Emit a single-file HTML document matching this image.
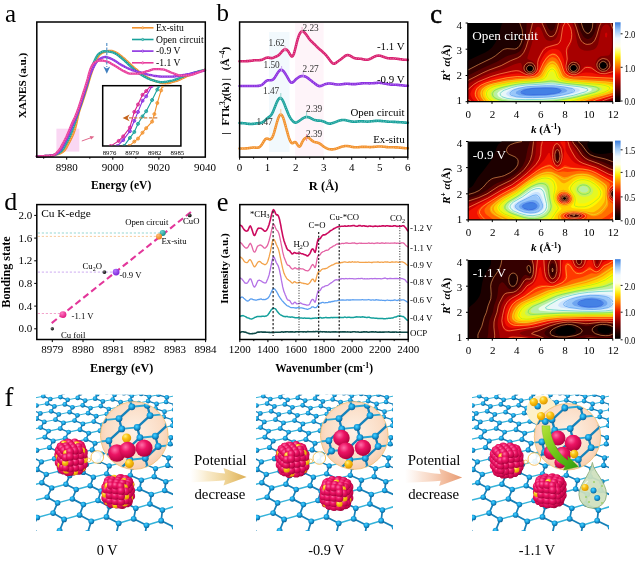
<!DOCTYPE html>
<html><head><meta charset="utf-8"><title>Figure</title>
<style>html,body{margin:0;padding:0;background:#fff}svg{display:block}text{font-family:"Liberation Serif",serif}</style>
</head><body>
<svg width="640" height="564" viewBox="0 0 640 564">
<rect width="640" height="564" fill="#fff"/>
<text x="5" y="21.5" font-size="25">a</text>
<rect x="56.4" y="128.7" width="22.9" height="22.9" fill="#f9cdf0" opacity=".8"/>
<path d="M36.8 156.3 38.2 156.3 39.6 156.3 41 156.2 42.5 156.1 43.9 156.1 45.3 156 46.7 155.9 48.1 155.8 49.5 155.7 50.9 155.5 52.3 155.3 53.8 155 55.2 154.8 56.6 154.5 58 154.1 59.4 153.6 60.8 153.1 62.2 152.3 63.7 151.1 65.1 149.6 66.5 147.5 67.9 144.8 69.3 142.1 70.7 139.5 72.1 136.6 73.5 133.4 75 129 76.4 123.4 77.8 116.8 79.2 111.3 80.6 107 82 103.1 83.4 98.9 84.9 94.5 86.3 89.9 87.7 85.3 89.1 80.5 90.5 76 91.9 71.7 93.3 67.5 94.8 63.4 96.2 60.2 97.6 57.5 99 55.3 100.4 54 101.8 53.1 103.2 52.3 104.6 51.8 106.1 51.4 107.5 51.1 108.9 50.9 110.3 50.8 111.7 50.9 113.1 51.4 114.5 51.9 116 52.6 117.4 53.3 118.8 54.2 120.2 55.3 121.6 56.4 123 57.6 124.4 58.7 125.8 60 127.3 61.3 128.7 62.7 130.1 64 131.5 65.4 132.9 66.6 134.3 67.8 135.7 69 137.2 70.2 138.6 71.4 140 72.5 141.4 73.6 142.8 74.5 144.2 75.5 145.6 76.4 147 77.2 148.5 78 149.9 78.8 151.3 79.5 152.7 80.1 154.1 80.6 155.5 81.1 156.9 81.6 158.4 82 159.8 82.4 161.2 82.8 162.6 83.1 164 83.2 165.4 83.3 166.8 83.2 168.3 83 169.7 82.8 171.1 82.4 172.5 82 173.9 81.6 175.3 81.2 176.7 80.8 178.1 80.3 179.6 79.7 181 79 182.4 78.3 183.8 77.6 185.2 77 186.6 76.3 188 75.7 189.5 75.1 190.9 74.6 192.3 74 193.7 73.4 195.1 72.9 196.5 72.4 197.9 71.9 199.3 71.4 200.8 71 202.2 70.6 203.6 70.2 205 69.9" fill="none" stroke="#f2912c" stroke-width="2.3" stroke-linejoin="round" stroke-linecap="round"/><path d="M36.8 156.3 38.2 156.3 39.6 156.3 41 156.2 42.5 156.1 43.9 156.1 45.3 156 46.7 155.9 48.1 155.8 49.5 155.7 50.9 155.5 52.3 155.3 53.8 155 55.2 154.8 56.6 154.5 58 154.1 59.4 153.6 60.8 153.1 62.2 152.3 63.7 151.1 65.1 149.6 66.5 147.5 67.9 144.8 69.3 142.1 70.7 139.5 72.1 136.6 73.5 133.4 75 129 76.4 123.4 77.8 116.8 79.2 111.3 80.6 107 82 103.1 83.4 98.9 84.9 94.5 86.3 89.9 87.7 85.3 89.1 80.5 90.5 76 91.9 71.7 93.3 67.5 94.8 63.4 96.2 60.2 97.6 57.5 99 55.3 100.4 54 101.8 53.1 103.2 52.3 104.6 51.8 106.1 51.4 107.5 51.1 108.9 50.9 110.3 50.8 111.7 50.9 113.1 51.4 114.5 51.9 116 52.6 117.4 53.3 118.8 54.2 120.2 55.3 121.6 56.4 123 57.6 124.4 58.7 125.8 60 127.3 61.3 128.7 62.7 130.1 64 131.5 65.4 132.9 66.6 134.3 67.8 135.7 69 137.2 70.2 138.6 71.4 140 72.5 141.4 73.6 142.8 74.5 144.2 75.5 145.6 76.4 147 77.2 148.5 78 149.9 78.8 151.3 79.5 152.7 80.1 154.1 80.6 155.5 81.1 156.9 81.6 158.4 82 159.8 82.4 161.2 82.8 162.6 83.1 164 83.2 165.4 83.3 166.8 83.2 168.3 83 169.7 82.8 171.1 82.4 172.5 82 173.9 81.6 175.3 81.2 176.7 80.8 178.1 80.3 179.6 79.7 181 79 182.4 78.3 183.8 77.6 185.2 77 186.6 76.3 188 75.7 189.5 75.1 190.9 74.6 192.3 74 193.7 73.4 195.1 72.9 196.5 72.4 197.9 71.9 199.3 71.4 200.8 71 202.2 70.6 203.6 70.2 205 69.9" fill="none" stroke="#fff" stroke-opacity=".35" stroke-width="0.9" stroke-dasharray="1.2 1.2"/>
<path d="M36.8 156.3 38.2 156.3 39.6 156.3 41 156.2 42.5 156.1 43.9 156.1 45.3 156 46.7 155.9 48.1 155.8 49.5 155.7 50.9 155.5 52.3 155.3 53.8 155 55.2 154.7 56.6 154.2 58 153.5 59.4 152.7 60.8 151.6 62.2 150.1 63.7 148.2 65.1 145.6 66.5 142.9 67.9 140.3 69.3 137.5 70.7 134.4 72.1 130.8 73.5 126.6 75 122.3 76.4 118 77.8 113.6 79.2 109.4 80.6 105.3 82 101.1 83.4 96.8 84.9 92.2 86.3 87.6 87.7 83.1 89.1 78.3 90.5 73.2 91.9 68.1 93.3 63.6 94.8 60.2 96.2 57.3 97.6 55 99 53.7 100.4 52.7 101.8 51.9 103.2 51.4 104.6 51.2 106.1 51.3 107.5 51.4 108.9 51.6 110.3 51.8 111.7 52.1 113.1 52.5 114.5 53.1 116 53.9 117.4 54.9 118.8 55.9 120.2 57 121.6 58.1 123 59.3 124.4 60.5 125.8 61.9 127.3 63.2 128.7 64.6 130.1 65.9 131.5 67.1 132.9 68.3 134.3 69.5 135.7 70.8 137.2 71.9 138.6 73 140 74 141.4 74.9 142.8 75.8 144.2 76.6 145.6 77.3 147 78.1 148.5 78.7 149.9 79.3 151.3 79.8 152.7 80.2 154.1 80.7 155.5 81.1 156.9 81.5 158.4 81.8 159.8 82 161.2 82.1 162.6 82.1 164 82 165.4 81.8 166.8 81.6 168.3 81.3 169.7 81 171.1 80.8 172.5 80.5 173.9 80.1 175.3 79.6 176.7 79.1 178.1 78.6 179.6 78 181 77.4 182.4 76.8 183.8 76.3 185.2 75.7 186.6 75.2 188 74.8 189.5 74.3 190.9 73.8 192.3 73.3 193.7 72.8 195.1 72.4 196.5 72 197.9 71.6 199.3 71.2 200.8 70.8 202.2 70.5 203.6 70.2 205 69.9" fill="none" stroke="#18a19b" stroke-width="2.3" stroke-linejoin="round" stroke-linecap="round"/><path d="M36.8 156.3 38.2 156.3 39.6 156.3 41 156.2 42.5 156.1 43.9 156.1 45.3 156 46.7 155.9 48.1 155.8 49.5 155.7 50.9 155.5 52.3 155.3 53.8 155 55.2 154.7 56.6 154.2 58 153.5 59.4 152.7 60.8 151.6 62.2 150.1 63.7 148.2 65.1 145.6 66.5 142.9 67.9 140.3 69.3 137.5 70.7 134.4 72.1 130.8 73.5 126.6 75 122.3 76.4 118 77.8 113.6 79.2 109.4 80.6 105.3 82 101.1 83.4 96.8 84.9 92.2 86.3 87.6 87.7 83.1 89.1 78.3 90.5 73.2 91.9 68.1 93.3 63.6 94.8 60.2 96.2 57.3 97.6 55 99 53.7 100.4 52.7 101.8 51.9 103.2 51.4 104.6 51.2 106.1 51.3 107.5 51.4 108.9 51.6 110.3 51.8 111.7 52.1 113.1 52.5 114.5 53.1 116 53.9 117.4 54.9 118.8 55.9 120.2 57 121.6 58.1 123 59.3 124.4 60.5 125.8 61.9 127.3 63.2 128.7 64.6 130.1 65.9 131.5 67.1 132.9 68.3 134.3 69.5 135.7 70.8 137.2 71.9 138.6 73 140 74 141.4 74.9 142.8 75.8 144.2 76.6 145.6 77.3 147 78.1 148.5 78.7 149.9 79.3 151.3 79.8 152.7 80.2 154.1 80.7 155.5 81.1 156.9 81.5 158.4 81.8 159.8 82 161.2 82.1 162.6 82.1 164 82 165.4 81.8 166.8 81.6 168.3 81.3 169.7 81 171.1 80.8 172.5 80.5 173.9 80.1 175.3 79.6 176.7 79.1 178.1 78.6 179.6 78 181 77.4 182.4 76.8 183.8 76.3 185.2 75.7 186.6 75.2 188 74.8 189.5 74.3 190.9 73.8 192.3 73.3 193.7 72.8 195.1 72.4 196.5 72 197.9 71.6 199.3 71.2 200.8 70.8 202.2 70.5 203.6 70.2 205 69.9" fill="none" stroke="#fff" stroke-opacity=".35" stroke-width="0.9" stroke-dasharray="1.2 1.2"/>
<path d="M36.8 156.3 38.2 156.3 39.6 156.3 41 156.2 42.5 156.1 43.9 156.1 45.3 156 46.7 155.9 48.1 155.8 49.5 155.7 50.9 155.5 52.3 155.3 53.8 155.1 55.2 154.5 56.6 153.6 58 152.5 59.4 151.1 60.8 149.4 62.2 147.2 63.7 144.5 65.1 141.8 66.5 139.2 67.9 136.2 69.3 133 70.7 129.5 72.1 125.9 73.5 122.6 75 119.4 76.4 116.1 77.8 112.5 79.2 108.5 80.6 104.3 82 99.9 83.4 95.5 84.9 90.9 86.3 86.2 87.7 81.4 89.1 77 90.5 73.6 91.9 70.6 93.3 67.6 94.8 64.8 96.2 62.5 97.6 60.9 99 59.5 100.4 58.5 101.8 57.9 103.2 57.4 104.6 57 106.1 57 107.5 57.3 108.9 57.8 110.3 58.4 111.7 59 113.1 59.7 114.5 60.5 116 61.4 117.4 62.4 118.8 63.4 120.2 64.3 121.6 65.1 123 65.8 124.4 66.6 125.8 67.3 127.3 68 128.7 68.6 130.1 69.2 131.5 69.8 132.9 70.3 134.3 70.7 135.7 71.1 137.2 71.6 138.6 72 140 72.3 141.4 72.7 142.8 73.1 144.2 73.5 145.6 73.9 147 74.3 148.5 74.7 149.9 75 151.3 75.2 152.7 75.5 154.1 75.8 155.5 76 156.9 76.2 158.4 76.4 159.8 76.5 161.2 76.6 162.6 76.6 164 76.6 165.4 76.6 166.8 76.6 168.3 76.6 169.7 76.6 171.1 76.6 172.5 76.6 173.9 76.5 175.3 76.4 176.7 76.2 178.1 76 179.6 75.7 181 75.5 182.4 75.2 183.8 74.9 185.2 74.7 186.6 74.4 188 74.1 189.5 73.9 190.9 73.5 192.3 73.2 193.7 72.9 195.1 72.6 196.5 72.3 197.9 72 199.3 71.7 200.8 71.4 202.2 71.1 203.6 70.8 205 70.5" fill="none" stroke="#8b2fe0" stroke-width="2.3" stroke-linejoin="round" stroke-linecap="round"/><path d="M36.8 156.3 38.2 156.3 39.6 156.3 41 156.2 42.5 156.1 43.9 156.1 45.3 156 46.7 155.9 48.1 155.8 49.5 155.7 50.9 155.5 52.3 155.3 53.8 155.1 55.2 154.5 56.6 153.6 58 152.5 59.4 151.1 60.8 149.4 62.2 147.2 63.7 144.5 65.1 141.8 66.5 139.2 67.9 136.2 69.3 133 70.7 129.5 72.1 125.9 73.5 122.6 75 119.4 76.4 116.1 77.8 112.5 79.2 108.5 80.6 104.3 82 99.9 83.4 95.5 84.9 90.9 86.3 86.2 87.7 81.4 89.1 77 90.5 73.6 91.9 70.6 93.3 67.6 94.8 64.8 96.2 62.5 97.6 60.9 99 59.5 100.4 58.5 101.8 57.9 103.2 57.4 104.6 57 106.1 57 107.5 57.3 108.9 57.8 110.3 58.4 111.7 59 113.1 59.7 114.5 60.5 116 61.4 117.4 62.4 118.8 63.4 120.2 64.3 121.6 65.1 123 65.8 124.4 66.6 125.8 67.3 127.3 68 128.7 68.6 130.1 69.2 131.5 69.8 132.9 70.3 134.3 70.7 135.7 71.1 137.2 71.6 138.6 72 140 72.3 141.4 72.7 142.8 73.1 144.2 73.5 145.6 73.9 147 74.3 148.5 74.7 149.9 75 151.3 75.2 152.7 75.5 154.1 75.8 155.5 76 156.9 76.2 158.4 76.4 159.8 76.5 161.2 76.6 162.6 76.6 164 76.6 165.4 76.6 166.8 76.6 168.3 76.6 169.7 76.6 171.1 76.6 172.5 76.6 173.9 76.5 175.3 76.4 176.7 76.2 178.1 76 179.6 75.7 181 75.5 182.4 75.2 183.8 74.9 185.2 74.7 186.6 74.4 188 74.1 189.5 73.9 190.9 73.5 192.3 73.2 193.7 72.9 195.1 72.6 196.5 72.3 197.9 72 199.3 71.7 200.8 71.4 202.2 71.1 203.6 70.8 205 70.5" fill="none" stroke="#fff" stroke-opacity=".35" stroke-width="0.9" stroke-dasharray="1.2 1.2"/>
<path d="M36.8 156.3 38.2 156.3 39.6 156.3 41 156.2 42.5 156.1 43.9 156.1 45.3 156 46.7 155.9 48.1 155.8 49.5 155.7 50.9 155.5 52.3 155.3 53.8 155.1 55.2 154.2 56.6 152.8 58 151.3 59.4 149.7 60.8 147.6 62.2 144.9 63.7 142.2 65.1 139.6 66.5 136.7 67.9 133.4 69.3 130.1 70.7 126.6 72.1 123.3 73.5 120.2 75 117.2 76.4 113.8 77.8 110 79.2 105.9 80.6 101.5 82 97.1 83.4 92.6 84.9 88 86.3 83.5 87.7 78.8 89.1 73.3 90.5 68.9 91.9 65.8 93.3 63.6 94.8 62.3 96.2 61.5 97.6 60.9 99 60.5 100.4 60.4 101.8 60.5 103.2 60.7 104.6 61 106.1 61.3 107.5 61.7 108.9 62.3 110.3 63.1 111.7 63.9 113.1 64.7 114.5 65.5 116 66.4 117.4 67.3 118.8 68.2 120.2 69.1 121.6 69.9 123 70.7 124.4 71.4 125.8 72.1 127.3 72.8 128.7 73.3 130.1 73.6 131.5 73.6 132.9 73.6 134.3 73.6 135.7 73.6 137.2 73.6 138.6 73.6 140 73.5 141.4 73.2 142.8 72.7 144.2 72.2 145.6 71.6 147 71.2 148.5 70.8 149.9 70.3 151.3 69.8 152.7 69.4 154.1 69.2 155.5 69.1 156.9 69.1 158.4 69.2 159.8 69.2 161.2 69.3 162.6 69.4 164 69.6 165.4 70 166.8 70.6 168.3 71.2 169.7 71.9 171.1 72.5 172.5 73 173.9 73.5 175.3 74.1 176.7 74.6 178.1 75.1 179.6 75.4 181 75.6 182.4 75.6 183.8 75.6 185.2 75.5 186.6 75.4 188 75.3 189.5 75.2 190.9 75 192.3 74.7 193.7 74.2 195.1 73.6 196.5 73.1 197.9 72.6 199.3 72.1 200.8 71.5 202.2 71 203.6 70.5 205 69.9" fill="none" stroke="#e8399a" stroke-width="2.3" stroke-linejoin="round" stroke-linecap="round"/><path d="M36.8 156.3 38.2 156.3 39.6 156.3 41 156.2 42.5 156.1 43.9 156.1 45.3 156 46.7 155.9 48.1 155.8 49.5 155.7 50.9 155.5 52.3 155.3 53.8 155.1 55.2 154.2 56.6 152.8 58 151.3 59.4 149.7 60.8 147.6 62.2 144.9 63.7 142.2 65.1 139.6 66.5 136.7 67.9 133.4 69.3 130.1 70.7 126.6 72.1 123.3 73.5 120.2 75 117.2 76.4 113.8 77.8 110 79.2 105.9 80.6 101.5 82 97.1 83.4 92.6 84.9 88 86.3 83.5 87.7 78.8 89.1 73.3 90.5 68.9 91.9 65.8 93.3 63.6 94.8 62.3 96.2 61.5 97.6 60.9 99 60.5 100.4 60.4 101.8 60.5 103.2 60.7 104.6 61 106.1 61.3 107.5 61.7 108.9 62.3 110.3 63.1 111.7 63.9 113.1 64.7 114.5 65.5 116 66.4 117.4 67.3 118.8 68.2 120.2 69.1 121.6 69.9 123 70.7 124.4 71.4 125.8 72.1 127.3 72.8 128.7 73.3 130.1 73.6 131.5 73.6 132.9 73.6 134.3 73.6 135.7 73.6 137.2 73.6 138.6 73.6 140 73.5 141.4 73.2 142.8 72.7 144.2 72.2 145.6 71.6 147 71.2 148.5 70.8 149.9 70.3 151.3 69.8 152.7 69.4 154.1 69.2 155.5 69.1 156.9 69.1 158.4 69.2 159.8 69.2 161.2 69.3 162.6 69.4 164 69.6 165.4 70 166.8 70.6 168.3 71.2 169.7 71.9 171.1 72.5 172.5 73 173.9 73.5 175.3 74.1 176.7 74.6 178.1 75.1 179.6 75.4 181 75.6 182.4 75.6 183.8 75.6 185.2 75.5 186.6 75.4 188 75.3 189.5 75.2 190.9 75 192.3 74.7 193.7 74.2 195.1 73.6 196.5 73.1 197.9 72.6 199.3 72.1 200.8 71.5 202.2 71 203.6 70.5 205 69.9" fill="none" stroke="#fff" stroke-opacity=".35" stroke-width="0.9" stroke-dasharray="1.2 1.2"/>
<path d="M106.8 43v24" stroke="#4a8ac4" stroke-width="1.1" stroke-dasharray="3 1.6" fill="none"/>
<path d="M103.4 66.5l3.4 2 3.4-2-3.4 7.2z" fill="#3f7fbf"/>
<path d="M132 27.8h21.5" stroke="#f2912c" stroke-width="1.6"/>
<circle cx="142.7" cy="27.8" r="1.1" fill="#fff" fill-opacity=".5" stroke="#f2912c" stroke-width=".8"/>
<text x="156" y="30.9" font-size="9.6">Ex-situ</text>
<path d="M132 39.5h21.5" stroke="#18a19b" stroke-width="1.6"/>
<circle cx="142.7" cy="39.5" r="1.1" fill="#fff" fill-opacity=".5" stroke="#18a19b" stroke-width=".8"/>
<text x="156" y="42.6" font-size="9.6">Open circuit</text>
<path d="M132 51.1h21.5" stroke="#8b2fe0" stroke-width="1.6"/>
<circle cx="142.7" cy="51.1" r="1.1" fill="#fff" fill-opacity=".5" stroke="#8b2fe0" stroke-width=".8"/>
<text x="156" y="54.2" font-size="9.6">-0.9 V</text>
<path d="M132 62.8h21.5" stroke="#e8399a" stroke-width="1.6"/>
<circle cx="142.7" cy="62.8" r="1.1" fill="#fff" fill-opacity=".5" stroke="#e8399a" stroke-width=".8"/>
<text x="156" y="65.8" font-size="9.6">-1.1 V</text>
<path d="M81.8 141l9.5-3.4" stroke="#e0688c" stroke-width="1" fill="none"/><path d="M94.3 136.5l-4.6-.4 1.4 3.3z" fill="#e0688c"/>
<rect x="102.7" y="85.7" width="78.2" height="60.3" fill="#fff" stroke="#000" stroke-width="1.5"/>
<clipPath id="ci"><rect x="103.4" y="86.4" width="76.8" height="58.9"/></clipPath>
<g clip-path="url(#ci)"><path d="M129.1 146.1 134.3 141.6 138 138.6 142.5 132.7 146.2 128.2 152.1 121.6 154.4 114.1 157.3 103 161.1 90.4 162.5 85.9" fill="none" stroke="#f2912c" stroke-width="1.1"/><circle cx="129.1" cy="146.1" r="1.5" fill="#f2912c" fill-opacity=".55" stroke="#f2912c" stroke-width=".9"/><circle cx="134.3" cy="141.6" r="1.5" fill="#f2912c" fill-opacity=".55" stroke="#f2912c" stroke-width=".9"/><circle cx="138" cy="138.6" r="1.5" fill="#f2912c" fill-opacity=".55" stroke="#f2912c" stroke-width=".9"/><circle cx="142.5" cy="132.7" r="1.5" fill="#f2912c" fill-opacity=".55" stroke="#f2912c" stroke-width=".9"/><circle cx="146.2" cy="128.2" r="1.5" fill="#f2912c" fill-opacity=".55" stroke="#f2912c" stroke-width=".9"/><circle cx="152.1" cy="121.6" r="1.5" fill="#f2912c" fill-opacity=".55" stroke="#f2912c" stroke-width=".9"/><circle cx="154.4" cy="114.1" r="1.5" fill="#f2912c" fill-opacity=".55" stroke="#f2912c" stroke-width=".9"/><circle cx="157.3" cy="103" r="1.5" fill="#f2912c" fill-opacity=".55" stroke="#f2912c" stroke-width=".9"/><circle cx="161.1" cy="90.4" r="1.5" fill="#f2912c" fill-opacity=".55" stroke="#f2912c" stroke-width=".9"/><circle cx="162.5" cy="85.9" r="1.5" fill="#f2912c" fill-opacity=".55" stroke="#f2912c" stroke-width=".9"/><path d="M123.9 146.1 129.9 137.9 134.3 132 138 123.8 142.5 116.4 146.2 111.2 152.1 100 157.3 89.6 158.8 85.9" fill="none" stroke="#18a19b" stroke-width="1.1"/><circle cx="123.9" cy="146.1" r="1.5" fill="#18a19b" fill-opacity=".55" stroke="#18a19b" stroke-width=".9"/><circle cx="129.9" cy="137.9" r="1.5" fill="#18a19b" fill-opacity=".55" stroke="#18a19b" stroke-width=".9"/><circle cx="134.3" cy="132" r="1.5" fill="#18a19b" fill-opacity=".55" stroke="#18a19b" stroke-width=".9"/><circle cx="138" cy="123.8" r="1.5" fill="#18a19b" fill-opacity=".55" stroke="#18a19b" stroke-width=".9"/><circle cx="142.5" cy="116.4" r="1.5" fill="#18a19b" fill-opacity=".55" stroke="#18a19b" stroke-width=".9"/><circle cx="146.2" cy="111.2" r="1.5" fill="#18a19b" fill-opacity=".55" stroke="#18a19b" stroke-width=".9"/><circle cx="152.1" cy="100" r="1.5" fill="#18a19b" fill-opacity=".55" stroke="#18a19b" stroke-width=".9"/><circle cx="157.3" cy="89.6" r="1.5" fill="#18a19b" fill-opacity=".55" stroke="#18a19b" stroke-width=".9"/><circle cx="158.8" cy="85.9" r="1.5" fill="#18a19b" fill-opacity=".55" stroke="#18a19b" stroke-width=".9"/><path d="M117.3 146.1 123.2 140.1 129.9 131.2 134.3 120.8 138 111.9 142.5 100.8 146.2 96.3 152.1 85.9" fill="none" stroke="#8b2fe0" stroke-width="1.1"/><circle cx="117.3" cy="146.1" r="1.5" fill="#8b2fe0" fill-opacity=".55" stroke="#8b2fe0" stroke-width=".9"/><circle cx="123.2" cy="140.1" r="1.5" fill="#8b2fe0" fill-opacity=".55" stroke="#8b2fe0" stroke-width=".9"/><circle cx="129.9" cy="131.2" r="1.5" fill="#8b2fe0" fill-opacity=".55" stroke="#8b2fe0" stroke-width=".9"/><circle cx="134.3" cy="120.8" r="1.5" fill="#8b2fe0" fill-opacity=".55" stroke="#8b2fe0" stroke-width=".9"/><circle cx="138" cy="111.9" r="1.5" fill="#8b2fe0" fill-opacity=".55" stroke="#8b2fe0" stroke-width=".9"/><circle cx="142.5" cy="100.8" r="1.5" fill="#8b2fe0" fill-opacity=".55" stroke="#8b2fe0" stroke-width=".9"/><circle cx="146.2" cy="96.3" r="1.5" fill="#8b2fe0" fill-opacity=".55" stroke="#8b2fe0" stroke-width=".9"/><circle cx="152.1" cy="85.9" r="1.5" fill="#8b2fe0" fill-opacity=".55" stroke="#8b2fe0" stroke-width=".9"/><path d="M110.6 146.1 118.7 140.9 123.2 136.4 129.9 127.5 134.3 111.9 138 104.5 142.5 94.8 146.2 91.1 150.7 85.9" fill="none" stroke="#d81e8c" stroke-width="1.1"/><circle cx="110.6" cy="146.1" r="1.5" fill="#d81e8c" fill-opacity=".55" stroke="#d81e8c" stroke-width=".9"/><circle cx="118.7" cy="140.9" r="1.5" fill="#d81e8c" fill-opacity=".55" stroke="#d81e8c" stroke-width=".9"/><circle cx="123.2" cy="136.4" r="1.5" fill="#d81e8c" fill-opacity=".55" stroke="#d81e8c" stroke-width=".9"/><circle cx="129.9" cy="127.5" r="1.5" fill="#d81e8c" fill-opacity=".55" stroke="#d81e8c" stroke-width=".9"/><circle cx="134.3" cy="111.9" r="1.5" fill="#d81e8c" fill-opacity=".55" stroke="#d81e8c" stroke-width=".9"/><circle cx="138" cy="104.5" r="1.5" fill="#d81e8c" fill-opacity=".55" stroke="#d81e8c" stroke-width=".9"/><circle cx="142.5" cy="94.8" r="1.5" fill="#d81e8c" fill-opacity=".55" stroke="#d81e8c" stroke-width=".9"/><circle cx="146.2" cy="91.1" r="1.5" fill="#d81e8c" fill-opacity=".55" stroke="#d81e8c" stroke-width=".9"/><circle cx="150.7" cy="85.9" r="1.5" fill="#d81e8c" fill-opacity=".55" stroke="#d81e8c" stroke-width=".9"/></g>
<path d="M157.3 117.9H128" stroke="#cf7f45" stroke-width="1.1" stroke-dasharray="3.4 1.6" fill="none"/>
<path d="M129.6 114.6l-2 3.3 2 3.3-7-3.3z" fill="#c4621a"/>
<text x="109.5" y="154.6" font-size="6.8" text-anchor="middle">8976</text>
<text x="132.1" y="154.6" font-size="6.8" text-anchor="middle">8979</text>
<text x="154.7" y="154.6" font-size="6.8" text-anchor="middle">8982</text>
<text x="177.4" y="154.6" font-size="6.8" text-anchor="middle">8985</text>
<rect x="36.8" y="22.0" width="168.5" height="135.1" fill="none" stroke="#000" stroke-width="1.5"/>
<path d="M43.7 157.1v1.6" stroke="#000" stroke-width="1"/>
<path d="M66.7 157.1v2.6" stroke="#000" stroke-width="1"/>
<path d="M89.8 157.1v1.6" stroke="#000" stroke-width="1"/>
<path d="M112.8 157.1v2.6" stroke="#000" stroke-width="1"/>
<path d="M135.9 157.1v1.6" stroke="#000" stroke-width="1"/>
<path d="M158.9 157.1v2.6" stroke="#000" stroke-width="1"/>
<path d="M182 157.1v1.6" stroke="#000" stroke-width="1"/>
<text x="66.7" y="170.8" font-size="11" text-anchor="middle">8980</text>
<text x="112.8" y="170.8" font-size="11" text-anchor="middle">9000</text>
<text x="158.9" y="170.8" font-size="11" text-anchor="middle">9020</text>
<text x="205" y="170.8" font-size="11" text-anchor="middle">9040</text>
<text x="121.2" y="189" font-size="11.6" text-anchor="middle" font-weight="bold">Energy (eV)</text>
<text transform="translate(25.6 85.5) rotate(-90)" font-size="11.2" text-anchor="middle" font-weight="bold">XANES (a.u.)</text>
<text x="216.5" y="21.3" font-size="25">b</text>
<rect x="269" y="32" width="20.5" height="120" fill="#eef7fc" opacity=".75"/>
<rect x="295.1" y="23" width="28.6" height="133" fill="#fdf0f6" opacity=".7"/>
<path d="M239.6 61.2 240.3 61.2 241 61.2 241.7 61.2 242.4 61.2 243.1 61.2 243.8 61.2 244.5 61.2 245.2 61.2 245.9 61.2 246.6 61.1 247.3 61.1 248 61.1 248.7 61 249.5 60.9 250.2 60.9 250.9 60.8 251.6 60.7 252.3 60.6 253 60.5 253.7 60.4 254.4 60.3 255.1 60.2 255.8 60.2 256.5 60.2 257.2 60.2 257.9 60.2 258.6 60.2 259.3 60.2 260 60.1 260.7 60 261.4 59.9 262.1 59.7 262.8 59.4 263.5 59.1 264.2 58.8 264.9 58.4 265.6 58.1 266.3 57.8 267 57.7 267.8 57.6 268.5 57.6 269.2 57.7 269.9 57.9 270.6 58 271.3 58.1 272 58.1 272.7 57.9 273.4 57.7 274.1 57.4 274.8 57.1 275.5 56.8 276.2 56.5 276.9 56.2 277.6 55.8 278.3 55.4 279 54.8 279.7 54.2 280.4 53.4 281.1 52.6 281.8 51.7 282.5 51 283.2 50.3 283.9 49.7 284.6 49.4 285.3 49.3 286 49.5 286.8 49.8 287.5 50.5 288.2 51.3 288.9 52.4 289.6 53.6 290.3 54.8 291 55.8 291.7 56.4 292.4 56.4 293.1 55.6 293.8 54 294.5 51.7 295.2 49 295.9 46.1 296.6 43.2 297.3 40.6 298 38.2 298.7 36.1 299.4 34.4 300.1 33.1 300.8 32.2 301.5 31.6 302.2 31.4 302.9 31.4 303.6 31.8 304.3 32.4 305.1 33.2 305.8 34.1 306.5 35.1 307.2 36.1 307.9 37.1 308.6 38.1 309.3 39 310 39.8 310.7 40.6 311.4 41.3 312.1 42 312.8 42.7 313.5 43.4 314.2 44 314.9 44.7 315.6 45.4 316.3 46.1 317 46.8 317.7 47.5 318.4 48.2 319.1 48.8 319.8 49.4 320.5 50 321.2 50.6 321.9 51.2 322.6 51.8 323.3 52.5 324.1 53.2 324.8 53.9 325.5 54.6 326.2 55.4 326.9 56.3 327.6 57.1 328.3 58 329 59 329.7 59.9 330.4 60.9 331.1 61.8 331.8 62.5 332.5 63.2 333.2 63.5 333.9 63.7 334.6 63.6 335.3 63.3 336 62.9 336.7 62.3 337.4 61.8 338.1 61.3 338.8 60.8 339.5 60.3 340.2 59.8 340.9 59.2 341.6 58.7 342.3 58.1 343.1 57.5 343.8 57 344.5 56.4 345.2 55.9 345.9 55.5 346.6 55.2 347.3 55.1 348 55.1 348.7 55.2 349.4 55.4 350.1 55.7 350.8 56.1 351.5 56.5 352.2 57 352.9 57.4 353.6 57.7 354.3 58 355 58.2 355.7 58.4 356.4 58.5 357.1 58.6 357.8 58.6 358.5 58.6 359.2 58.7 359.9 58.7 360.6 58.8 361.4 58.9 362.1 59 362.8 59.2 363.5 59.4 364.2 59.5 364.9 59.6 365.6 59.7 366.3 59.8 367 59.8 367.7 59.7 368.4 59.5 369.1 59.3 369.8 59 370.5 58.7 371.2 58.4 371.9 58 372.6 57.6 373.3 57.2 374 56.9 374.7 56.5 375.4 56.2 376.1 56 376.8 55.8 377.5 55.7 378.2 55.6 378.9 55.6 379.6 55.7 380.4 55.8 381.1 56 381.8 56.2 382.5 56.5 383.2 56.8 383.9 57 384.6 57.3 385.3 57.5 386 57.8 386.7 57.9 387.4 58.1 388.1 58.2 388.8 58.3 389.5 58.4 390.2 58.4 390.9 58.4 391.6 58.4 392.3 58.4 393 58.4 393.7 58.5 394.4 58.5 395.1 58.5 395.8 58.6 396.5 58.7 397.2 58.8 397.9 58.9 398.7 59 399.4 59.1 400.1 59.2 400.8 59.3 401.5 59.4 402.2 59.5 402.9 59.6 403.6 59.7 404.3 59.7 405 59.8 405.7 59.8 406.4 59.8 407.1 59.9 407.8 59.9" fill="none" stroke="#d81e6e" stroke-width="2.6" stroke-linejoin="round" stroke-linecap="round"/><path d="M239.6 61.2 240.3 61.2 241 61.2 241.7 61.2 242.4 61.2 243.1 61.2 243.8 61.2 244.5 61.2 245.2 61.2 245.9 61.2 246.6 61.1 247.3 61.1 248 61.1 248.7 61 249.5 60.9 250.2 60.9 250.9 60.8 251.6 60.7 252.3 60.6 253 60.5 253.7 60.4 254.4 60.3 255.1 60.2 255.8 60.2 256.5 60.2 257.2 60.2 257.9 60.2 258.6 60.2 259.3 60.2 260 60.1 260.7 60 261.4 59.9 262.1 59.7 262.8 59.4 263.5 59.1 264.2 58.8 264.9 58.4 265.6 58.1 266.3 57.8 267 57.7 267.8 57.6 268.5 57.6 269.2 57.7 269.9 57.9 270.6 58 271.3 58.1 272 58.1 272.7 57.9 273.4 57.7 274.1 57.4 274.8 57.1 275.5 56.8 276.2 56.5 276.9 56.2 277.6 55.8 278.3 55.4 279 54.8 279.7 54.2 280.4 53.4 281.1 52.6 281.8 51.7 282.5 51 283.2 50.3 283.9 49.7 284.6 49.4 285.3 49.3 286 49.5 286.8 49.8 287.5 50.5 288.2 51.3 288.9 52.4 289.6 53.6 290.3 54.8 291 55.8 291.7 56.4 292.4 56.4 293.1 55.6 293.8 54 294.5 51.7 295.2 49 295.9 46.1 296.6 43.2 297.3 40.6 298 38.2 298.7 36.1 299.4 34.4 300.1 33.1 300.8 32.2 301.5 31.6 302.2 31.4 302.9 31.4 303.6 31.8 304.3 32.4 305.1 33.2 305.8 34.1 306.5 35.1 307.2 36.1 307.9 37.1 308.6 38.1 309.3 39 310 39.8 310.7 40.6 311.4 41.3 312.1 42 312.8 42.7 313.5 43.4 314.2 44 314.9 44.7 315.6 45.4 316.3 46.1 317 46.8 317.7 47.5 318.4 48.2 319.1 48.8 319.8 49.4 320.5 50 321.2 50.6 321.9 51.2 322.6 51.8 323.3 52.5 324.1 53.2 324.8 53.9 325.5 54.6 326.2 55.4 326.9 56.3 327.6 57.1 328.3 58 329 59 329.7 59.9 330.4 60.9 331.1 61.8 331.8 62.5 332.5 63.2 333.2 63.5 333.9 63.7 334.6 63.6 335.3 63.3 336 62.9 336.7 62.3 337.4 61.8 338.1 61.3 338.8 60.8 339.5 60.3 340.2 59.8 340.9 59.2 341.6 58.7 342.3 58.1 343.1 57.5 343.8 57 344.5 56.4 345.2 55.9 345.9 55.5 346.6 55.2 347.3 55.1 348 55.1 348.7 55.2 349.4 55.4 350.1 55.7 350.8 56.1 351.5 56.5 352.2 57 352.9 57.4 353.6 57.7 354.3 58 355 58.2 355.7 58.4 356.4 58.5 357.1 58.6 357.8 58.6 358.5 58.6 359.2 58.7 359.9 58.7 360.6 58.8 361.4 58.9 362.1 59 362.8 59.2 363.5 59.4 364.2 59.5 364.9 59.6 365.6 59.7 366.3 59.8 367 59.8 367.7 59.7 368.4 59.5 369.1 59.3 369.8 59 370.5 58.7 371.2 58.4 371.9 58 372.6 57.6 373.3 57.2 374 56.9 374.7 56.5 375.4 56.2 376.1 56 376.8 55.8 377.5 55.7 378.2 55.6 378.9 55.6 379.6 55.7 380.4 55.8 381.1 56 381.8 56.2 382.5 56.5 383.2 56.8 383.9 57 384.6 57.3 385.3 57.5 386 57.8 386.7 57.9 387.4 58.1 388.1 58.2 388.8 58.3 389.5 58.4 390.2 58.4 390.9 58.4 391.6 58.4 392.3 58.4 393 58.4 393.7 58.5 394.4 58.5 395.1 58.5 395.8 58.6 396.5 58.7 397.2 58.8 397.9 58.9 398.7 59 399.4 59.1 400.1 59.2 400.8 59.3 401.5 59.4 402.2 59.5 402.9 59.6 403.6 59.7 404.3 59.7 405 59.8 405.7 59.8 406.4 59.8 407.1 59.9 407.8 59.9" fill="none" stroke="#fff" stroke-opacity=".35" stroke-width="1" stroke-dasharray="1.2 1.2"/>
<path d="M239.6 86 240.3 86 241 86 241.7 86 242.4 86 243.1 86 243.8 86 244.5 86 245.2 86 245.9 86 246.6 86 247.3 86 248 86 248.7 86 249.5 86 250.2 86 250.9 86 251.6 86 252.3 86 253 86 253.7 86 254.4 86 255.1 86 255.8 86 256.5 86 257.2 86 257.9 85.9 258.6 85.9 259.3 85.8 260 85.6 260.7 85.4 261.4 85.1 262.1 84.7 262.8 84.2 263.5 83.6 264.2 82.9 264.9 82.2 265.6 81.6 266.3 81 267 80.6 267.8 80.3 268.5 80.2 269.2 80.2 269.9 80.2 270.6 80.3 271.3 80.3 272 80.1 272.7 79.8 273.4 79.2 274.1 78.5 274.8 77.5 275.5 76.4 276.2 75.3 276.9 74.1 277.6 73 278.3 72 279 71.1 279.7 70.4 280.4 70 281.1 69.8 281.8 69.9 282.5 70.3 283.2 70.9 283.9 71.7 284.6 72.6 285.3 73.7 286 74.9 286.8 76.1 287.5 77.4 288.2 78.6 288.9 79.9 289.6 81 290.3 81.9 291 82.6 291.7 82.8 292.4 82.6 293.1 82.2 293.8 81.5 294.5 80.8 295.2 80 295.9 79.3 296.6 78.7 297.3 78.2 298 77.7 298.7 77.2 299.4 76.8 300.1 76.5 300.8 76.3 301.5 76.1 302.2 76 302.9 76 303.6 76.1 304.3 76.2 305.1 76.5 305.8 76.8 306.5 77.2 307.2 77.6 307.9 78.1 308.6 78.6 309.3 79.2 310 79.7 310.7 80.3 311.4 80.8 312.1 81.4 312.8 82 313.5 82.5 314.2 83 314.9 83.6 315.6 84.1 316.3 84.6 317 85.1 317.7 85.5 318.4 85.9 319.1 86.1 319.8 86.1 320.5 86 321.2 85.9 321.9 85.6 322.6 85.3 323.3 84.9 324.1 84.6 324.8 84.3 325.5 84.1 326.2 83.9 326.9 83.7 327.6 83.6 328.3 83.5 329 83.5 329.7 83.5 330.4 83.5 331.1 83.6 331.8 83.7 332.5 83.8 333.2 83.9 333.9 84 334.6 84.2 335.3 84.3 336 84.4 336.7 84.5 337.4 84.5 338.1 84.5 338.8 84.5 339.5 84.5 340.2 84.5 340.9 84.4 341.6 84.3 342.3 84.2 343.1 84.1 343.8 84 344.5 83.9 345.2 83.9 345.9 83.8 346.6 83.8 347.3 83.8 348 83.8 348.7 83.9 349.4 83.9 350.1 84 350.8 84 351.5 84.1 352.2 84.1 352.9 84.1 353.6 84.1 354.3 84.1 355 84.1 355.7 84.1 356.4 84 357.1 83.9 357.8 83.8 358.5 83.7 359.2 83.7 359.9 83.6 360.6 83.5 361.4 83.4 362.1 83.4 362.8 83.3 363.5 83.3 364.2 83.3 364.9 83.3 365.6 83.3 366.3 83.3 367 83.3 367.7 83.3 368.4 83.3 369.1 83.4 369.8 83.4 370.5 83.3 371.2 83.3 371.9 83.3 372.6 83.3 373.3 83.2 374 83.1 374.7 83.1 375.4 83 376.1 83 376.8 82.9 377.5 82.9 378.2 82.8 378.9 82.8 379.6 82.8 380.4 82.9 381.1 82.9 381.8 83 382.5 83.1 383.2 83.2 383.9 83.4 384.6 83.5 385.3 83.7 386 83.8 386.7 83.9 387.4 84.1 388.1 84.2 388.8 84.3 389.5 84.4 390.2 84.5 390.9 84.6 391.6 84.6 392.3 84.6 393 84.7 393.7 84.7 394.4 84.7 395.1 84.8 395.8 84.8 396.5 84.8 397.2 84.9 397.9 84.9 398.7 85 399.4 85.1 400.1 85.1 400.8 85.2 401.5 85.3 402.2 85.4 402.9 85.5 403.6 85.5 404.3 85.6 405 85.7 405.7 85.7 406.4 85.8 407.1 85.8 407.8 85.9" fill="none" stroke="#8b2fe0" stroke-width="2.6" stroke-linejoin="round" stroke-linecap="round"/><path d="M239.6 86 240.3 86 241 86 241.7 86 242.4 86 243.1 86 243.8 86 244.5 86 245.2 86 245.9 86 246.6 86 247.3 86 248 86 248.7 86 249.5 86 250.2 86 250.9 86 251.6 86 252.3 86 253 86 253.7 86 254.4 86 255.1 86 255.8 86 256.5 86 257.2 86 257.9 85.9 258.6 85.9 259.3 85.8 260 85.6 260.7 85.4 261.4 85.1 262.1 84.7 262.8 84.2 263.5 83.6 264.2 82.9 264.9 82.2 265.6 81.6 266.3 81 267 80.6 267.8 80.3 268.5 80.2 269.2 80.2 269.9 80.2 270.6 80.3 271.3 80.3 272 80.1 272.7 79.8 273.4 79.2 274.1 78.5 274.8 77.5 275.5 76.4 276.2 75.3 276.9 74.1 277.6 73 278.3 72 279 71.1 279.7 70.4 280.4 70 281.1 69.8 281.8 69.9 282.5 70.3 283.2 70.9 283.9 71.7 284.6 72.6 285.3 73.7 286 74.9 286.8 76.1 287.5 77.4 288.2 78.6 288.9 79.9 289.6 81 290.3 81.9 291 82.6 291.7 82.8 292.4 82.6 293.1 82.2 293.8 81.5 294.5 80.8 295.2 80 295.9 79.3 296.6 78.7 297.3 78.2 298 77.7 298.7 77.2 299.4 76.8 300.1 76.5 300.8 76.3 301.5 76.1 302.2 76 302.9 76 303.6 76.1 304.3 76.2 305.1 76.5 305.8 76.8 306.5 77.2 307.2 77.6 307.9 78.1 308.6 78.6 309.3 79.2 310 79.7 310.7 80.3 311.4 80.8 312.1 81.4 312.8 82 313.5 82.5 314.2 83 314.9 83.6 315.6 84.1 316.3 84.6 317 85.1 317.7 85.5 318.4 85.9 319.1 86.1 319.8 86.1 320.5 86 321.2 85.9 321.9 85.6 322.6 85.3 323.3 84.9 324.1 84.6 324.8 84.3 325.5 84.1 326.2 83.9 326.9 83.7 327.6 83.6 328.3 83.5 329 83.5 329.7 83.5 330.4 83.5 331.1 83.6 331.8 83.7 332.5 83.8 333.2 83.9 333.9 84 334.6 84.2 335.3 84.3 336 84.4 336.7 84.5 337.4 84.5 338.1 84.5 338.8 84.5 339.5 84.5 340.2 84.5 340.9 84.4 341.6 84.3 342.3 84.2 343.1 84.1 343.8 84 344.5 83.9 345.2 83.9 345.9 83.8 346.6 83.8 347.3 83.8 348 83.8 348.7 83.9 349.4 83.9 350.1 84 350.8 84 351.5 84.1 352.2 84.1 352.9 84.1 353.6 84.1 354.3 84.1 355 84.1 355.7 84.1 356.4 84 357.1 83.9 357.8 83.8 358.5 83.7 359.2 83.7 359.9 83.6 360.6 83.5 361.4 83.4 362.1 83.4 362.8 83.3 363.5 83.3 364.2 83.3 364.9 83.3 365.6 83.3 366.3 83.3 367 83.3 367.7 83.3 368.4 83.3 369.1 83.4 369.8 83.4 370.5 83.3 371.2 83.3 371.9 83.3 372.6 83.3 373.3 83.2 374 83.1 374.7 83.1 375.4 83 376.1 83 376.8 82.9 377.5 82.9 378.2 82.8 378.9 82.8 379.6 82.8 380.4 82.9 381.1 82.9 381.8 83 382.5 83.1 383.2 83.2 383.9 83.4 384.6 83.5 385.3 83.7 386 83.8 386.7 83.9 387.4 84.1 388.1 84.2 388.8 84.3 389.5 84.4 390.2 84.5 390.9 84.6 391.6 84.6 392.3 84.6 393 84.7 393.7 84.7 394.4 84.7 395.1 84.8 395.8 84.8 396.5 84.8 397.2 84.9 397.9 84.9 398.7 85 399.4 85.1 400.1 85.1 400.8 85.2 401.5 85.3 402.2 85.4 402.9 85.5 403.6 85.5 404.3 85.6 405 85.7 405.7 85.7 406.4 85.8 407.1 85.8 407.8 85.9" fill="none" stroke="#fff" stroke-opacity=".35" stroke-width="1" stroke-dasharray="1.2 1.2"/>
<path d="M239.6 123 240.3 123 241 123.1 241.7 123.1 242.4 123.1 243.1 123.2 243.8 123.3 244.5 123.3 245.2 123.4 245.9 123.5 246.6 123.6 247.3 123.7 248 123.8 248.7 123.9 249.5 123.9 250.2 124 250.9 124 251.6 124 252.3 123.9 253 123.9 253.7 123.8 254.4 123.7 255.1 123.6 255.8 123.5 256.5 123.4 257.2 123.3 257.9 123.2 258.6 123.1 259.3 123.1 260 123 260.7 122.9 261.4 122.7 262.1 122.5 262.8 122.1 263.5 121.7 264.2 121.1 264.9 120.5 265.6 119.8 266.3 119.1 267 118.5 267.8 117.9 268.5 117.4 269.2 116.9 269.9 116.3 270.6 115.6 271.3 114.8 272 113.7 272.7 112.4 273.4 110.8 274.1 109.1 274.8 107.3 275.5 105.5 276.2 103.7 276.9 102.1 277.6 100.6 278.3 99.5 279 98.6 279.7 98.1 280.4 98 281.1 98.3 281.8 99 282.5 100 283.2 101.3 283.9 102.9 284.6 104.6 285.3 106.5 286 108.4 286.8 110.2 287.5 112 288.2 113.7 288.9 115.3 289.6 116.7 290.3 117.9 291 119 291.7 119.9 292.4 120.7 293.1 121.4 293.8 122 294.5 122.4 295.2 122.6 295.9 122.6 296.6 122.4 297.3 122.1 298 121.7 298.7 121.2 299.4 120.7 300.1 120.2 300.8 119.7 301.5 119.2 302.2 118.7 302.9 118.3 303.6 117.9 304.3 117.6 305.1 117.3 305.8 117.1 306.5 117 307.2 117 307.9 117.1 308.6 117.2 309.3 117.5 310 117.8 310.7 118.1 311.4 118.5 312.1 118.9 312.8 119.2 313.5 119.6 314.2 119.9 314.9 120.1 315.6 120.3 316.3 120.4 317 120.5 317.7 120.6 318.4 120.6 319.1 120.6 319.8 120.7 320.5 120.7 321.2 120.8 321.9 121 322.6 121.2 323.3 121.4 324.1 121.7 324.8 122 325.5 122.4 326.2 122.7 326.9 123 327.6 123.2 328.3 123.4 329 123.6 329.7 123.6 330.4 123.6 331.1 123.5 331.8 123.3 332.5 123.1 333.2 122.9 333.9 122.6 334.6 122.4 335.3 122.1 336 121.9 336.7 121.6 337.4 121.3 338.1 121.1 338.8 120.8 339.5 120.6 340.2 120.4 340.9 120.3 341.6 120.1 342.3 120 343.1 120 343.8 120 344.5 120 345.2 120.1 345.9 120.2 346.6 120.4 347.3 120.6 348 120.7 348.7 120.9 349.4 121.1 350.1 121.3 350.8 121.4 351.5 121.5 352.2 121.6 352.9 121.6 353.6 121.7 354.3 121.7 355 121.7 355.7 121.6 356.4 121.6 357.1 121.5 357.8 121.5 358.5 121.4 359.2 121.4 359.9 121.4 360.6 121.3 361.4 121.3 362.1 121.4 362.8 121.4 363.5 121.4 364.2 121.5 364.9 121.5 365.6 121.5 366.3 121.5 367 121.6 367.7 121.6 368.4 121.5 369.1 121.5 369.8 121.5 370.5 121.4 371.2 121.3 371.9 121.3 372.6 121.2 373.3 121.1 374 121 374.7 121 375.4 120.9 376.1 120.9 376.8 120.9 377.5 120.8 378.2 120.8 378.9 120.9 379.6 120.9 380.4 120.9 381.1 121 381.8 121.1 382.5 121.1 383.2 121.2 383.9 121.3 384.6 121.3 385.3 121.4 386 121.5 386.7 121.5 387.4 121.6 388.1 121.6 388.8 121.7 389.5 121.7 390.2 121.8 390.9 121.8 391.6 121.8 392.3 121.8 393 121.9 393.7 121.9 394.4 121.9 395.1 121.9 395.8 122 396.5 122 397.2 122.1 397.9 122.1 398.7 122.1 399.4 122.2 400.1 122.2 400.8 122.3 401.5 122.3 402.2 122.4 402.9 122.4 403.6 122.5 404.3 122.5 405 122.6 405.7 122.6 406.4 122.7 407.1 122.7 407.8 122.8" fill="none" stroke="#18a19b" stroke-width="2.6" stroke-linejoin="round" stroke-linecap="round"/><path d="M239.6 123 240.3 123 241 123.1 241.7 123.1 242.4 123.1 243.1 123.2 243.8 123.3 244.5 123.3 245.2 123.4 245.9 123.5 246.6 123.6 247.3 123.7 248 123.8 248.7 123.9 249.5 123.9 250.2 124 250.9 124 251.6 124 252.3 123.9 253 123.9 253.7 123.8 254.4 123.7 255.1 123.6 255.8 123.5 256.5 123.4 257.2 123.3 257.9 123.2 258.6 123.1 259.3 123.1 260 123 260.7 122.9 261.4 122.7 262.1 122.5 262.8 122.1 263.5 121.7 264.2 121.1 264.9 120.5 265.6 119.8 266.3 119.1 267 118.5 267.8 117.9 268.5 117.4 269.2 116.9 269.9 116.3 270.6 115.6 271.3 114.8 272 113.7 272.7 112.4 273.4 110.8 274.1 109.1 274.8 107.3 275.5 105.5 276.2 103.7 276.9 102.1 277.6 100.6 278.3 99.5 279 98.6 279.7 98.1 280.4 98 281.1 98.3 281.8 99 282.5 100 283.2 101.3 283.9 102.9 284.6 104.6 285.3 106.5 286 108.4 286.8 110.2 287.5 112 288.2 113.7 288.9 115.3 289.6 116.7 290.3 117.9 291 119 291.7 119.9 292.4 120.7 293.1 121.4 293.8 122 294.5 122.4 295.2 122.6 295.9 122.6 296.6 122.4 297.3 122.1 298 121.7 298.7 121.2 299.4 120.7 300.1 120.2 300.8 119.7 301.5 119.2 302.2 118.7 302.9 118.3 303.6 117.9 304.3 117.6 305.1 117.3 305.8 117.1 306.5 117 307.2 117 307.9 117.1 308.6 117.2 309.3 117.5 310 117.8 310.7 118.1 311.4 118.5 312.1 118.9 312.8 119.2 313.5 119.6 314.2 119.9 314.9 120.1 315.6 120.3 316.3 120.4 317 120.5 317.7 120.6 318.4 120.6 319.1 120.6 319.8 120.7 320.5 120.7 321.2 120.8 321.9 121 322.6 121.2 323.3 121.4 324.1 121.7 324.8 122 325.5 122.4 326.2 122.7 326.9 123 327.6 123.2 328.3 123.4 329 123.6 329.7 123.6 330.4 123.6 331.1 123.5 331.8 123.3 332.5 123.1 333.2 122.9 333.9 122.6 334.6 122.4 335.3 122.1 336 121.9 336.7 121.6 337.4 121.3 338.1 121.1 338.8 120.8 339.5 120.6 340.2 120.4 340.9 120.3 341.6 120.1 342.3 120 343.1 120 343.8 120 344.5 120 345.2 120.1 345.9 120.2 346.6 120.4 347.3 120.6 348 120.7 348.7 120.9 349.4 121.1 350.1 121.3 350.8 121.4 351.5 121.5 352.2 121.6 352.9 121.6 353.6 121.7 354.3 121.7 355 121.7 355.7 121.6 356.4 121.6 357.1 121.5 357.8 121.5 358.5 121.4 359.2 121.4 359.9 121.4 360.6 121.3 361.4 121.3 362.1 121.4 362.8 121.4 363.5 121.4 364.2 121.5 364.9 121.5 365.6 121.5 366.3 121.5 367 121.6 367.7 121.6 368.4 121.5 369.1 121.5 369.8 121.5 370.5 121.4 371.2 121.3 371.9 121.3 372.6 121.2 373.3 121.1 374 121 374.7 121 375.4 120.9 376.1 120.9 376.8 120.9 377.5 120.8 378.2 120.8 378.9 120.9 379.6 120.9 380.4 120.9 381.1 121 381.8 121.1 382.5 121.1 383.2 121.2 383.9 121.3 384.6 121.3 385.3 121.4 386 121.5 386.7 121.5 387.4 121.6 388.1 121.6 388.8 121.7 389.5 121.7 390.2 121.8 390.9 121.8 391.6 121.8 392.3 121.8 393 121.9 393.7 121.9 394.4 121.9 395.1 121.9 395.8 122 396.5 122 397.2 122.1 397.9 122.1 398.7 122.1 399.4 122.2 400.1 122.2 400.8 122.3 401.5 122.3 402.2 122.4 402.9 122.4 403.6 122.5 404.3 122.5 405 122.6 405.7 122.6 406.4 122.7 407.1 122.7 407.8 122.8" fill="none" stroke="#fff" stroke-opacity=".35" stroke-width="1" stroke-dasharray="1.2 1.2"/>
<path d="M239.6 148.5 240.3 148.5 241 148.5 241.7 148.5 242.4 148.5 243.1 148.5 243.8 148.5 244.5 148.5 245.2 148.5 245.9 148.4 246.6 148.4 247.3 148.3 248 148.2 248.7 148.1 249.5 148 250.2 147.9 250.9 147.8 251.6 147.7 252.3 147.6 253 147.5 253.7 147.5 254.4 147.5 255.1 147.6 255.8 147.6 256.5 147.7 257.2 147.7 257.9 147.6 258.6 147.5 259.3 147.2 260 146.7 260.7 146 261.4 145.2 262.1 144.1 262.8 143 263.5 141.8 264.2 140.7 264.9 139.7 265.6 139 266.3 138.7 267 138.6 267.8 138.7 268.5 139 269.2 139.2 269.9 139.4 270.6 139.2 271.3 138.7 272 137.8 272.7 136.5 273.4 134.7 274.1 132.6 274.8 130.2 275.5 127.6 276.2 125 276.9 122.5 277.6 120.1 278.3 118 279 116.4 279.7 115.2 280.4 114.6 281.1 114.6 281.8 115.1 282.5 116.2 283.2 117.8 283.9 119.9 284.6 122.3 285.3 124.8 286 127.5 286.8 130.3 287.5 132.9 288.2 135.4 288.9 137.6 289.6 139.6 290.3 141.2 291 142.4 291.7 143.1 292.4 143.3 293.1 143 293.8 142.5 294.5 142.1 295.2 142.1 295.9 142.5 296.6 143.4 297.3 144.5 298 145.5 298.7 146.3 299.4 146.6 300.1 146.2 300.8 145.1 301.5 143.6 302.2 142.1 302.9 140.9 303.6 139.8 304.3 138.9 305.1 138.2 305.8 137.7 306.5 137.4 307.2 137.3 307.9 137.5 308.6 137.8 309.3 138.2 310 138.8 310.7 139.4 311.4 140.1 312.1 140.6 312.8 141.1 313.5 141.6 314.2 141.9 314.9 142.1 315.6 142.2 316.3 142.4 317 142.5 317.7 142.7 318.4 142.9 319.1 143.3 319.8 143.6 320.5 144.1 321.2 144.6 321.9 145.2 322.6 145.7 323.3 146.3 324.1 146.8 324.8 147.3 325.5 147.7 326.2 148.1 326.9 148.4 327.6 148.7 328.3 148.9 329 149.1 329.7 149.2 330.4 149.3 331.1 149.4 331.8 149.4 332.5 149.4 333.2 149.3 333.9 149.2 334.6 149 335.3 148.9 336 148.7 336.7 148.4 337.4 148.2 338.1 148 338.8 147.7 339.5 147.5 340.2 147.2 340.9 147 341.6 146.8 342.3 146.6 343.1 146.4 343.8 146.2 344.5 146.1 345.2 146 345.9 146 346.6 146 347.3 146 348 146.1 348.7 146.2 349.4 146.3 350.1 146.4 350.8 146.6 351.5 146.7 352.2 146.9 352.9 147 353.6 147.1 354.3 147.2 355 147.2 355.7 147.3 356.4 147.3 357.1 147.2 357.8 147.2 358.5 147.2 359.2 147.1 359.9 147 360.6 147 361.4 146.9 362.1 146.9 362.8 146.9 363.5 146.9 364.2 146.9 364.9 146.9 365.6 146.9 366.3 146.9 367 147 367.7 147 368.4 147 369.1 147 369.8 147.1 370.5 147.1 371.2 147 371.9 147 372.6 147 373.3 146.9 374 146.9 374.7 146.8 375.4 146.7 376.1 146.7 376.8 146.6 377.5 146.5 378.2 146.5 378.9 146.5 379.6 146.5 380.4 146.5 381.1 146.5 381.8 146.5 382.5 146.6 383.2 146.7 383.9 146.7 384.6 146.8 385.3 146.9 386 147 386.7 147.1 387.4 147.1 388.1 147.2 388.8 147.2 389.5 147.3 390.2 147.3 390.9 147.3 391.6 147.3 392.3 147.3 393 147.3 393.7 147.3 394.4 147.3 395.1 147.4 395.8 147.4 396.5 147.4 397.2 147.4 397.9 147.5 398.7 147.5 399.4 147.6 400.1 147.6 400.8 147.7 401.5 147.8 402.2 147.9 402.9 148 403.6 148 404.3 148.1 405 148.2 405.7 148.2 406.4 148.3 407.1 148.3 407.8 148.4" fill="none" stroke="#f2912c" stroke-width="2.6" stroke-linejoin="round" stroke-linecap="round"/><path d="M239.6 148.5 240.3 148.5 241 148.5 241.7 148.5 242.4 148.5 243.1 148.5 243.8 148.5 244.5 148.5 245.2 148.5 245.9 148.4 246.6 148.4 247.3 148.3 248 148.2 248.7 148.1 249.5 148 250.2 147.9 250.9 147.8 251.6 147.7 252.3 147.6 253 147.5 253.7 147.5 254.4 147.5 255.1 147.6 255.8 147.6 256.5 147.7 257.2 147.7 257.9 147.6 258.6 147.5 259.3 147.2 260 146.7 260.7 146 261.4 145.2 262.1 144.1 262.8 143 263.5 141.8 264.2 140.7 264.9 139.7 265.6 139 266.3 138.7 267 138.6 267.8 138.7 268.5 139 269.2 139.2 269.9 139.4 270.6 139.2 271.3 138.7 272 137.8 272.7 136.5 273.4 134.7 274.1 132.6 274.8 130.2 275.5 127.6 276.2 125 276.9 122.5 277.6 120.1 278.3 118 279 116.4 279.7 115.2 280.4 114.6 281.1 114.6 281.8 115.1 282.5 116.2 283.2 117.8 283.9 119.9 284.6 122.3 285.3 124.8 286 127.5 286.8 130.3 287.5 132.9 288.2 135.4 288.9 137.6 289.6 139.6 290.3 141.2 291 142.4 291.7 143.1 292.4 143.3 293.1 143 293.8 142.5 294.5 142.1 295.2 142.1 295.9 142.5 296.6 143.4 297.3 144.5 298 145.5 298.7 146.3 299.4 146.6 300.1 146.2 300.8 145.1 301.5 143.6 302.2 142.1 302.9 140.9 303.6 139.8 304.3 138.9 305.1 138.2 305.8 137.7 306.5 137.4 307.2 137.3 307.9 137.5 308.6 137.8 309.3 138.2 310 138.8 310.7 139.4 311.4 140.1 312.1 140.6 312.8 141.1 313.5 141.6 314.2 141.9 314.9 142.1 315.6 142.2 316.3 142.4 317 142.5 317.7 142.7 318.4 142.9 319.1 143.3 319.8 143.6 320.5 144.1 321.2 144.6 321.9 145.2 322.6 145.7 323.3 146.3 324.1 146.8 324.8 147.3 325.5 147.7 326.2 148.1 326.9 148.4 327.6 148.7 328.3 148.9 329 149.1 329.7 149.2 330.4 149.3 331.1 149.4 331.8 149.4 332.5 149.4 333.2 149.3 333.9 149.2 334.6 149 335.3 148.9 336 148.7 336.7 148.4 337.4 148.2 338.1 148 338.8 147.7 339.5 147.5 340.2 147.2 340.9 147 341.6 146.8 342.3 146.6 343.1 146.4 343.8 146.2 344.5 146.1 345.2 146 345.9 146 346.6 146 347.3 146 348 146.1 348.7 146.2 349.4 146.3 350.1 146.4 350.8 146.6 351.5 146.7 352.2 146.9 352.9 147 353.6 147.1 354.3 147.2 355 147.2 355.7 147.3 356.4 147.3 357.1 147.2 357.8 147.2 358.5 147.2 359.2 147.1 359.9 147 360.6 147 361.4 146.9 362.1 146.9 362.8 146.9 363.5 146.9 364.2 146.9 364.9 146.9 365.6 146.9 366.3 146.9 367 147 367.7 147 368.4 147 369.1 147 369.8 147.1 370.5 147.1 371.2 147 371.9 147 372.6 147 373.3 146.9 374 146.9 374.7 146.8 375.4 146.7 376.1 146.7 376.8 146.6 377.5 146.5 378.2 146.5 378.9 146.5 379.6 146.5 380.4 146.5 381.1 146.5 381.8 146.5 382.5 146.6 383.2 146.7 383.9 146.7 384.6 146.8 385.3 146.9 386 147 386.7 147.1 387.4 147.1 388.1 147.2 388.8 147.2 389.5 147.3 390.2 147.3 390.9 147.3 391.6 147.3 392.3 147.3 393 147.3 393.7 147.3 394.4 147.3 395.1 147.4 395.8 147.4 396.5 147.4 397.2 147.4 397.9 147.5 398.7 147.5 399.4 147.6 400.1 147.6 400.8 147.7 401.5 147.8 402.2 147.9 402.9 148 403.6 148 404.3 148.1 405 148.2 405.7 148.2 406.4 148.3 407.1 148.3 407.8 148.4" fill="none" stroke="#fff" stroke-opacity=".35" stroke-width="1" stroke-dasharray="1.2 1.2"/>
<path d="M285 46V52" stroke="#e9a3c4" stroke-width=".9"/>
<path d="M302.1 27V33" stroke="#e9a3c4" stroke-width=".9"/>
<path d="M281.6 66V72" stroke="#c7a5ee" stroke-width=".9"/>
<path d="M303.2 72V78" stroke="#c7a5ee" stroke-width=".9"/>
<path d="M280.8 93V99" stroke="#8fd0cc" stroke-width=".9"/>
<path d="M306.6 112V118" stroke="#8fd0cc" stroke-width=".9"/>
<path d="M280.8 109V115" stroke="#f7c48f" stroke-width=".9"/>
<path d="M306.6 134V141" stroke="#f08aa0" stroke-width=".9"/>
<text x="268.5" y="45.5" font-size="9.3" fill="#333">1.62</text>
<text x="302.5" y="30.5" font-size="9.3" fill="#333">2.23</text>
<text x="263.5" y="67.5" font-size="9.3" fill="#333">1.50</text>
<text x="302.5" y="72" font-size="9.3" fill="#333">2.27</text>
<text x="263" y="94" font-size="9.3" fill="#333">1.47</text>
<text x="306" y="111.5" font-size="9.3" fill="#333">2.39</text>
<text x="256.5" y="124.5" font-size="9.3" fill="#333">1.47</text>
<text x="306" y="137" font-size="9.3" fill="#333">2.39</text>
<text x="404.6" y="49.6" font-size="10.9" text-anchor="end">-1.1 V</text>
<text x="404.6" y="83.2" font-size="10.9" text-anchor="end">-0.9 V</text>
<text x="404.6" y="115.5" font-size="10.9" text-anchor="end">Open circuit</text>
<text x="404.6" y="142.5" font-size="10.9" text-anchor="end">Ex-situ</text>
<rect x="239.6" y="22.0" width="168.2" height="135.1" fill="none" stroke="#000" stroke-width="1.5"/>
<path d="M239.6 157.1v2.6" stroke="#000" stroke-width="1"/>
<path d="M253.6 157.1v1.6" stroke="#000" stroke-width="1"/>
<path d="M267.6 157.1v2.6" stroke="#000" stroke-width="1"/>
<path d="M281.6 157.1v1.6" stroke="#000" stroke-width="1"/>
<path d="M295.7 157.1v2.6" stroke="#000" stroke-width="1"/>
<path d="M309.7 157.1v1.6" stroke="#000" stroke-width="1"/>
<path d="M323.7 157.1v2.6" stroke="#000" stroke-width="1"/>
<path d="M337.7 157.1v1.6" stroke="#000" stroke-width="1"/>
<path d="M351.7 157.1v2.6" stroke="#000" stroke-width="1"/>
<path d="M365.8 157.1v1.6" stroke="#000" stroke-width="1"/>
<path d="M379.8 157.1v2.6" stroke="#000" stroke-width="1"/>
<path d="M393.8 157.1v1.6" stroke="#000" stroke-width="1"/>
<path d="M407.8 157.1v2.6" stroke="#000" stroke-width="1"/>
<text x="239.6" y="170.8" font-size="11" text-anchor="middle">0</text>
<text x="267.6" y="170.8" font-size="11" text-anchor="middle">1</text>
<text x="295.7" y="170.8" font-size="11" text-anchor="middle">2</text>
<text x="323.7" y="170.8" font-size="11" text-anchor="middle">3</text>
<text x="351.7" y="170.8" font-size="11" text-anchor="middle">4</text>
<text x="379.8" y="170.8" font-size="11" text-anchor="middle">5</text>
<text x="407.8" y="170.8" font-size="11" text-anchor="middle">6</text>
<text x="323.6" y="189.8" font-size="12.6" text-anchor="middle" font-weight="bold">R (Å)</text>
<g transform="translate(229.3 134.8) rotate(-90)" font-size="11.2" font-weight="bold"><text x="0" y="0">|</text><text x="9.2" y="0">FTk<tspan font-size="7.5" dy="-4">3</tspan><tspan dy="4">χ(k)</tspan></text><text x="54.3" y="0">|</text><text x="64.5" y="0">(Å<tspan font-size="7.5" dy="-4">−4</tspan><tspan dy="4">)</tspan></text></g>
<text x="430.2" y="22.5" font-size="26.5" stroke="#000" stroke-width=".55">c</text>
<g shape-rendering="geometricPrecision"><rect x="467.8" y="23" width="145" height="78.7" fill="#000"/><path d="M469.3 101.7 612.8 101.7 612.8 23 502.5 23 501.6 24.6 499.5 32.5 497.7 37.8 495.3 42.7 492 47.4 488.9 50.2 485.2 52.5 475.4 56.9 467.8 60.7 467.8 101.7 469.3 101.7ZM528.3 70.5 527.5 68.9 527.9 67.3 529.7 66.3 531.2 66.6 532.1 67.3 532.6 68.9 531.7 70.5 529.7 71.1 528.3 70.5ZM572.8 70.5 572 70.2 571 68.9 570.9 67.3 572 65.9 573.5 65.4 574.6 65.6 576.2 67.3 576.2 68.9 575 70.3 573.5 70.7 572.8 70.5ZM600.7 67.3 600.1 65.6 600.5 64 602.2 62.6 603.7 62.4 605.2 63.2 605.9 64 606.3 65.6 605.7 67.3 605.2 67.8 603.7 68.5 602.2 68.4 600.7 67.3ZM514.9 41 513.9 39.4 513.8 37.8 514.6 35.2 516.1 34.2 517.6 35.1 518 36.1 517.8 39.4 516.6 41 514.9 41Z" fill="#1d0000" fill-rule="evenodd"/><path d="M469.3 101.7 612.8 101.7 612.8 23 593.2 23 592.3 27.9 591 31.2 590.1 32.4 588.6 33.4 587.1 33.4 586.1 32.8 584.5 31.2 583.5 29.6 581.2 23 520.7 23 520.6 24.6 521.8 27.9 522.5 31.2 522.4 37.8 521.7 41 520.7 44.1 519.2 46.6 518.1 47.6 516.1 48.8 514.6 49.2 507.1 48.8 504.1 49.5 501 51.4 495.7 55.8 492 58.2 478.4 64.7 467.8 70.2 467.8 101.7 469.3 101.7ZM527 70.5 526.4 68.9 526.6 67.3 528.2 65.6 529.7 65.2 531.2 65.4 532.7 66.5 533.3 67.3 533.6 68.9 533 70.5 531.2 71.8 529.7 72 528.2 71.5 527 70.5ZM571.1 70.5 570 68.9 570 67.3 570.9 65.6 572 64.8 573.5 64.4 575 64.7 576.4 65.6 577.3 67.3 577.2 68.9 576.1 70.5 575 71.2 573.5 71.5 572 71.2 571.1 70.5ZM601.2 68.9 599.6 67.3 599.2 65.8 599.4 64 600.5 62.4 602.2 61.4 603.7 61.3 605.2 61.8 607.1 64 607.4 65.6 606.9 67.3 605.3 68.9 603.7 69.4 602.2 69.4 601.2 68.9Z" fill="#350000" fill-rule="evenodd"/><path d="M469.3 101.7 612.8 101.7 612.8 23 596.8 23 594.8 31.2 593.5 34.5 591.7 37.2 590.1 38.3 588.6 38.9 587.1 38.9 585.6 38.3 584.1 37.2 582.6 35.3 580.6 31.2 577.7 23 555.9 23 555.1 26.3 553.9 29 552.4 30.6 550.9 30.7 549.4 29.7 548.1 27.9 545.9 23 526.7 23 526.1 32.8 524.6 41 522.3 47.6 520.7 50.2 519.2 51.8 516.1 53.5 508.6 55.6 505.6 56.8 496.5 62.1 482.9 68.1 467.8 75.8 467.8 101.7 469.3 101.7ZM527.7 72.2 525.9 70.5 525.3 68.9 525.5 67.3 526.4 65.6 528.2 64.4 529.7 64.1 531.2 64.3 532.7 65 534.3 67.3 534.4 68.9 533.9 70.5 532.7 71.8 531.2 72.6 529.7 72.7 528.2 72.4ZM573.2 72.2 572 72 570 70.5 569.2 68.9 569.1 67.3 569.8 65.6 570.5 64.7 571.6 64 573.5 63.4 575 63.6 576.5 64.5 577.6 65.6 578.1 66.8 578.1 68.9 577.2 70.5 575 72 573.9 72.2ZM599.7 68.9 598.5 67.3 598.2 65.6 598.3 64 599.1 62.4 600.7 60.9 602.2 60.2 603.7 60.1 605.2 60.5 606.8 61.5 607.6 62.4 608.3 63.9 608.5 65.6 608 67.3 606.9 68.9 605.2 69.9 603.7 70.3 602.2 70.2 600.7 69.7 599.7 68.9Z" fill="#590000" fill-rule="evenodd"/><path d="M469.3 101.7 610.8 101.7 612.8 100.7 612.8 27.9 611.3 23.5 609.8 23 600.7 23 599.2 26.1 596.3 36.1 594.9 39.4 593.2 41.7 592 42.7 590.1 43.6 587.1 44 584.1 43 582.6 41.8 581.1 39.9 579.3 36.1 575 23.4 573.5 23 558.4 23 556.9 29.2 555.5 32.8 553.9 35.1 552.4 36 550.9 36.2 549.4 35.7 547.9 34.5 546.8 32.8 542.4 23 532.7 23 531.6 24.6 528.6 37.8 525.7 47.6 523.3 52.5 520.7 55.6 517.8 57.4 510.1 60.5 500.3 65.6 484.4 71.7 467.8 80.2 467.8 101.7 469.3 101.7ZM526.2 72.2 524.7 70.5 524.1 68.9 524.1 67.3 525.2 64.8 526.7 63.5 528.2 62.9 531.2 62.9 532.7 63.6 534.3 65 535.2 67.3 535.3 68.9 534.3 71.3 532.7 72.7 531.2 73.3 528.2 73.2 526.2 72.2ZM570.7 72.2 569 70.5 568.3 68.9 568.2 67.3 569 65 570.5 63.3 572 62.6 575 62.5 576.5 63 577.8 64 578.9 65.6 579.3 67.3 579.1 68.9 578.4 70.5 576.5 72.2 575 72.8 573.5 73 572 72.8 570.7 72.2ZM600.4 70.5 598.4 68.9 597.7 67.8 597 65.6 597.1 64 597.7 62.4 598.8 60.7 600.7 59.3 602.2 58.8 603.7 58.7 606.8 59.5 608.2 60.7 609.4 62.4 609.8 64 609.4 67.3 608.3 68.9 606.8 70.2 605.2 71 602.2 71.2 600.7 70.7Z" fill="#7e0000" fill-rule="evenodd"/><path d="M469.3 101.7 606.6 101.7 609.4 100.1 612.8 98.9 612.8 65.6 610.3 68.9 608.5 70.5 605.2 72.1 602.4 72.2 600.7 71.8 599.2 71.1 596.8 68.9 595.4 65.6 595.3 64 595.5 62.4 596.2 60.7 597.7 58.4 598.9 57.4 600.7 56.3 602.2 55.9 608.3 55.4 609.8 54.4 610.6 52.5 611.7 47.6 611.9 41 611.2 32.8 609.8 27 608.3 25.1 607.2 24.6 605.2 24.6 603 26.3 601.9 27.9 600.7 31.2 598.1 44.3 596.3 47.6 594.7 49 593.2 49.7 590.1 50.6 587.1 50.8 584.1 50.5 581.1 49.3 579.6 47.9 578.3 46 577.2 42.7 574.6 29.6 572.2 23 561.4 23 560.3 24.6 558.4 32.8 556.9 36.9 555.4 39 553.9 40.1 550.9 40.9 547.9 40.5 546.3 39.7 544.8 38.1 543.8 36.1 542 31.2 540.3 27.9 538.8 26.7 537.3 26.8 536.1 27.9 534.7 31.2 531.7 44.3 527.4 57.4 527.5 59.1 532.7 61.3 535.2 64 536.3 67.3 536.2 68.9 535.8 70.3 534.6 72.2 532.7 73.5 529.7 74.2 526.7 73.5 524.6 72.2 523.2 70.5 522.4 68.9 521.6 64 520.7 63.1 519.2 63.1 514.6 64.3 504.1 68.7 490.5 72.9 482.9 76.1 475.4 79.7 467.8 84.1 467.8 101.7 469.3 101.7ZM569.4 72.2 568 70.5 567.3 67.3 568.3 64 569 62.9 570.5 61.5 573.5 60.5 576.5 60.9 578.1 61.7 579.6 63.3 580.6 65.6 580.7 67.3 580.4 68.9 579.6 70.5 578.1 72.2 576.5 73.1 575 73.6 572 73.6 569.4 72.2Z" fill="#a70000" fill-rule="evenodd"/><path d="M469.3 100.8 470.5 101.7 602.2 101.7 605.2 100.1 612.8 97.5 612.8 70.8 605.2 73.4 600.7 73.2 598.2 72.2 596.2 70.9 591.7 66.8 590.1 66.1 587.1 65.7 585.6 65.9 584.1 66.8 581.5 70.5 579.9 72.2 576.5 74.1 575 74.5 572 74.5 570.5 74 568 72.2 566.9 70.5 566.3 68.9 566.2 65.6 568.2 59.1 568 50.9 568.4 49.2 570.5 44.8 571.9 41 572.4 37.8 572.4 34.5 572.1 31.2 571.2 27.9 569 23.6 568.6 23 564.5 23 563 24.6 562.5 26.3 560.4 37.8 559.2 41 558.4 42.2 556.9 43.4 555.4 44.1 546.3 46.5 544.8 47.3 543.3 48.5 541.8 50.6 537.5 59.1 537.1 62.4 537.4 65.6 537.3 68.4 536.7 70.5 535.8 72.1 534.3 73.5 531.2 74.8 528.2 74.9 525.2 73.9 519.7 70.5 517.6 69.9 514.6 70 495 74.7 482.9 79.1 475.4 82.8 467.8 88.6 467.8 100.1 469.3 100.8ZM605.2 36.9 606.8 37.6 607.3 34.5 607 32.8 605.8 32.8 605.2 33.4 605 34.5 605.2 36.9Z" fill="#d00000" fill-rule="evenodd"/><path d="M473.8 100.3 474.9 101.7 597.7 101.7 602.2 99.6 612.8 96.3 612.8 74.5 602.2 75.1 599.2 74.7 591.7 72.8 585.6 72.4 582.6 72.9 576.5 75.3 573.5 75.6 570.5 75.1 567.5 73.3 565.6 70.5 564.7 67.3 564.4 62.4 563.7 59.1 561.1 52.5 559.9 50.9 558.4 49.7 555.4 49 552.4 49.1 549.4 50.1 548 50.9 544.8 54 542.6 57.4 540.3 62.1 538 70.5 535.8 73.5 534.3 74.6 532.7 75.3 529.7 75.8 526.7 75.5 519.2 73.6 516.1 73.5 511.6 74 498 76.6 488.9 79.3 482.9 81.6 478.5 83.7 476 85.3 474.2 86.9 471.7 90.2 470.4 93.5 470.4 95.1 472.1 98.4 473.6 100.1Z" fill="#f11200" fill-rule="evenodd"/><path d="M478.4 101.7 593.2 101.7 597.7 99.6 612.8 95.2 612.8 77.5 600.7 77.1 584.1 76 573.5 76.8 569 75.8 566 73.8 564.8 72.2 563.4 68.9 561.4 61.7 559.4 57.4 556.9 54.5 555.4 53.6 553.9 53.2 552.4 53.2 549.8 54.2 547.9 55.5 546.3 57.1 542.9 62.4 538.8 71.7 537.3 73.7 534.8 75.5 532.7 76.3 529.7 76.7 517.6 75.9 511.6 76.4 504.1 77.6 496.5 79.3 488.9 81.4 484.4 83 479.9 85.3 477.7 86.9 476.2 88.6 474.6 91.9 474.3 93.5 474.9 96.8 478.3 101.7Z" fill="#ff3900" fill-rule="evenodd"/><path d="M481.4 101.7 588.6 101.7 591.6 100.1 612.8 94 612.8 80.4 611.3 79.9 606.8 79.5 573.5 78.1 568.1 77.1 565.2 75.5 563.8 73.8 562.2 70.5 559.9 64.2 558.4 61.2 556.9 59.2 555.4 57.9 552.4 57.1 550.9 57.4 549.4 58.3 546.8 60.7 543.6 65.6 540.3 72.2 539.1 73.8 537.3 75.5 535.8 76.3 531.2 77.6 517.6 77.8 505.6 79.3 490.5 82.7 485.9 84.2 482.9 85.7 479.3 88.6 477.6 91.9 477.4 93.5 478 96.8 481.3 101.7Z" fill="#ff6e00" fill-rule="evenodd"/><path d="M484.4 101.7 583.5 101.7 586.9 100.1 591.7 98.6 603.7 95.5 612.8 92.7 612.8 82.1 605.2 81.3 587.1 80.5 573.5 79.5 569 78.9 566 78 564.5 77.3 563 75.9 561.6 73.8 559 67.3 557.3 64 555.4 61.9 553.9 60.9 552.6 60.7 550.9 61 549.4 61.8 547.9 63.1 544.9 67.3 541.3 73.8 540.3 75.1 537.5 77.1 534.3 78.1 531.2 78.6 516.1 79.4 504.1 81.1 490.5 84.2 487.5 85.3 484.4 86.9 482.2 88.6 481 90.2 480.3 91.9 480.1 93.5 480.8 96.8 484.2 101.7Z" fill="#ffa100" fill-rule="evenodd"/><path d="M485.9 100.2 487.3 101.7 578.1 101.7 582.1 100.1 587.1 98.5 603.7 94.3 612.8 91.2 612.8 84.2 603.7 82.8 570.5 80.4 564.5 79.1 563 78.4 561.4 77.2 560.3 75.5 557.6 68.9 555.5 65.6 553.9 64.4 552.5 64 550.9 64.2 549.4 65.1 547.9 66.5 546.3 68.6 542.5 75.5 541 77.1 538.8 78.2 532.7 79.5 517.6 80.5 508.6 81.7 495 84.4 490.5 85.7 487.6 86.9 485.2 88.6 483.7 90.2 482.9 91.9 482.7 93.5 483.4 96.8 485.8 100.1Z" fill="#ffd200" fill-rule="evenodd"/><path d="M488.9 100.2 490.5 101.5 492 101.7 572 101.7 584.1 98.1 602.2 93.5 606.8 91.9 610.4 90.2 612.8 88.6 612.5 86.9 608.6 85.3 602.2 84.1 572 81.6 566 80.8 563 80.1 560.2 78.7 558.8 77.1 556.9 72.2 555.4 69.4 553.9 67.8 552.6 67.3 550.9 67.4 549.4 68.4 547.9 70.2 544 77.1 541.9 78.7 540.3 79.3 534.6 80.4 519.2 81.5 510.1 82.7 496.8 85.3 490.5 87.3 488.2 88.6 486.4 90.2 485.5 91.9 485.2 93.5 485.4 95.1 485.9 96.7 487.1 98.4 488.8 100.1Z" fill="#fff600" fill-rule="evenodd"/><path d="M493.5 100.9 495 101.6 496.5 101.7 566 101.6 597.7 93.5 602.2 92 606 90.2 607.4 88.6 606.1 86.9 600.7 85.4 593.2 84.4 567.5 82.1 559.9 80.5 556.9 78.8 555.8 77.1 553.9 72.2 552.4 71.2 550.9 71.4 549.4 72.8 547.4 77.1 545.9 78.7 541.8 80.4 537.3 81.1 520.7 82.3 513.1 83.3 498 86.4 492 88.4 489.3 90.2 488.2 91.9 487.8 93.5 487.9 95.1 488.6 96.8 489.9 98.4 493.5 100.9Z" fill="#e5f822" fill-rule="evenodd"/><path d="M496.5 100.1 499.5 101 504.1 101.7 553.9 101.7 558.4 101.3 576.5 97.7 593.2 93.5 597.7 92.1 601.4 90.2 602.2 88.7 599.9 86.9 591.7 85.4 563 82.4 559.9 81.8 552.4 79.6 550.9 79.6 544.8 81 538.8 82 519.2 83.4 510.1 84.9 501 86.9 495.6 88.6 492.6 90.2 491.1 91.9 490.5 93.5 490.7 95.1 491.5 96.8 493.2 98.4 496.4 100.1Z" fill="#c7f15b" fill-rule="evenodd"/><path d="M504.1 100.3 510.1 101 516.1 101.3 537.3 101.3 549.4 100.8 559.9 99.7 573.5 97.2 588.5 93.5 593.2 92 596.2 90.5 597.1 88.6 593.2 86.9 590.1 86.4 566 83.7 552.4 81.8 520.7 84.1 511.6 85.6 501 88.4 496.5 90.2 494.4 91.9 493.7 93.5 493.8 95.1 494.8 96.8 498 98.8 504.1 100.3Z" fill="#b9efa3" fill-rule="evenodd"/><path d="M516.1 100.1 541.8 100 552.4 99.5 559.9 98.6 572 96.4 583.7 93.5 588.6 91.9 591.7 90.3 591.5 88.6 585.8 86.9 552.4 83 528.2 84.2 519.2 85.2 510.7 86.9 504.1 89 501 90.2 498.4 91.9 497.3 93.5 497.5 95.1 498.8 96.8 502.4 98.4 508.6 99.5 516.1 100.1Z" fill="#e9fce5" fill-rule="evenodd"/><path d="M510.1 98.5 520.7 99.2 540.3 99.2 552.4 98.5 563 97 572 95.2 578.8 93.5 583.6 91.9 586.3 90.2 585.1 88.6 576.5 86.8 558.4 84.6 550.9 84 529.7 84.9 519.2 86.2 510.1 88.4 505.6 90.2 502.8 91.9 501.6 93.5 501.8 95.1 503.7 96.8 509.5 98.4Z" fill="#e8f6fa" fill-rule="evenodd"/><path d="M510.1 96.9 517.6 98 528.2 98.4 543.3 98.1 555.4 97.1 566.8 95.1 573.5 93.5 578.1 91.9 580.3 90.2 578.2 88.6 569 86.8 552.4 85 534.3 85.5 525.2 86.2 519.2 87.2 513.7 88.6 510.1 90.1 507.2 91.9 506.1 93.5 506.6 95.1 509.6 96.8Z" fill="#cae3fd" fill-rule="evenodd"/><path d="M519.2 96.9 534.3 97.3 544.8 97 552.4 96.4 560.8 95.1 567.5 93.6 572 92 574 90.2 571.3 88.6 563 87 553.9 86 544.8 86 526.7 86.9 518.2 88.6 513.9 90.2 511.6 91.8 510.7 93.5 511.6 94.7 514.6 96.1 519.2 96.9Z" fill="#9ac7f9" fill-rule="evenodd"/><path d="M519.2 95.2 525.2 96 532.7 96.2 544.8 95.9 553.6 95.1 561.4 93.6 566 92 567.5 90.5 564.5 88.6 556.9 87.3 550.9 86.9 535.8 87.2 526.7 88 523.7 88.5 519.2 90 516.1 91.8 515.8 93.5 518.8 95.1Z" fill="#6ea5f0" fill-rule="evenodd"/><path d="M523.7 93.9 528.2 94.6 532.7 94.9 549.4 94.2 553.9 93.6 559.9 91.9 561 90.2 556.9 88.7 552.4 88.2 544.8 88.1 531.8 88.6 523.8 90.2 521.5 91.9 522.2 93.2 523.7 93.9Z" fill="#4481e5" fill-rule="evenodd"/><path d="M519.8 23 522.1 29.6 522.5 32.8 522.5 36.1 522.2 38.8 521.2 42.7 519.5 46 518 47.6 516.1 48.7 514.6 49.1 507.1 48.6 504.3 49.2 502.5 50.1 495.4 55.8 492 58 478.4 64.6 467.8 70.1M592.8 23 592.3 27.9 590.9 31.2 590.1 32.3 588.6 33.3 587.1 33.3 585.6 32.4 584.1 30.5 582.8 27.9 581.3 23M528.2 71.5 527.1 70.5 526.4 68.9 526.7 67.3 528.2 65.6 529.7 65.2 531.2 65.4 532.7 66.5 533.3 67.3 533.5 68.9 532.9 70.5 531.2 71.8 529.7 72 528.2 71.5M572 71.2 571.1 70.5 570 68.9 570 67.3 570.5 66.2 572 64.8 573.5 64.5 575 64.7 576.3 65.6 577.2 67.3 577.2 68.9 576.1 70.5 575 71.2 573.5 71.5 572 71.2M602.2 69.3 601.3 68.9 599.6 67.3 599.2 65.7 599.4 64 600.6 62.4 602.2 61.4 603.7 61.3 605.9 62.4 606.8 63.4 607.4 65.6 606.9 67.3 605.3 68.9 603.7 69.4 602.2 69.3" fill="none" stroke="#ffa159" stroke-width=".65" stroke-opacity=".92"/><path d="M612.8 28.7 610.8 23M532.5 23 528.5 39.4 526 47.6 523.7 52.5 521 55.8 517.6 57.9 510.6 60.7 501.2 65.6 488.9 70.1 482.9 72.8 467.8 80.5M558.5 23 557 29.6 555.4 33.6 553.9 35.5 553 36.1 550.9 36.6 549.4 36.2 547.9 34.9 546.4 32.8 542 23M601 23 599.4 26.3 596.6 36.1 594.7 40.4 593.2 42.3 591.7 43.4 590.1 44.1 587.1 44.4 585.6 44.1 583 42.7 581.4 41 580.4 39.4 579 36.1 576.5 28 574.7 23M526.7 72.6 524.6 70.5 524 68.9 524 67.3 524.5 65.6 526.7 63.3 528.2 62.7 531.2 62.8 532.7 63.4 534.3 64.9 535.3 67.3 535.4 68.9 534.9 70.5 533.6 72.2 531.2 73.4 528.2 73.3 526.7 72.6M572 72.8 570.6 72.2 569 70.6 568.2 68.9 568.2 67.3 568.6 65.6 570.5 63.2 572 62.5 573.5 62.2 576.5 62.9 577.9 64 579 65.6 579.4 67.3 579.2 68.9 578.5 70.5 576.6 72.2 575 72.9 572 72.8M600.7 70.8 598.2 68.9 597.3 67.3 596.9 65.6 596.9 64 597.5 62.4 599.2 60.1 602.2 58.6 603.7 58.5 606.8 59.4 608.3 60.5 609.5 62.4 609.9 65.6 609.5 67.3 608.5 68.9 606.8 70.3 605.2 71.1 602.2 71.3 600.7 70.8" fill="none" stroke="#ffa75a" stroke-width=".65" stroke-opacity=".92"/><path d="M601.5 101.7 604.5 100.1 612.8 97.3M467.8 99.1 469.3 99.9 471.5 101.7M612.8 71.6 605.2 73.7 600.7 73.5 597.7 72.3 591.7 68.2 590.1 67.7 587.1 67.4 585.6 67.6 584.1 68.3 580.4 72.2 576.5 74.3 575 74.7 572 74.6 569 73.3 567.7 72.2 566.7 70.5 566 67.7 566 65.6 567.2 59.1 566.3 50.9 567.1 47.6 570.5 41.7 571.5 37.8 571.7 34.5 571.4 31.2 570.6 27.9 569 25 567.4 23M564.9 23 563.1 26.3 562.6 27.9 560.9 39.4 559.9 42 558.4 43.7 557.4 44.3 549.4 46.5 546.4 47.6 544.8 48.7 543.3 50.3 540.9 54.2 538.5 59.1 537.7 62.4 537.7 67.3 537.5 68.9 536.9 70.5 535.9 72.2 534.3 73.7 531.2 75 528.2 75 525.2 74.1 519.2 71 516.1 70.7 511.6 71.3 499.5 74 490.5 76.7 478.4 81.6 473.8 84.4 467.8 89.7" fill="none" stroke="#ffad5c" stroke-width=".65" stroke-opacity=".92"/><path d="M592 101.7 596.2 99.7 612.8 94.8M612.8 78.3 582.6 76.8 573.5 77.1 569 76.3 566 74.5 564.5 72.6 563.5 70.5 560.9 62.4 558.4 57.6 556.9 55.9 555.4 54.9 553.9 54.4 552.4 54.3 549.4 55.5 546.3 58.4 543.3 63 539 72.2 537.7 73.8 534.3 76.1 529.7 77 517.6 76.5 507.1 77.7 492 81 485.9 83 481.4 85 478.7 86.9 477.1 88.6 476.1 90.2 475.4 92.9 475.4 94.7 475.9 96.8 479.2 101.7" fill="none" stroke="#ffc846" stroke-width=".65" stroke-opacity=".92"/><path d="M581.5 101.7 585.1 100.1 590.1 98.5 603.2 95.1 612.8 92.2M612.8 82.9 603.7 81.8 573.5 80 566 78.7 563 77.1 561.7 75.5 558.4 67.7 556.1 64 554 62.4 552.4 62 550.9 62.3 548.4 64 546.3 66.4 542.2 73.8 541 75.5 538.9 77.1 537.3 77.8 531.2 79 517.6 79.8 507.1 81.1 493.5 83.9 489 85.3 485.9 86.7 483.4 88.6 482.1 90.2 481.4 91.7 481.1 93.5 481.8 96.8 482.7 98.4 485.4 101.7" fill="none" stroke="#ece02e" stroke-width=".65" stroke-opacity=".92"/><path d="M569.1 101.7 600 93.5 604.9 91.9 608.2 90.2 609.8 88.7 609.2 86.9 605.2 85.5 600.7 84.6 570.9 82 566 81.4 561.7 80.4 558.6 78.7 557.4 77.1 555.6 72.2 554.6 70.5 553.9 69.7 552.4 69 550.9 69.2 549.4 70.3 548 72.2 545.6 77.1 543.8 78.7 541.8 79.6 537.3 80.6 520.7 81.9 510.1 83.2 496.5 86 493.5 86.9 490.5 88.2 487.8 90.2 486.8 91.9 486.5 93.5 486.6 95.1 487.3 96.8 488.4 98.4 492.7 101.7" fill="none" stroke="#9be023" stroke-width=".65" stroke-opacity=".92"/><path d="M540.6 101.7 553.9 100.9 567.5 98.9 576.5 97 590.1 93.6 595.6 91.9 598.7 90.2 599.2 88.7 596.2 87 594.7 86.7 585.6 85.3 566 83.4 553.9 81.3 550.9 81 541.8 82.2 525.2 83.3 516.1 84.4 504.1 86.9 498.4 88.6 495 90.1 493.5 91.4 492.3 93.5 492.5 95.1 493.4 96.8 495 98.1 498 99.5 502.5 100.6 508.6 101.4 514.8 101.7" fill="none" stroke="#56d864" stroke-width=".65" stroke-opacity=".92"/><path d="M507.1 98.4 514.6 99.3 525.2 99.6 541.8 99.4 553.9 98.6 563 97.4 573.5 95.3 585.2 91.9 588 90.2 587.2 88.6 580.2 86.9 555.4 84 547.9 83.8 525.2 85.1 517.6 86.1 511.6 87.6 504.2 90.2 501.5 91.9 500.2 93.5 500.4 95.1 502.1 96.8 507.1 98.4" fill="none" stroke="#38c0c7" stroke-width=".65" stroke-opacity=".92"/><path d="M516.1 96.8 523.7 97.4 532.7 97.6 543.3 97.3 552.4 96.7 561.4 95.3 569 93.5 573.5 91.9 575 90.5 572.7 88.6 564.5 87 555.4 85.9 546.3 85.7 526.7 86.7 517.6 88.5 513.1 90.2 510.7 91.9 510.1 92.9 510.1 94.1 510.8 95.1 516.1 96.8" fill="none" stroke="#378dec" stroke-width=".65" stroke-opacity=".92"/><path d="M522.2 93.7 526.7 94.7 531.2 95 546.3 94.6 555.4 93.5 559.9 92.1 561.4 90.7 559.9 89.5 557.4 88.6 552.4 88.1 544.8 87.9 531.2 88.5 523.7 90.1 520.9 91.9 521.6 93.5 522.2 93.7" fill="none" stroke="#2858d8" stroke-width=".65" stroke-opacity=".92"/></g>
<path d="M467.8 101.7h-2.2" stroke="#000" stroke-width="1"/><text x="461.9" y="104.4" font-size="11" text-anchor="end">1</text><path d="M467.8 75.5h-2.2" stroke="#000" stroke-width="1"/><text x="461.9" y="79.1" font-size="11" text-anchor="end">2</text><path d="M467.8 49.2h-2.2" stroke="#000" stroke-width="1"/><text x="461.9" y="53.8" font-size="11" text-anchor="end">3</text><path d="M467.8 23h-2.2" stroke="#000" stroke-width="1"/><text x="461.9" y="28.5" font-size="11" text-anchor="end">4</text><path d="M467.8 101.7v2.2" stroke="#000" stroke-width="1"/><text x="468.2" y="117.5" font-size="11" text-anchor="middle">0</text><path d="M492 101.7v2.2" stroke="#000" stroke-width="1"/><text x="492.4" y="117.5" font-size="11" text-anchor="middle">2</text><path d="M516.1 101.7v2.2" stroke="#000" stroke-width="1"/><text x="516.5" y="117.5" font-size="11" text-anchor="middle">4</text><path d="M540.3 101.7v2.2" stroke="#000" stroke-width="1"/><text x="540.7" y="117.5" font-size="11" text-anchor="middle">6</text><path d="M564.5 101.7v2.2" stroke="#000" stroke-width="1"/><text x="564.9" y="117.5" font-size="11" text-anchor="middle">8</text><path d="M588.6 101.7v2.2" stroke="#000" stroke-width="1"/><text x="589" y="117.5" font-size="11" text-anchor="middle">10</text><path d="M612.8 101.7v2.2" stroke="#000" stroke-width="1"/><text x="613.2" y="117.5" font-size="11" text-anchor="middle">12</text><path d="M467.8 23V101.7H612.8" stroke="#000" stroke-width="1.2" fill="none"/><text x="472.3" y="40" font-size="13.2" fill="#fff">Open circuit</text><text transform="translate(449.7 62.8) rotate(-90)" font-size="11.2" text-anchor="middle" font-weight="bold"><tspan font-style="italic">R</tspan><tspan font-size="7.5" dy="-3.8">+</tspan><tspan dy="3.8" font-style="italic"> α</tspan>(Å)</text><text x="546" y="133.1" font-size="11.2" text-anchor="middle" font-weight="bold"><tspan font-style="italic">k </tspan>(Å<tspan font-size="7.5" dy="-3.8">-1</tspan><tspan dy="3.8">)</tspan></text>
<defs><linearGradient id="cb0" x1="0" y1="0" x2="0" y2="1"><stop offset="0%" stop-color="#387cdc"/><stop offset="10%" stop-color="#9cc8f8"/><stop offset="20%" stop-color="#f0f8ff"/><stop offset="30%" stop-color="#ffffe8"/><stop offset="38%" stop-color="#ffff50"/><stop offset="44%" stop-color="#ffe000"/><stop offset="54%" stop-color="#ff8000"/><stop offset="66%" stop-color="#e61000"/><stop offset="80%" stop-color="#800000"/><stop offset="94%" stop-color="#180000"/><stop offset="100%" stop-color="#000000"/></linearGradient></defs><rect x="615" y="22.3" width="5.6" height="79.7" fill="url(#cb0)"/>
<path d="M620.6 33.8h2" stroke="#000" stroke-width=".9"/>
<text x="624.6" y="38" font-size="11" textLength="10.8" lengthAdjust="spacingAndGlyphs">2.0</text>
<path d="M620.6 67.3h2" stroke="#000" stroke-width=".9"/>
<text x="624.6" y="71.5" font-size="11" textLength="10.8" lengthAdjust="spacingAndGlyphs">1.0</text>
<path d="M620.6 101h2" stroke="#000" stroke-width=".9"/>
<text x="624.6" y="105.2" font-size="11" textLength="10.8" lengthAdjust="spacingAndGlyphs">0.0</text>
<g shape-rendering="geometricPrecision"><rect x="468.2" y="141.5" width="144.6" height="78.4" fill="#000"/><path d="M469.7 219.9 612.8 219.9 612.8 152.9 611.3 152.8 605.3 153.7 600.8 153.9 596.2 153.4 593.2 152.4 591.7 151.6 589.5 149.7 587.7 146.4 587.3 144.8 587.4 143.1 588.7 142 590.2 141.5 501.8 141.5 498.3 144.6 497.1 146.4 493.4 156.2 490.8 160.7 483.3 170.7 477.8 177.4 473 185.6 471.2 187.2 468.2 188.6 468.2 219.9 469.7 219.9ZM563.1 198.7 564.6 197.5 565.8 198.7 564.6 199.3 563.1 198.7Z" fill="#1d0000" fill-rule="evenodd"/><path d="M469.7 219.9 612.8 219.9 612.8 195.4 612.1 193.8 612.8 192.4 612.8 161.8 605.3 159.1 594.7 156.6 590.2 154.7 587.2 152.3 581.7 144.8 578.2 141.6 522.4 141.5 520.9 142.1 515.2 143.1 511.9 144.2 508.9 146 507.4 147.9 506.8 149.7 507 151.3 507.9 152.9 508.9 153.8 514.9 156.6 516.4 157.5 517.9 159.4 518.3 161.1 518.3 162.7 517.3 166 514.9 169.1 513.4 170.4 507.7 174.2 502.8 176.2 495.3 177.8 492.3 178.7 489.3 180.6 483.3 187.2 479.3 190.5 474.2 192.9 468.2 194.5 468.2 219.9 469.7 219.9ZM572.5 215 575.9 215 575.1 215.7 573.6 215.8 572.5 215ZM564.2 200.3 563.1 199.8 562.2 198.7 562.9 197 564.6 196.6 566.1 197 566.8 198.7 566.1 199.7 564.9 200.3Z" fill="#350000" fill-rule="evenodd"/><path d="M469.7 219.9 612.8 219.9 612.8 197 611.3 194.4 611.3 193.2 611.8 192.1 612.8 191.3 612.8 166.3 602.3 161.8 591.7 158.4 587.4 156.2 584.2 153.1 579.7 146.7 575.1 141.7 530 141.5 527.8 148 525.9 157.8 524.9 161.1 522.6 166 518.5 170.9 514.9 174 509.8 177.4 505.9 179.6 496.8 183.3 493.8 184.9 486.4 190.5 481.8 193.3 475.7 195.9 468.2 198 468.2 219.9 469.7 219.9ZM571.5 216.6 570.6 215.4 572.1 214.6 576.6 214.6 578.1 215 577.1 216.6 575.1 216.9 572.1 216.8ZM562.5 200.3 561.6 199 561.9 197 563.1 196.2 564.6 195.9 566.1 196.4 567 197 567.6 198.7 566.6 200.3 564.6 200.9 562.5 200.3ZM556.5 159.5 555.7 156.2 555.9 154.6 557.1 151.9 558.3 152.9 558.9 154.6 559 156.2 558.6 159 557.1 160.3 556.5 159.5Z" fill="#590000" fill-rule="evenodd"/><path d="M469.7 219.9 612.8 219.9 612.8 197.3 611.3 196.2 610.5 193.8 611.3 191.5 612.6 190.5 612.8 188.9 612.8 169.6 609.8 168.5 599.2 163.6 588.7 159.8 585.7 158.1 582 154.6 577.5 148 573.6 143.2 572.8 141.5 533.3 141.5 531.6 154.6 530.2 159.5 526.9 165.5 524 169.3 520.9 172.4 516.8 175.8 510.4 180.3 496.8 187 486.6 193.8 478.7 197.4 468.2 200.9 468.2 219.9 469.7 219.9ZM569.7 216.6 569.1 215.2 570.6 214.4 572.1 214.1 576.6 214.1 579.5 215 579 216.6 576.6 217.3 573.6 217.4 569.7 216.6ZM561.5 200.3 560.8 198.7 561.1 197 563.1 195.6 565 195.4 566.1 195.7 567.6 196.8 568.2 198.7 567.6 200.1 566.1 201.2 564.6 201.5 563.1 201.2 561.6 200.4ZM555.9 161.1 554.9 157.8 554.8 154.6 555.6 151.3 556.9 149.7 558.6 150.3 559 151.3 559.8 154.6 559.8 157.8 558.9 161.1 557.1 162.4 555.9 161.1Z" fill="#7e0000" fill-rule="evenodd"/><path d="M469.7 219.9 612.8 219.9 612.8 198.7 611.3 197.2 610.2 195.4 609.9 193.8 610.2 192.1 611.2 190.5 612.8 189.5 612.8 172.5 608.6 170.9 599.2 166.2 587.2 161.7 582.9 159.5 581.2 158 578.5 154.6 572.1 144.8 570.6 141.6 536.6 141.5 535.5 154.6 534.2 159.5 532.5 162.7 530.3 166 524.2 172.5 518.3 177.4 511.9 182 499.8 188.2 488.2 195.4 480.2 199.2 468.7 203.6 468.2 205.2 468.2 219.9 469.7 219.9ZM568.2 216.6 567.8 215 572.1 213.6 576.6 213.7 580.7 215 580.4 216.6 576.6 217.8 572.1 217.8 568.2 216.6ZM564 201.9 561.6 201 560.8 200.3 560.1 198.7 560.4 197 561.6 195.7 563.1 195 564.6 194.8 566.1 195.1 567.6 196 568.5 197 568.8 198.7 568.2 200.3 567.6 200.9 566.1 201.8 564 201.9ZM555.5 162.7 554.7 161.1 554.1 158.1 553.9 154.6 554.4 151.3 555.6 148.3 557.1 147.2 558.6 147.9 559.6 149.7 560.6 152.9 560.8 156.2 560.5 159.5 560.1 160.8 558.6 163.6 557.1 164.1 555.6 162.9Z" fill="#a70000" fill-rule="evenodd"/><path d="M469.7 219.9 612.8 219.9 612.8 199 611.3 198.2 610.3 197 609.5 195.4 609.3 193.8 609.5 192.1 610.3 190.5 611.3 189.4 612.4 188.9 612.8 187.2 612.8 175.8 611.3 174.7 606.8 172.7 596.9 167.6 584.2 163.3 579.8 161.1 576.6 158 574.3 154.6 569.9 146.4 568.3 141.5 541 141.5 540.3 144.8 539.9 152.9 539.5 156.2 537.5 161.1 533.9 166 525.5 174.2 519.4 179 512.5 184 501.3 189.7 487.8 197.8 468.3 206.8 468.2 219.9 469.7 219.9ZM572.1 218.3 569.1 217.7 567.6 217.1 566.9 216.6 566.6 215 570.6 213.4 573.6 213.1 577.8 213.4 579.7 213.9 582 215 581.9 216.6 578.2 218.1 575.1 218.4 572.1 218.3ZM562 201.9 560.1 200.3 559.5 198.7 559.7 197 561 195.4 563.1 194.4 564.6 194.3 566.1 194.5 567.6 195.3 569.1 197 569.4 198.7 569.1 199.7 567.6 201.6 566.1 202.3 564.6 202.5 562 201.9ZM555.2 164.4 553.6 161.1 552.9 157.8 552.9 152.9 553.3 149.7 554.5 146.4 555.6 144.9 557.1 144.3 558.6 145.1 559.6 146.4 561.1 149.7 561.8 154.6 561.7 157.8 561.1 161.1 560.1 163.6 558.6 165.5 557.1 165.8 555.6 164.9Z" fill="#d00000" fill-rule="evenodd"/><path d="M469.7 219.9 612.8 219.9 612.8 200.3 611.3 199.3 609.8 197.6 608.9 195.4 608.7 193.8 608.9 192.1 609.5 190.5 611.3 188.3 612.8 187.6 612.8 177.8 608.3 176.2 597.7 170.5 593.2 168.5 588.7 167.1 579.7 164.9 575.1 163 572.7 161.1 571.1 159.5 566.8 152.9 565.5 149.7 565.3 141.5 560.1 141.5 560.6 143.1 562.7 146.4 564.1 149.7 564.2 151.3 563.8 156.2 562.7 161.1 561.3 164.4 560.2 166 558.6 167.4 557.1 167.6 555.6 166.8 554.8 166 553.5 164.4 552 161.1 549.7 152.9 548.6 152.9 544.5 159.5 539.8 164.4 528.5 174.2 516.4 183.5 511.9 186.5 502.8 191.1 490.8 198.3 477.9 205.2 468.2 211.4 468.2 219.9 469.7 219.9ZM568.9 218.3 565.5 216.6 565.4 215 568.5 213.4 572.1 212.7 575.1 212.6 578.2 213 581.2 213.8 583.3 215 583.4 216.6 581.2 217.9 578.2 218.8 575.1 219.1 572.1 219 569.1 218.4ZM560.9 201.9 559.4 200.3 558.9 198.7 559.1 197 560.1 195.4 561.6 194.3 563.1 193.8 566.1 194 568.6 195.4 569.8 197 570.1 198.7 569.6 200.3 568.1 201.9 566.1 202.9 564.6 203.1 563.1 202.9 560.9 201.9Z" fill="#f11200" fill-rule="evenodd"/><path d="M480.2 218.8 481.1 219.9 612.8 219.9 612.8 201.9 609.8 199 608.7 197 608.1 193.8 608.7 190.5 609.6 188.9 611 187.2 612.8 186 612.8 181 606.8 178.2 594.7 171.5 588.7 169.4 584.2 168.5 573.6 167.5 570.6 166.9 566.1 165.4 564.6 165.3 560.1 168.8 559.1 169.3 557.1 169.5 555.6 168.8 551 164.8 549.6 164.4 548 164.5 545 165.6 539 168.8 514.9 186.6 501.6 193.8 485.6 203.6 480.9 206.8 478 210.1 477.2 211.7 477 213.4 478.4 216.6 479.9 218.3ZM566.4 218.3 564.1 216.6 564.1 215 566.1 213.6 567.6 213 572.1 212.3 578.2 212.5 581.9 213.4 584.8 215 585.1 216.6 584.2 217.5 581.2 219.1 578.2 219.6 570.6 219.5 566.4 218.3ZM564.4 203.6 561.6 203 560.1 202 558.7 200.3 558.2 198.7 558.4 197 559.2 195.4 560.1 194.5 563.1 193.2 564.6 193.1 567.1 193.8 569.1 195.1 570.4 197 570.6 198.4 570.3 200.3 569.1 201.9 567.6 202.9 564.8 203.6Z" fill="#ff3900" fill-rule="evenodd"/><path d="M492.3 219 493.6 219.9 567.4 219.9 564.6 218.7 563.1 217.4 562.5 216.6 562.6 215 564.6 213.5 567.6 212.4 570.6 211.9 575.1 211.8 579.7 212.2 582.7 212.9 586.7 215 587.2 216.4 586.6 218.3 585.7 219.3 584.4 219.9 599.2 219.9 602.3 218.7 606.2 216.6 612.7 211.7 612.8 203.8 611.3 202.7 609.8 201 608.4 198.7 607.4 195.4 607.5 192.1 607.8 190.5 609.8 185.8 609.9 184 608.5 182.3 606.8 181.2 596.2 174.8 591.7 172.7 587.2 171.4 579.7 170.8 567.6 171.9 563.1 171.6 558.6 171.9 555.6 171.1 551 168.6 548 168.5 543.5 169.6 539 171.5 536 173.3 514.9 188.5 501.3 195.9 492.3 201.8 487.8 205.1 484.9 208.5 484.4 210.1 484.6 211.7 485.4 213.4 486.9 215 492.3 219ZM561.4 203.6 559 201.9 557.9 200.3 557.5 198.7 557.6 197 558.3 195.4 559.9 193.8 561.6 192.8 564.6 192.4 567.6 193.2 570.2 195.4 571.1 197 571.4 198.7 571.1 200.3 569.1 202.8 566.1 204.1 563.1 204.2 561.6 203.7Z" fill="#ff6e00" fill-rule="evenodd"/><path d="M499.8 218.4 502.5 219.9 562.6 219.9 561.6 218.7 560.5 216.6 560.8 215 562.6 213.4 566.1 212 570.6 211.2 573.6 211.1 578.2 211.3 584.2 212.5 586.7 213.4 591.7 216 593.2 216.3 594.7 216.3 597.7 215.5 601.7 213.4 605.1 210.1 607.5 206.8 608.1 205.2 608.3 203.8 606.5 195.4 606.6 192.1 607.2 187.2 607 185.6 605.8 184 603.8 182.4 597.7 178.4 593.2 175.9 590.2 174.7 587.2 173.8 584.2 173.4 579.7 173.4 576.6 173.8 572.1 175 567.6 176.8 564.6 177.3 563.1 177 552.5 172.1 551 171.7 546.5 171.6 543.5 172.2 540.5 173.3 536 175.6 530 179.4 514.9 190.4 501.3 197.8 495.4 201.9 491.6 205.2 490.3 206.8 489.7 208.5 489.7 210.1 490.4 211.7 491.7 213.4 493.7 215 499.7 218.3ZM559.8 203.6 558 201.9 557.1 200.3 556.7 198.7 556.7 197 557.3 195.4 558.5 193.8 560.1 192.5 563.1 191.5 566.1 191.8 569.1 193.3 571.1 195.4 571.9 197 572.1 198.7 571.9 200.3 570.6 202.4 567.6 204.5 566.1 204.9 563.1 204.9 560.1 203.8Z" fill="#ffa100" fill-rule="evenodd"/><path d="M507.4 218.8 508.9 219.7 510.4 219.9 558.1 219.9 558 216.6 558.5 215 560 213.4 561.6 212.4 566.1 210.8 570.6 210.3 576.6 210.3 581.2 210.7 590.2 212.3 593.2 212.2 594.6 211.7 597.3 210.1 599.2 208.5 602.2 205.2 604.3 201.9 605.2 198.7 605.1 188.9 604.4 187.2 603.1 185.6 599.2 182.5 593.2 178.7 590.5 177.4 587.2 176.4 584.2 175.9 581.2 175.8 576.6 176.5 573.6 177.7 567.6 181.8 564.6 183.3 563.1 183.2 561.6 182.4 556.4 177.4 552.5 175.1 551 174.6 548 174.2 545 174.4 542 175 537.5 176.9 530 181.3 523.9 185.4 516.4 191.1 503 198.7 498.5 201.9 495.3 205 494.1 206.8 493.8 208.2 494.1 210.1 495.1 211.7 496.8 213.4 499.2 215 507.4 218.8ZM560.8 205.2 558.6 203.9 557.1 202.2 556.1 200.3 555.7 197 556.1 195.4 557 193.8 560.1 190.8 563.1 189.8 564.6 189.9 567.6 191.1 570.6 193.4 572.1 195.4 572.9 197 573.1 198.7 572.9 200.3 572.2 201.9 570.9 203.6 567.6 205.7 564.6 206.2 563.1 206.1 560.8 205.2Z" fill="#ffd200" fill-rule="evenodd"/><path d="M513.4 218.8 514.9 219.8 516.4 219.9 552.5 219.9 553.9 218.3 555.5 215 556.7 213.4 560.1 210.4 561.6 208.5 557.1 204.2 554.8 200.3 554.5 198.7 554.6 195.4 557.1 189.1 557.3 187.2 556.5 184 555.8 182.3 554.1 179.8 551 177.6 549.5 177.1 546.5 176.7 542 177.3 537.5 178.9 528.5 183.9 517.9 191.8 505.9 198.7 499.8 203.4 498.3 205.1 497.4 206.8 497.3 208.5 497.8 210.1 499.1 211.7 502.8 214.3 513.4 218.8ZM575.1 208.5 584.2 209 588.7 208.6 592.4 206.8 596.2 203.9 600.8 199.3 602.2 197 602.6 195.4 602.7 192.1 602.3 190.5 600.2 187.2 596.6 184 593.2 181.6 588.7 179.5 585.7 178.7 582.7 178.4 579.7 178.6 576.6 179.5 573.6 181.2 569.5 185.6 568.5 187.2 568.5 188.9 573.4 195.4 574.4 198.7 574.4 200.3 573.8 201.9 573 203.6 570.7 206.8 572.1 208 575.1 208.5Z" fill="#fff600" fill-rule="evenodd"/><path d="M519.4 219.1 520.9 219.8 522.4 219.9 547.6 219.9 550.7 216.6 555.2 210.1 555.9 208.5 555.9 206.8 553.2 200.3 552.9 198.7 552.7 195.4 553.1 188.9 552.8 185.6 551.5 182.3 549.8 180.7 546.5 179.5 543.5 179.3 539 180.3 534.5 182.2 526.9 186.6 516.4 194.5 506.2 200.3 502.4 203.6 501.3 204.9 500.5 206.8 500.5 208.5 501.3 210.1 502.8 211.7 507.4 214.3 517.9 218.2 519.4 219.1ZM579.7 203.6 584.2 203.4 587.2 202.4 591.7 200.3 596.2 197.1 597.6 195.4 598.2 193.8 598.2 192.1 597.8 190.5 595.8 187.2 592.1 184 587.2 181.6 582.7 180.9 579.7 181.3 578.2 181.8 575.1 183.7 573.6 185.4 572.6 187.2 572.2 188.9 572.4 190.5 576.1 197 577.6 201.9 578.2 202.9 579.4 203.6Z" fill="#e5f822" fill-rule="evenodd"/><path d="M523.9 218.5 530 219.9 537.5 219.9 540.5 219.4 545 217.6 546.5 216.7 548.5 215 551 211.8 551.9 210.1 552.7 206.8 552.6 205.2 550.7 197 550 188.9 549.1 185.6 548.1 184 545.6 182.3 542 181.9 539.2 182.3 536 183.4 531.5 185.5 526.9 188.3 517.9 195.2 508.9 200.3 505.9 202.7 503.8 205.2 503.2 206.8 503.4 208.5 504.3 210 505.9 211.4 510.4 213.8 523.5 218.3ZM579.7 195.7 582.7 196.7 585.7 196.8 588.7 196.1 591.7 194.3 593 192.1 593.1 190.5 592.7 188.9 591.7 187.4 590.2 185.9 587.2 184.2 585.7 183.7 582.7 183.4 579.8 184 577.2 185.6 576 187.2 575.4 188.9 575.5 190.5 576.6 192.9 578.2 194.6 579.2 195.4Z" fill="#c7f15b" fill-rule="evenodd"/><path d="M523.9 216.8 528.5 217.8 533 218 537.5 217.7 540.5 217.1 543.5 215.9 546.5 213.9 548 212.2 549.4 210.1 550 208.5 550.2 205.2 547.6 190.5 546.5 187.6 545 185.7 543.5 184.8 542 184.4 539 184.5 536 185.3 531.5 187.2 526.9 190.1 519.4 195.8 509.2 201.9 507.5 203.6 506.3 205.2 505.9 206.7 506.1 208.5 507.4 210.1 508.9 211.2 513.3 213.4 523.3 216.6ZM582.7 192.6 585.7 192.6 586.9 192.1 588.4 190.5 588.3 188.9 587.2 187.3 584.2 186.1 582.7 186.1 580 187.2 579.2 188.9 579.4 190.5 581.2 192.1 582.7 192.6Z" fill="#b9efa3" fill-rule="evenodd"/><path d="M522.4 215.1 526.9 216.2 530 216.5 534.5 216.5 537.5 216.1 540.5 215.3 543.5 213.8 545.9 211.7 547.1 210.1 547.8 208.5 548.1 205.2 545.5 192.1 543.9 188.9 542 187.3 540.5 186.8 539 186.7 536 187.2 533 188.3 530 189.9 520.9 196.6 511.9 201.9 509.9 203.6 508.9 205 508.3 206.8 508.8 208.5 510.3 210.1 514.9 212.6 522.1 215Z" fill="#e9fce5" fill-rule="evenodd"/><path d="M528.5 215.1 534.5 215.1 539 214.2 542 212.7 543.4 211.7 544.8 210.1 545.7 208.5 546.1 206.8 545.9 203.6 543.5 193.8 542 191 540.5 189.8 539 189.3 536 189.4 531.5 191.1 523.1 197 514.9 201.7 512.4 203.6 511.1 205.2 510.7 206.8 511.4 208.5 513.2 210.1 516.3 211.7 520.7 213.4 528.5 215.1Z" fill="#e8f6fa" fill-rule="evenodd"/><path d="M525.4 213.4 531.5 214 536 213.5 540.5 211.8 542.5 210.1 543.5 208.7 544.1 206.8 544.2 205.2 542 197.6 540.5 194 539 192.6 537.9 192.1 535.1 192.1 531.5 193.5 525.4 197.6 516.4 202.5 515 203.6 513.6 205.2 513.4 207.2 514 208.5 516.1 210.1 519.4 211.6 525.2 213.4Z" fill="#cae3fd" fill-rule="evenodd"/><path d="M523.9 211.8 530 212.7 534.5 212.4 536.9 211.7 539 210.7 541.4 208.5 542 207 542.1 205.2 541.8 203.6 539.2 198.7 537.5 196.6 536 195.8 534.5 195.8 531.5 196.8 520.9 201.8 517.9 203.5 516.4 205 515.9 206.8 516.9 208.5 519.3 210.1 523.7 211.7Z" fill="#9ac7f9" fill-rule="evenodd"/><path d="M523.9 210.3 526.9 211 530 211.3 533 211.1 536 210.3 538.7 208.5 539.6 206.8 539.7 205.2 539.1 203.6 537.9 201.9 536 200.6 533 199.9 528.5 200.7 523.9 202.3 521.3 203.6 519.4 205.1 518.9 206.8 520.1 208.5 523.9 210.3Z" fill="#6ea5f0" fill-rule="evenodd"/><path d="M525.4 208.9 530 209.6 533 209.2 534.5 208.7 536 207.4 536.4 206.8 536.4 205.2 534.8 203.6 533 202.9 530 202.8 526.9 203.4 523.2 205.2 522.6 206.8 523.9 208.2 525.4 208.9Z" fill="#4481e5" fill-rule="evenodd"/><path d="M612.8 161.7 605.3 159 594.7 156.5 590.2 154.7 587.2 152.2 581.8 144.8 578.1 141.5M522 141.5 514.9 143 510.4 144.7 508.1 146.4 507.4 147.5 506.5 149.7 506.7 151.3 507.4 152.8 508.9 154.2 514.9 156.8 516.4 157.8 517.7 159.5 518.2 161.1 517.9 164.2 517.1 166 514.9 169 510.4 172.5 504.3 175.6 501.3 176.5 493.8 178 491.3 179.1 487.8 181.7 483.3 187 479.1 190.5 474.2 192.8 468.2 194.5M573.6 215.7 572.6 215 575.1 214.9 573.6 215.7M564.6 200.4 563.1 199.8 562.2 198.7 562.9 197 564.6 196.6 566.1 197 566.8 198.7 566.1 199.7 564.6 200.4" fill="none" stroke="#ffa159" stroke-width=".65" stroke-opacity=".92"/><path d="M612.8 197.4 611.3 196.2 610.8 195.4 610.5 193.8 611.3 191.4 612.8 190.3M612.8 169.8 609.8 168.8 599.2 163.8 588.7 160 585.7 158.4 583.1 156.2 581.7 154.6 577.2 148 573.6 143.5 572.6 141.5M533.5 141.5 531.9 154.6 530.5 159.5 529 162.7 526.9 165.9 524.3 169.3 521.1 172.5 515 177.4 510.4 180.5 498.3 186.4 487 193.8 478.7 197.6 468.2 201.1M570.6 217 569.5 216.6 569.1 215.5 570.6 214.4 575.1 213.9 579.6 215 579.1 216.6 578.2 217 575.1 217.5 570.6 217M561.6 200.4 560.7 198.7 561.1 197 563.1 195.5 564.6 195.3 566.1 195.6 567.6 196.7 568.3 198.7 567.6 200.2 566.1 201.2 564.6 201.5 563.1 201.3 561.6 200.4M557.1 162.5 555.8 161.1 555.1 159.5 554.8 154.6 555.5 151.3 556.7 149.7 557.7 149.7 558.6 150.1 559.1 151.3 559.6 152.9 560 156.2 559.5 159.5 559 161.1 558.6 161.8 557.1 162.5" fill="none" stroke="#ffa75a" stroke-width=".65" stroke-opacity=".92"/><path d="M612.8 199.2 611.8 198.7 610.1 197 609.4 195.4 609.2 193.8 609.4 192.1 610.2 190.5 611.3 189.2 612.8 188.5M612.8 175.6 608.7 174.2 596.2 167.8 582.7 163.2 578.7 161.1 575.5 157.8 571.6 151.3 569.3 146.4 567.9 141.5M542.4 141.5 541.2 146.4 540.7 154.6 539.2 159.5 536 164.4 527.9 172.5 519.9 179.1 511.9 184.8 501.3 190.2 487.8 198.2 468.2 207.6M572.1 218.4 569.1 217.8 566.6 216.6 566.4 215 569.1 213.7 572.1 213.1 576.6 213.1 579.7 213.8 582.2 215 582.1 216.6 579.7 217.8 575.1 218.5 572.1 218.4M563.1 202.5 561.8 201.9 560.1 200.5 559.4 198.7 559.6 197 560.9 195.4 563.1 194.3 566.1 194.4 567.6 195.2 569.1 196.9 569.6 198.7 569.1 200.1 567.6 201.7 566.1 202.4 563.1 202.5M557.1 166.1 555.6 165.2 554.9 164.4 553.3 161.1 552.7 157.8 552.6 154.6 553 149.7 553.9 146.4 555.6 143.9 557.1 143.6 558.6 144.4 560.9 148 562.1 154.6 562 157.8 560.8 162.7 560.1 164.1 558.6 165.8 557.1 166.1" fill="none" stroke="#ffad5c" stroke-width=".65" stroke-opacity=".92"/><path d="M572.7 219.9 569.1 219.5 566.1 218.5 563.6 216.6 563.7 215 566.1 213.4 567.6 212.9 573.6 212.1 578.2 212.3 581.2 212.9 585.3 215 585.6 216.6 584.2 218.1 581.2 219.4 577 219.9M609.1 219.9 611.3 218.3 612.8 217.6M612.8 201.8 611.3 201 609.2 198.7 608.5 197 607.9 193.8 608.3 191.2 609.2 188.9 611.3 186.2 612.8 185.2M612.8 182.3 596.2 173 591.7 171 588.7 170.1 582.7 169.1 570.6 168.4 564.6 167.4 560.1 169.6 558.6 170.1 557.1 170.1 555.6 169.4 551 166 549.5 165.7 546.5 166.3 542 168 537.5 170.6 514.9 187.2 501.3 194.5 486.9 203.6 482.5 206.8 480.2 209.6 479.5 211.7 479.7 213.4 481.8 216.4 485.2 219.9M563.1 203.6 561.6 203.2 560.1 202.3 558.6 200.5 558 198.7 558.1 197 559 195.4 560.1 194.3 561.6 193.4 563.1 193 566.1 193.1 567.6 193.8 569.7 195.4 570.6 197 570.9 198.7 570.6 199.7 569.3 201.9 567.6 203.1 564.6 203.8 563.1 203.6" fill="none" stroke="#ffc846" stroke-width=".65" stroke-opacity=".92"/><path d="M560.8 219.9 559.6 216.6 560 215 561.6 213.5 563.1 212.6 567.6 211.3 573.6 210.8 579.7 211.2 585.7 212.4 590.2 214.1 593.2 214.7 596.2 214.2 599.2 212.6 603.7 208.5 605.9 205.2 606.6 203.6 606.8 201.1 606 193.8 606.3 187.2 605.6 185.6 604 184 599.5 180.7 593.2 177 590.5 175.8 587.2 174.8 582.7 174.3 576.6 174.8 572.1 176.4 567.6 178.7 564.6 179.5 563.1 179.2 561.6 178.5 557.4 175.8 552.5 173.2 551 172.8 548 172.6 545 172.9 542 173.6 536 176.4 525.4 183.2 515.7 190.5 505.9 195.8 501.3 198.6 496.8 201.8 493 205.2 491.9 206.8 491.3 208.5 491.5 210.1 492.3 211.7 493.8 213.4 495.9 215 505.2 219.9M563.1 205.2 560.1 204.2 557.6 201.9 556.7 200.3 556.3 198.7 556.3 197 556.9 195.4 558.6 193.1 561.6 191.3 564.6 191 567.6 192 570.2 193.8 571.5 195.4 572.5 198.7 572.2 200.3 571.5 201.9 569.1 204.2 566.1 205.2 563.1 205.2" fill="none" stroke="#ece02e" stroke-width=".65" stroke-opacity=".92"/><path d="M550.7 219.9 558.3 208.5 557.9 206.8 554.7 201.9 553.8 198.7 553.7 195.4 554.8 190.5 555 187.2 554.4 184 553.7 182.3 552.6 180.7 550.4 179.1 548 178.3 545 178 542 178.4 537.5 179.9 530 183.8 525.4 186.8 516.4 193.6 504.9 200.3 501.3 203.2 499.8 205 498.9 206.8 498.9 208.5 499.6 210.1 501 211.7 504.3 213.9 514.9 218.1 517.9 219.9M578.2 206.9 584.2 206.9 587.2 206.1 589.4 205.2 593.2 202.8 597.7 199.2 599.2 197.5 600.4 195.4 600.8 192.5 600.2 190.5 599.3 188.9 598 187.2 594.7 184.2 590.2 181.4 587.2 180.3 584.2 179.7 581.2 179.7 578.2 180.3 575.1 181.9 573.6 183.1 571.6 185.6 570.7 187.2 570.4 188.9 571 190.5 574.2 195.4 574.9 197 575.3 200.3 574.4 205.2 575.1 206.1 578.2 206.9" fill="none" stroke="#9be023" stroke-width=".65" stroke-opacity=".92"/><path d="M528.5 218.4 534.5 218.8 537.5 218.5 542 217.5 545 216 546.5 215 548 213.6 550.4 210.1 551.2 206.8 551.1 205.2 549.7 198.7 548.6 190.5 547.7 187.2 546.8 185.6 545 184.1 542 183.4 539 183.6 536 184.5 531.5 186.5 526.9 189.4 519.4 195.2 508.9 201.5 506.5 203.6 505.3 205.2 504.8 206.8 505 208.5 505.9 209.7 508.3 211.7 511.7 213.4 519.4 216.1 523.9 217.5 528.5 218.4M581.2 193.8 582.7 194.2 585.7 194.3 588.7 193.1 589.8 192.1 590.2 191.2 590.2 189 589.1 187.2 587.2 185.8 585.7 185.2 582.7 184.9 580.1 185.6 578.2 187.2 577.5 188.9 577.7 190.5 578.7 192.1 581.2 193.8" fill="none" stroke="#56d864" stroke-width=".65" stroke-opacity=".92"/><path d="M526.9 215.3 533 215.7 539 214.7 542 213.4 544.2 211.7 545.5 210.1 546.7 206.8 546.5 203.6 543.7 192.1 542 189.7 540.6 188.9 539 188.5 536 188.7 531.5 190.4 522.4 196.9 513.6 201.9 511.9 203.3 510.4 205.2 510 206.8 510.4 207.9 511.9 209.7 513.4 210.8 519.4 213.3 526.9 215.3" fill="none" stroke="#38c0c7" stroke-width=".65" stroke-opacity=".92"/><path d="M523.9 212.1 530 213 534.5 212.7 537.5 211.9 539 211.1 540.5 210.1 541.9 208.5 542.5 206.8 542.6 205.2 542.2 203.6 539.1 197 537.5 195.4 536 194.9 533 195.4 519.9 201.9 517.2 203.6 515.7 205.2 515.3 206.8 516.3 208.5 518.7 210.1 523.9 212.1" fill="none" stroke="#378dec" stroke-width=".65" stroke-opacity=".92"/><path d="M523.9 208.5 528.5 209.8 533 209.4 535.4 208.5 536 207.9 536.8 206.8 536.8 205.2 535.4 203.6 533 202.6 530 202.6 526.9 203.2 525.6 203.6 522.8 205.2 522.2 206.8 523.9 208.5" fill="none" stroke="#2858d8" stroke-width=".65" stroke-opacity=".92"/></g>
<path d="M468.2 219.9h-2.2" stroke="#000" stroke-width="1"/><text x="462.3" y="222.9" font-size="11" text-anchor="end">1</text><path d="M468.2 193.8h-2.2" stroke="#000" stroke-width="1"/><text x="462.3" y="197.6" font-size="11" text-anchor="end">2</text><path d="M468.2 167.6h-2.2" stroke="#000" stroke-width="1"/><text x="462.3" y="172.3" font-size="11" text-anchor="end">3</text><path d="M468.2 141.5h-2.2" stroke="#000" stroke-width="1"/><text x="462.3" y="147" font-size="11" text-anchor="end">4</text><path d="M468.2 219.9v2.2" stroke="#000" stroke-width="1"/><text x="468.6" y="235.7" font-size="11" text-anchor="middle">0</text><path d="M492.3 219.9v2.2" stroke="#000" stroke-width="1"/><text x="492.7" y="235.7" font-size="11" text-anchor="middle">2</text><path d="M516.4 219.9v2.2" stroke="#000" stroke-width="1"/><text x="516.8" y="235.7" font-size="11" text-anchor="middle">4</text><path d="M540.5 219.9v2.2" stroke="#000" stroke-width="1"/><text x="540.9" y="235.7" font-size="11" text-anchor="middle">6</text><path d="M564.6 219.9v2.2" stroke="#000" stroke-width="1"/><text x="565" y="235.7" font-size="11" text-anchor="middle">8</text><path d="M588.7 219.9v2.2" stroke="#000" stroke-width="1"/><text x="589.1" y="235.7" font-size="11" text-anchor="middle">10</text><path d="M612.8 219.9v2.2" stroke="#000" stroke-width="1"/><text x="613.2" y="235.7" font-size="11" text-anchor="middle">12</text><path d="M468.2 141.5V219.9H612.8" stroke="#000" stroke-width="1.2" fill="none"/><text x="472.7" y="158.5" font-size="13.2" fill="#fff">-0.9 V</text><text transform="translate(449.7 185.9) rotate(-90)" font-size="11.2" text-anchor="middle" font-weight="bold"><tspan font-style="italic">R</tspan><tspan font-size="7.5" dy="-3.8">+</tspan><tspan dy="3.8" font-style="italic"> α</tspan>(Å)</text><text x="546.2" y="251.3" font-size="11.2" text-anchor="middle" font-weight="bold"><tspan font-style="italic">k </tspan>(Å<tspan font-size="7.5" dy="-3.8">-1</tspan><tspan dy="3.8">)</tspan></text>
<defs><linearGradient id="cb1" x1="0" y1="0" x2="0" y2="1"><stop offset="0%" stop-color="#387cdc"/><stop offset="10%" stop-color="#9cc8f8"/><stop offset="20%" stop-color="#f0f8ff"/><stop offset="30%" stop-color="#ffffe8"/><stop offset="38%" stop-color="#ffff50"/><stop offset="44%" stop-color="#ffe000"/><stop offset="54%" stop-color="#ff8000"/><stop offset="66%" stop-color="#e61000"/><stop offset="80%" stop-color="#800000"/><stop offset="94%" stop-color="#180000"/><stop offset="100%" stop-color="#000000"/></linearGradient></defs><rect x="615" y="140.6" width="5.6" height="79.4" fill="url(#cb1)"/>
<path d="M620.6 149.8h2" stroke="#000" stroke-width=".9"/>
<text x="624.6" y="154" font-size="11" textLength="10.8" lengthAdjust="spacingAndGlyphs">1.5</text>
<path d="M620.6 172.4h2" stroke="#000" stroke-width=".9"/>
<text x="624.6" y="176.6" font-size="11" textLength="10.8" lengthAdjust="spacingAndGlyphs">1.0</text>
<path d="M620.6 196.9h2" stroke="#000" stroke-width=".9"/>
<text x="624.6" y="201.1" font-size="11" textLength="10.8" lengthAdjust="spacingAndGlyphs">0.5</text>
<path d="M620.6 220.8h2" stroke="#000" stroke-width=".9"/>
<text x="624.6" y="225" font-size="11" textLength="10.8" lengthAdjust="spacingAndGlyphs">0.0</text>
<g shape-rendering="geometricPrecision"><rect x="468.2" y="260" width="144.6" height="78.5" fill="#000"/><path d="M469.7 338.5 612.8 338.5 612.8 260 491 260 491 263.3 490.6 264.9 485.6 273.1 483.5 278 482.2 282.9 480.7 292.7 479.6 296 477.6 299.2 474.8 302.5 468.2 308.3 468.2 338.5 469.7 338.5ZM559.5 335.2 555.7 333.6 555.1 332 556.1 330.3 558.5 328.7 563.1 326.7 566.1 326 569.1 326 572.1 326.8 574.9 328.7 575.9 330.3 575.7 332 573.9 333.6 569.1 335.1 564.6 335.5 560.1 335.3ZM602.1 333.6 599.2 332.2 597.7 330.5 597.4 328.7 598.5 327.1 600.8 326.2 603.8 325.9 606.8 326.4 608.9 327.1 610.9 328.7 611.3 329.9 610.9 332 608.7 333.6 605.3 334 602.3 333.6Z" fill="#1d0000" fill-rule="evenodd"/><path d="M478.7 338.5 612.8 338.5 612.8 334.2 610.4 335.2 608.3 335.6 605.3 335.7 600.8 335.4 595.2 333.6 593.2 332.1 592 330.3 592.3 328.7 593.6 327.1 596.2 325.5 599.2 324.7 602.3 324.4 606.8 324.7 609.8 325.3 612.8 326.6 612.8 260 502.8 260 501.8 261.6 501.1 264.9 499.9 268.2 498 271.4 493.8 277.4 492.6 279.6 491.4 282.9 490.8 287.8 491.4 296 490.8 299.2 488.3 305.8 486.5 312.3 484.5 317.2 481.8 326.7 478.7 333.2 478.1 335.2 478.2 338.5ZM557.6 336.9 554.1 336.1 551.7 335.2 550.1 333.6 550.1 332 551 330.6 553.4 328.7 556.7 327.1 561.1 325.4 567.6 324.2 572.1 324.7 574.9 325.4 578.2 326.9 581.1 328.7 582.3 330.3 581.9 332 580.1 333.6 575.1 335.6 566.1 337 561.6 337.1 557.6 336.9ZM511.4 286.2 509.8 284.5 509 282.9 508.6 279.6 509.2 276.4 510 274.7 511.9 273.2 513.4 272.9 514.9 273.3 516.4 274.5 517.3 276.4 517.6 278 517.2 281.3 516.4 283.6 514.9 285.7 513.4 286.5 511.9 286.4ZM529.7 273.1 528 271.4 526.9 268.5 526.8 266.5 528.5 265.4 530 266.1 530.7 268.2 530.7 271.4 530.1 273.1ZM552.2 271.4 552 269.8 552.3 268.2 553.1 269.8 552.5 272.1 552.2 271.4Z" fill="#350000" fill-rule="evenodd"/><path d="M487.8 338.5 553.5 338.5 549.5 337.4 545.5 335.2 544.4 333.6 544.8 332 546.3 330.3 548.7 328.7 551.9 327.1 556.3 325.4 561.6 323.9 566.1 323.2 570.6 323.2 575 323.8 585.7 326.3 588.7 326.1 596.2 323.9 600.8 323.3 606.8 323.4 612.8 324.5 612.8 260 528.5 260 530 261.6 531.5 264 532.3 268.2 532.1 273.1 531.6 274.7 530.2 276.4 528.5 276.1 526.9 275.2 525.4 274.8 523.9 275.4 521.8 278 517.9 286 516.4 287.8 513.6 289.4 511.9 289.7 510.5 289.4 508.9 288.7 507.6 287.8 504.3 283.5 502.8 282.2 501.3 282.4 499.4 284.5 498.3 287.6 497.6 294.3 497 297.6 494 305.8 492.8 312.3 489.4 320.5 488.6 325.4 488.2 333.6 487.2 338.5ZM550.9 274.7 550.3 273.1 549.9 269.8 550.2 266.5 550.6 264.9 551 264 552.1 263.3 553 263.3 554.1 264 555 266.5 555.3 268.2 554.9 273.1 554.3 274.7 552.5 276.3 551 275.1ZM567.6 338.5 612.8 338.5 612.8 336.9 611.3 336.7 606.8 337.1 602.3 337 597.7 336.5 588.7 334.8 585.7 335 575.1 337.5 567.6 338.4Z" fill="#590000" fill-rule="evenodd"/><path d="M495.3 338.5 544.7 338.5 540.5 336.4 533 333.6 535.6 332 539 330.9 551 325.6 557.1 323.8 564.6 322.4 572.1 322.3 585.7 323.9 600.8 322.2 606.8 322.3 612.8 323 612.8 260 581.5 260 581.6 261.6 581.2 263.3 579.7 264.4 578.2 264.2 577.2 263.3 576.6 262.1 576.4 260 554.1 260 555.6 262.3 556.4 264.9 556.8 268.2 556.7 271.4 556 274.7 555.3 276.4 554.1 278 552.5 278.7 551 278 549.9 276.4 549.3 274.7 548.6 271.4 548.4 268.2 548.7 264.9 549.5 262.3 551 260 531.9 260 533.2 264.9 533.5 269.8 533 274.5 531.5 278 530 278.9 526.9 278.6 525.4 279.1 523.4 281.3 519.4 287.6 517.9 289.3 515.5 291.1 511.9 292.3 506.4 292.7 504.3 293.6 502.8 295.5 499.3 302.5 498 305.8 496.8 312 494.4 318.9 493.6 322.1 493.5 325.4 494.3 335.2 494 338.5 495.3 338.5ZM582.7 338.5 600.8 338.5 588.7 337.9 582.7 338.5ZM611.3 338.5 612.8 338.5 611.3 338.5Z" fill="#7e0000" fill-rule="evenodd"/><path d="M501.3 338.5 537.5 338.5 536 337.8 533 337 522.4 335.2 519.5 333.6 520.9 332.1 526.9 330.3 534.5 329.2 539 328.1 551.9 323.8 561.6 321.9 569.1 321.3 585.7 322.3 600.8 321.3 612.8 321.8 612.8 260 599.2 260 597.7 264.1 596.2 263.6 595.8 260 583.2 260 582.8 263.3 581.2 265.5 579.7 266.1 578.2 266 576.6 265 575.5 263.3 574.8 260 557.1 260 557.9 263.3 558.3 266.5 558 273.1 557.6 274.7 556.1 278 554.1 280.2 552.5 280.7 551 280.3 549.5 278.8 548.2 276.4 547.3 273.1 546.8 266.5 547.1 263.3 547.8 260 534.5 260 534.7 268.2 534.3 273.1 533.7 276.4 532 279.6 531.5 280.3 530 281.2 526.9 281.8 525.5 282.9 520.9 289.2 517.9 292 514.9 293.8 509 296 507.4 296.9 504.3 300.2 502.1 304.2 500.9 307.4 499.9 312.3 498.1 318.9 497.6 323.8 497.9 327.1 499.6 335.2 499.9 338.5 501.3 338.5Z" fill="#a70000" fill-rule="evenodd"/><path d="M507.4 338.5 530 338.5 523.9 337.5 511.9 336.3 508.9 336.7 507.4 337.6 506.6 338.5ZM505.9 331.5 507.4 331.9 508.9 331.9 517.9 329.9 533 327.5 539 326.2 551 322.7 563.1 320.8 569.1 320.5 584.2 320.9 600.8 320.4 612.8 320.6 612.8 260 602.3 260 600.8 261.4 599.5 264.9 597.7 267 596.2 266.9 594.8 264.9 593.9 260 585.7 260 584.8 261.6 583.6 264.9 582.2 266.5 581.2 267.2 579.7 267.6 578.2 267.5 576.6 266.8 575.1 265.3 574.1 263.3 573.1 260 560.1 260 560 271.4 559 276.4 557.1 279.6 555.6 281.2 554.1 282.2 552.5 282.6 551 282.3 549.5 281.4 548 279.8 546.1 276.4 545.3 273.1 544.9 269.8 544.5 260 537.5 260 536.7 261.6 535.5 274.7 534.5 278 533 281.2 531.5 282.8 526.9 285.2 522.4 290.9 519.4 293.5 509.3 299.2 506.4 302.5 504.6 305.8 503.5 309.1 501.6 317.2 501.3 322.1 501.8 325.4 502.8 328.2 504.3 330.3 505.9 331.5Z" fill="#d00000" fill-rule="evenodd"/><path d="M508.9 327.2 511.9 327.9 514.9 328 528.5 326.7 535.8 325.4 551 321.5 564.6 319.8 612.8 319.6 612.8 260 608.3 260 604 261.6 602.3 262.9 599.2 267.9 597.7 269.1 596.2 269.1 594.9 268.2 593.8 266.5 591.7 260.3 588.7 260 587.2 261.2 586.5 263.3 584.6 266.5 582.9 268.2 581.2 269.1 579.7 269.4 578.2 269.3 576.6 268.8 575.1 267.6 573.2 264.9 570.7 260 563.1 260 562.1 264.9 562 274.7 561.1 278 560.1 279.5 557.1 282.2 554.1 284 552.5 284.3 551 284.2 548 282.9 545.6 281.3 544.1 279.6 542.6 276.4 540.7 266.5 539 269.1 538.4 273.1 537 278 535.4 281.3 533 284.5 528.5 287.8 524 292.7 522.4 294.1 511.9 300.6 509.9 302.5 507.6 305.8 506.3 309.1 505.3 312.3 504.3 318.9 504.7 322.1 505.3 323.8 506.3 325.4 508.5 327.1Z" fill="#f11200" fill-rule="evenodd"/><path d="M513.4 325.7 519.4 326.1 527.8 325.4 534.5 324.3 549.5 320.6 563.1 319.1 572.1 318.8 612.8 318.7 612.8 260.1 609.8 262.3 603.9 264.9 602.3 266.4 599.6 269.8 597.7 271.1 596.2 271.3 594.7 270.7 593.6 269.8 590.2 266.5 588.7 266.9 584.2 270.7 582.7 271.4 581.2 272 578.2 272.2 575.1 270.9 573.6 269.3 570.8 264.9 569.4 263.3 567.6 262.6 566.1 263 565 264.9 564.7 266.5 565.2 276.4 564.1 279.6 562.6 281.3 560.2 282.9 557.1 284.4 552.5 286 542 285.1 539 285.4 537.5 285.9 534.5 287.7 523.9 296 515.4 300.9 511.9 304.1 509.7 307.4 508.3 310.7 507.1 315.6 506.9 318.9 507.3 320.5 508.9 323.3 510.4 324.5 513.4 325.7Z" fill="#ff3900" fill-rule="evenodd"/><path d="M514.9 323.9 519.4 324.5 526.9 324.2 533 323.3 548 319.8 561.6 318.4 587.2 317.7 612.8 317.7 612.8 263.3 604.2 268.2 599.2 272.5 598.1 273.1 596.2 273.7 591.7 273.3 590.2 273.7 582.7 277 572.1 279.8 566.3 282.9 561.6 284.9 554.1 287.3 546.5 288.2 543.5 289 536 291.9 519.5 300.9 516.4 303 513.7 305.8 511.9 308.6 509.8 314 509.4 317.2 509.5 318.9 510.2 320.5 511.5 322.1 514.5 323.8Z" fill="#ff6e00" fill-rule="evenodd"/><path d="M516.4 322.4 520.9 323.1 526.9 322.9 533 322 546.5 318.9 561.6 317.5 587.2 316.8 612.8 316.9 612.8 266.5 611.3 267.1 597.7 276 582.7 281.1 573.6 283.4 565 286.2 546.5 290.7 520.9 302.5 517.9 304.7 515.4 307.4 513.4 310.7 512.2 314 511.8 317.2 512.2 318.9 513.3 320.5 515.8 322.1Z" fill="#ffa100" fill-rule="evenodd"/><path d="M517.9 320.8 522.4 321.6 526.9 321.6 531.5 320.9 545 318.1 552.2 317.2 561.6 316.6 587.2 315.9 612.8 316 612.8 269.8 611.3 270.5 602.7 276.4 596.2 279.6 586.3 282.9 557.1 289.8 549.5 291.9 523.9 303.1 520.9 305 518.4 307.4 516.4 310.2 515.3 312.3 514.4 315.6 514.5 317.2 515.2 318.9 517.3 320.5Z" fill="#ffd200" fill-rule="evenodd"/><path d="M519.4 319 522.4 319.9 526.9 320.1 531.5 319.5 545 317 563.1 315.7 587.2 315.1 612.8 315.1 612.8 273.1 605.3 278.3 597.7 281.9 588.9 284.5 558.6 291.1 554.1 292.3 549.5 293.8 540.5 298.1 526.9 303.6 523.9 305.4 521.5 307.4 520 309.1 518.1 312.3 517.3 315.6 517.7 317.2 519.2 318.9Z" fill="#fff600" fill-rule="evenodd"/><path d="M522.4 317.4 525.4 318.2 528.5 318.2 545 315.8 563.1 314.7 585.7 314.3 612.8 314.2 612.8 277 606 281.3 599.2 284 590.6 286.2 576.6 288.7 557.1 293.1 551 295.2 542.4 299.2 530.1 304.2 527 305.8 524.8 307.4 522.4 310.2 520.9 313.5 520.9 315.6 522.2 317.2Z" fill="#e5f822" fill-rule="evenodd"/><path d="M528.5 315.9 533 315.8 546.5 314.5 563.1 313.8 612.8 313.2 612.8 281.3 611.3 281.7 605.4 284.5 599.8 286.2 575.1 290.5 560.1 293.9 554.1 295.8 543.5 300.7 534.6 304.2 531.5 305.6 528.6 307.4 526.9 309 525.7 310.7 525.1 312.3 525.1 314 526.9 315.6 528.5 315.9Z" fill="#c7f15b" fill-rule="evenodd"/><path d="M531.5 312.6 534.5 313.3 537.5 313.4 563.1 312.7 600.8 312.6 612.8 312.2 612.8 284.8 608.3 286.4 603.8 287.5 578.2 291.4 558.7 296 554.4 297.6 546.5 301.4 536 305.8 533.2 307.4 531.5 309 530.5 310.7 531 312.3Z" fill="#b9efa3" fill-rule="evenodd"/><path d="M540.5 310.8 549.5 311.4 590.2 311.8 603.8 311.7 612.8 311 612.8 288.5 605.3 289.6 581.2 292.3 572.1 294.1 563.1 296.4 555.6 299.2 542.2 305.8 539.4 307.4 538.2 309.1 539.9 310.7Z" fill="#e9fce5" fill-rule="evenodd"/><path d="M576.6 310.7 588.7 311 599.2 310.9 606.8 310.4 612.8 309.5 612.8 292.7 611.3 292.1 609.8 292 593.2 292.4 579.7 293.9 572.1 295.6 564.9 297.6 560.5 299.2 557.2 300.9 550 305.8 548.9 307.4 551 308.8 557.1 309.6 576.4 310.7Z" fill="#e8f6fa" fill-rule="evenodd"/><path d="M570.6 309.1 584.2 310 596.2 310.1 606.8 309.2 612.8 307.5 612.8 296.3 608.3 294.9 603.8 294.2 594.7 293.9 584.2 294.7 575.1 296.4 566.1 299.2 562.4 300.9 560.1 302.4 558.6 304 558.1 305.8 560.1 307.3 561.6 307.7 570.4 309.1Z" fill="#cae3fd" fill-rule="evenodd"/><path d="M584.2 309.1 593.2 309.3 600.8 308.8 606.8 307.6 609.8 306.1 611.3 304.4 611.8 302.5 611.3 301.2 609.8 299.2 607.1 297.6 605.3 297 602.3 296.3 597.7 295.7 588.7 295.7 579.7 297 572.1 299.2 568.3 300.9 566.1 302.4 565 304.2 566.1 305.8 572.1 307.6 583.7 309.1Z" fill="#9ac7f9" fill-rule="evenodd"/><path d="M581.2 307.6 587.2 308.2 591.7 308.3 600.8 307.5 605.3 306 607.3 304.2 607.3 302.5 606.3 300.9 603.8 299.2 599.2 297.9 591.7 297.3 584.2 297.9 578.4 299.2 575.1 300.6 572.4 302.5 572.1 303.7 574.3 305.8 581.2 307.6Z" fill="#6ea5f0" fill-rule="evenodd"/><path d="M581.2 305.8 585.7 306.7 590.2 307.1 596.2 306.7 600.4 305.8 602.3 304.5 602.5 302.5 600.8 301 597.7 299.9 593.2 299.2 588.7 299.1 585.7 299.5 581.2 300.8 578.6 302.5 578.6 304.2 581.2 305.8Z" fill="#4481e5" fill-rule="evenodd"/><path d="M612.8 334.1 610.2 335.2 608.3 335.6 605.3 335.7 600.8 335.3 595.3 333.6 593.2 332 592.2 330.3 592.4 328.7 593.7 327.1 596.2 325.5 599.2 324.7 602.3 324.4 606.8 324.7 609.8 325.3 612.8 326.7M501.8 260 500.9 264.9 499.8 267.8 497.8 271.4 493.3 278 491.2 282.9 490.7 286.2 491.2 294.3 490.8 298.8 488.1 305.8 486.4 312.3 484.3 317.2 481.8 326.3 478.3 333.6 477.9 335.2 478 338.5M558.6 336.9 555.6 336.5 551.8 335.2 550.2 333.6 550.2 332 551 330.7 553.5 328.7 556.8 327.1 561.2 325.4 567.6 324.3 572.1 324.7 574.8 325.4 578.2 326.9 580.9 328.7 582.1 330.3 581.8 332 579.9 333.6 575.1 335.6 566.1 337 558.6 336.9M511.9 286.3 510.4 285.3 509.1 282.9 508.7 279.6 508.8 278 509.3 276.4 510.1 274.7 511.9 273.3 513.3 273.1 514.9 273.5 516.4 274.7 517.2 276.4 517.5 279.6 516.7 282.9 515.8 284.5 514.9 285.6 513.9 286.2 511.9 286.3M530 273.1 528.5 272 527.4 269.8 527 268.2 527.1 266.5 528.5 265.5 530 266.2 530.6 268.2 530.7 271.4 530 273.1M552.5 272 552.1 269.8 552.4 268.2 553.1 269.8 552.5 272" fill="none" stroke="#ffa159" stroke-width=".65" stroke-opacity=".92"/><path d="M544.2 338.5 539 336.1 531.5 333.7 534 332 537.5 331.1 549.5 326 556.7 323.8 563.1 322.5 567.6 322.1 571.7 322.1 585.7 323.7 588.7 323.6 600.8 322.2 606.8 322.2 612.8 322.9M597.5 338.5 590.2 338.1 584.4 338.5M532.1 260 533.4 264.9 533.6 269.8 533 274.7 531.6 278 530 279.1 526.9 278.9 525.4 279.4 523.9 280.9 519.5 287.8 516.4 290.8 513.4 292.2 507.4 292.9 505.9 293.3 504.3 294.3 503 296 499.8 302 498.3 305.7 497 312.3 494.7 318.9 494 322.1 493.9 327.1 494.7 335.2 494.5 338.5M554.4 260 555.4 261.6 556.5 264.9 556.9 268.2 556.8 271.4 555.6 276.1 554.3 278 552.5 278.9 551 278.2 549.8 276.4 549.1 274.7 548.5 271.4 548.3 268.2 548.6 264.9 549.5 261.9 550.7 260M581.7 260 581.7 261.6 581.3 263.3 579.7 264.6 578.2 264.4 577 263.3 576.4 261.6 576.3 260" fill="none" stroke="#ffa75a" stroke-width=".65" stroke-opacity=".92"/><path d="M528.8 338.5 520.9 337.5 513.4 337.1 510.4 337.4 508.2 338.5M537.5 260 535.8 274.7 534.9 278 533.3 281.3 531.9 282.9 526.9 285.9 522.8 291.1 521.1 292.7 517.9 294.9 511.9 298.1 508.9 300.4 507.4 302.1 505.1 305.8 504 309.1 502.5 315.6 501.8 320.5 502.6 325.4 504.3 328.7 505.9 330 508.9 330.8 510.4 330.7 531.5 327.5 537.5 326.3 551 322.5 563.1 320.6 569.1 320.3 584.2 320.7 600.8 320.2 612.8 320.4M560.4 260 560.4 271.4 559.5 276.4 557.6 279.6 555.9 281.3 554.1 282.5 552.5 282.9 551 282.7 548.8 281.3 547.3 279.6 545.6 276.4 544.6 271.4 543.8 260M585.3 260 584.7 263.3 582.7 266.5 581.2 267.5 579.7 267.9 578.2 267.8 576.6 267.2 575.1 265.7 573.8 263.3 572.8 260M601.9 260 599.2 265.8 597.7 267.4 596.2 267.4 594.7 265.4 594.1 263.3 593.6 260" fill="none" stroke="#ffad5c" stroke-width=".65" stroke-opacity=".92"/><path d="M612.8 261.1 608.3 263.9 603.8 266 600.3 269.8 598.2 271.4 596.2 271.9 594.7 271.5 590.2 268.8 588.7 269.1 582.7 272.9 579.7 273.7 576.6 273.4 575.1 272.6 572.7 269.8 570.7 266.5 569.3 264.9 567.6 264.3 566.7 264.9 566.1 265.7 565.8 268.2 566.7 276.4 566.4 278 565.6 279.6 564.1 281.3 561.8 282.9 554.1 286.2 551 286.6 546.5 286.2 542 286.6 537.5 287.8 534.5 289.3 525.4 295.9 516.5 300.9 513.4 303.5 511.9 305.3 509.7 309.1 508.1 314 507.6 317.2 508.1 320.5 508.9 322 510.4 323.6 513.4 325 516.4 325.5 519.4 325.6 530 324.8 548 320.6 560.1 319.1 572.1 318.6 612.8 318.4" fill="none" stroke="#ffc846" stroke-width=".65" stroke-opacity=".92"/><path d="M612.8 267.4 600.8 275.5 596.2 277.7 586.2 281.3 548.1 291.1 523.9 301.7 519.9 304.2 516.5 307.4 513.7 312.3 512.8 315.6 512.8 317.2 513.3 318.9 514.7 320.5 516.4 321.5 519.4 322.3 523.9 322.6 531.5 321.8 546.5 318.5 557.1 317.4 585.7 316.5 612.8 316.5" fill="none" stroke="#ece02e" stroke-width=".65" stroke-opacity=".92"/><path d="M612.8 275 605.3 280 597.7 283.2 590.2 285.2 575.1 288.2 555.6 292.7 549.5 294.8 540.5 299.1 530 303.2 525.4 305.6 523.1 307.4 521.6 309.1 519.6 312.3 519 314 518.9 315.6 519.4 316.9 520.9 318.2 522.4 318.9 526.9 319.2 530.9 318.9 543.5 316.6 557.1 315.5 584.2 314.7 612.8 314.7" fill="none" stroke="#9be023" stroke-width=".65" stroke-opacity=".92"/><path d="M612.8 283.3 606.8 285.7 602.3 286.9 576.7 291.1 562.2 294.3 557.1 295.8 533 306.4 529.4 309.1 528.5 310.5 528.1 312.3 529.6 314 533 314.4 563.1 313.1 602.3 313 612.8 312.6" fill="none" stroke="#56d864" stroke-width=".65" stroke-opacity=".92"/><path d="M612.8 291 599.2 291.5 588.7 292.3 579.7 293.5 572.1 295.1 563.1 297.6 558.9 299.2 550.2 304.2 545.6 307.4 546.3 309.1 548 309.4 560.1 310.4 582.7 311.2 594.7 311.3 605.3 310.9 612.8 310" fill="none" stroke="#38c0c7" stroke-width=".65" stroke-opacity=".92"/><path d="M612.8 302.1 612.4 300.9 609.8 298.3 608.6 297.6 605.3 296.4 599.2 295.5 590.2 295.3 581.2 296.4 575.8 297.6 570.7 299.2 567.6 300.6 564.6 302.5 563.6 304.2 564.4 305.8 569.1 307.4 581 309.1 593.2 309.5 600.7 309.1 608.3 307.5 611.2 305.8 612.6 304.2 612.8 303.2" fill="none" stroke="#378dec" stroke-width=".65" stroke-opacity=".92"/><path d="M581.2 306 588.7 307.2 596.2 306.9 600.8 305.9 603.1 304.2 603.1 302.5 601.2 300.9 596.2 299.3 591.7 298.9 586 299.2 580.3 300.9 578.2 302.4 577.9 304.2 581.2 306" fill="none" stroke="#2858d8" stroke-width=".65" stroke-opacity=".92"/></g>
<path d="M468.2 338.5h-2.2" stroke="#000" stroke-width="1"/><text x="462.3" y="341.4" font-size="11" text-anchor="end">1</text><path d="M468.2 312.3h-2.2" stroke="#000" stroke-width="1"/><text x="462.3" y="316.1" font-size="11" text-anchor="end">2</text><path d="M468.2 286.2h-2.2" stroke="#000" stroke-width="1"/><text x="462.3" y="290.8" font-size="11" text-anchor="end">3</text><path d="M468.2 260h-2.2" stroke="#000" stroke-width="1"/><text x="462.3" y="265.5" font-size="11" text-anchor="end">4</text><path d="M468.2 338.5v2.2" stroke="#000" stroke-width="1"/><text x="468.6" y="354.3" font-size="11" text-anchor="middle">0</text><path d="M492.3 338.5v2.2" stroke="#000" stroke-width="1"/><text x="492.7" y="354.3" font-size="11" text-anchor="middle">2</text><path d="M516.4 338.5v2.2" stroke="#000" stroke-width="1"/><text x="516.8" y="354.3" font-size="11" text-anchor="middle">4</text><path d="M540.5 338.5v2.2" stroke="#000" stroke-width="1"/><text x="540.9" y="354.3" font-size="11" text-anchor="middle">6</text><path d="M564.6 338.5v2.2" stroke="#000" stroke-width="1"/><text x="565" y="354.3" font-size="11" text-anchor="middle">8</text><path d="M588.7 338.5v2.2" stroke="#000" stroke-width="1"/><text x="589.1" y="354.3" font-size="11" text-anchor="middle">10</text><path d="M612.8 338.5v2.2" stroke="#000" stroke-width="1"/><text x="613.2" y="354.3" font-size="11" text-anchor="middle">12</text><path d="M468.2 260V338.5H612.8" stroke="#000" stroke-width="1.2" fill="none"/><text x="472.7" y="277" font-size="13.2" fill="#fff">-1.1 V</text><text transform="translate(449.7 295.8) rotate(-90)" font-size="11.2" text-anchor="middle" font-weight="bold"><tspan font-style="italic">R</tspan><tspan font-size="7.5" dy="-3.8">+</tspan><tspan dy="3.8" font-style="italic"> α</tspan>(Å)</text>
<defs><linearGradient id="cb2" x1="0" y1="0" x2="0" y2="1"><stop offset="0%" stop-color="#387cdc"/><stop offset="10%" stop-color="#9cc8f8"/><stop offset="20%" stop-color="#f0f8ff"/><stop offset="30%" stop-color="#ffffe8"/><stop offset="38%" stop-color="#ffff50"/><stop offset="44%" stop-color="#ffe000"/><stop offset="54%" stop-color="#ff8000"/><stop offset="66%" stop-color="#e61000"/><stop offset="80%" stop-color="#800000"/><stop offset="94%" stop-color="#180000"/><stop offset="100%" stop-color="#000000"/></linearGradient></defs><rect x="615" y="259.2" width="5.6" height="79.6" fill="url(#cb2)"/>
<path d="M620.6 285.4h2" stroke="#000" stroke-width=".9"/>
<text x="624.6" y="289.6" font-size="11" textLength="10.8" lengthAdjust="spacingAndGlyphs">2.0</text>
<path d="M620.6 312.2h2" stroke="#000" stroke-width=".9"/>
<text x="624.6" y="316.4" font-size="11" textLength="10.8" lengthAdjust="spacingAndGlyphs">1.0</text>
<path d="M620.6 339.8h2" stroke="#000" stroke-width=".9"/>
<text x="624.6" y="344" font-size="11" textLength="10.8" lengthAdjust="spacingAndGlyphs">0.0</text>
<text x="4.3" y="210" font-size="26">d</text>
<text x="41.2" y="217" font-size="11.4">Cu K-edge</text>
<path d="M37.8 233H162.7" stroke="#6cc5c0" stroke-width=".7" stroke-dasharray="2.2 1.8" fill="none"/>
<path d="M37.8 236.4H159.6" stroke="#f5b777" stroke-width=".7" stroke-dasharray="2.2 1.8" fill="none"/>
<path d="M37.8 272.1H115.8" stroke="#b98aeb" stroke-width=".7" stroke-dasharray="2.2 1.8" fill="none"/>
<path d="M37.8 313.5H63" stroke="#ee7db6" stroke-width=".7" stroke-dasharray="2.2 1.8" fill="none"/>
<path d="M51.7 323.1L190.9 212" stroke="#e3369a" stroke-width="2.1" stroke-dasharray="6.5 3.6" fill="none"/>
<defs>
<radialGradient id="dg0" cx=".35" cy=".3" r=".75"><stop offset="0" stop-color="#ff7ac3"/><stop offset="1" stop-color="#e0157e"/></radialGradient>
<radialGradient id="dg1" cx=".35" cy=".3" r=".75"><stop offset="0" stop-color="#b679ff"/><stop offset="1" stop-color="#7a1fd6"/></radialGradient>
<radialGradient id="dg2" cx=".35" cy=".3" r=".75"><stop offset="0" stop-color="#ffc07a"/><stop offset="1" stop-color="#ee7d12"/></radialGradient>
<radialGradient id="dg3" cx=".35" cy=".3" r=".75"><stop offset="0" stop-color="#6fd6d0"/><stop offset="1" stop-color="#0e8f8a"/></radialGradient>
<radialGradient id="dg4" cx=".35" cy=".3" r=".75"><stop offset="0" stop-color="#777"/><stop offset="1" stop-color="#000"/></radialGradient>
</defs>
<circle cx="52.3" cy="328.8" r="1.7" fill="url(#dg4)"/>
<circle cx="104.4" cy="272.1" r="1.9" fill="url(#dg4)"/>
<circle cx="189.7" cy="215.4" r="1.9" fill="url(#dg4)"/>
<circle cx="63" cy="314.6" r="3.4" fill="url(#dg0)"/>
<circle cx="116.1" cy="272.1" r="3.4" fill="url(#dg1)"/>
<circle cx="162.7" cy="233" r="3.0" fill="url(#dg3)"/>
<circle cx="159" cy="236.4" r="3.0" fill="url(#dg2)"/>
<text x="61" y="337.5" font-size="8.7">Cu foil</text>
<text x="71.5" y="319" font-size="8.7">-1.1 V</text>
<text x="82.5" y="269" font-size="8.7">Cu<tspan font-size="6" dy="1.8">2</tspan><tspan dy="-1.8">O</tspan></text>
<text x="119.4" y="278" font-size="8.7">-0.9 V</text>
<text x="125.2" y="225.2" font-size="8.7">Open circuit</text>
<text x="161.5" y="243.5" font-size="8.7">Ex-situ</text>
<text x="183" y="223.8" font-size="8.7">CuO</text>
<rect x="36.8" y="204.6" width="168.9" height="134.9" fill="none" stroke="#000" stroke-width="1.5"/>
<path d="M52.3 339.5v2.6" stroke="#000" stroke-width="1"/>
<text x="52.3" y="353.4" font-size="11" text-anchor="middle">8979</text>
<path d="M83 339.5v2.6" stroke="#000" stroke-width="1"/>
<text x="83" y="353.4" font-size="11" text-anchor="middle">8980</text>
<path d="M113.6 339.5v2.6" stroke="#000" stroke-width="1"/>
<text x="113.6" y="353.4" font-size="11" text-anchor="middle">8981</text>
<path d="M144.3 339.5v2.6" stroke="#000" stroke-width="1"/>
<text x="144.3" y="353.4" font-size="11" text-anchor="middle">8982</text>
<path d="M174.9 339.5v2.6" stroke="#000" stroke-width="1"/>
<text x="174.9" y="353.4" font-size="11" text-anchor="middle">8983</text>
<path d="M205.6 339.5v2.6" stroke="#000" stroke-width="1"/>
<text x="205.6" y="353.4" font-size="11" text-anchor="middle">8984</text>
<path d="M36.8 328.8h-2.6" stroke="#000" stroke-width="1"/>
<text x="32.2" y="332.4" font-size="11" text-anchor="end">0.0</text>
<path d="M36.8 306.1h-2.6" stroke="#000" stroke-width="1"/>
<text x="32.2" y="309.7" font-size="11" text-anchor="end">0.4</text>
<path d="M36.8 283.4h-2.6" stroke="#000" stroke-width="1"/>
<text x="32.2" y="287" font-size="11" text-anchor="end">0.8</text>
<path d="M36.8 260.8h-2.6" stroke="#000" stroke-width="1"/>
<text x="32.2" y="264.4" font-size="11" text-anchor="end">1.2</text>
<path d="M36.8 238.1h-2.6" stroke="#000" stroke-width="1"/>
<text x="32.2" y="241.7" font-size="11" text-anchor="end">1.6</text>
<path d="M36.8 215.4h-2.6" stroke="#000" stroke-width="1"/>
<text x="32.2" y="219" font-size="11" text-anchor="end">2.0</text>
<text x="121.7" y="372.1" font-size="12.2" text-anchor="middle" font-weight="bold">Energy (eV)</text>
<text transform="translate(10.1 272) rotate(-90)" font-size="12.2" text-anchor="middle" font-weight="bold">Bonding state</text>
<text x="216.8" y="210.5" font-size="26.5">e</text>
<path d="M239.8 225.3 240.5 225.4 241.1 225.5 241.8 226.1 242.4 226.9 243.1 228.1 243.7 229 244.4 229.9 245 230.5 245.7 230.9 246.3 231.1 247 231 247.6 230.8 248.3 229.7 248.9 228.2 249.6 226.7 250.2 225.9 250.9 226.7 251.5 228.2 252.2 230.3 252.8 232.2 253.5 234.3 254.1 235.5 254.8 235.4 255.4 234.1 256.1 232.5 256.7 230.9 257.4 229.5 258 228.5 258.7 228.1 259.3 228.2 260 228.2 260.6 228.3 261.3 228.4 261.9 228.8 262.6 229.3 263.2 229.9 263.9 230.7 264.5 231.1 265.2 231.2 265.8 230.9 266.5 230.3 267.1 229.4 267.8 228 268.4 226.4 269.1 224.5 269.7 222.3 270.4 219.6 271 216.9 271.7 214.1 272.3 211.9 273 210.2 273.6 209.7 274.3 210.5 274.9 211.9 275.6 213.6 276.2 214.5 276.9 215 277.5 214.9 278.2 215.7 278.8 217 279.5 219.2 280.1 222.2 280.8 225.4 281.4 229.1 282.1 232.4 282.7 235.6 283.4 238.4 284 240.8 284.7 242.7 285.3 244.5 286 246.1 286.6 248 287.3 249.2 287.9 250 288.6 250.3 289.2 250.6 289.9 251 290.5 252 291.2 252.8 291.8 253.8 292.5 253.9 293.1 253.6 293.8 252.9 294.4 252.5 295.1 252.7 295.7 253.1 296.4 253.2 297 253.4 297.7 253.3 298.3 253.3 299 253 299.6 253 300.3 253.1 300.9 253.4 301.6 253.7 302.2 253.8 302.9 253.9 303.5 254.2 304.2 254.6 304.8 254.8 305.5 254.9 306.1 255.2 306.8 255.8 307.4 255.9 308.1 255.7 308.7 255 309.4 254.3 310 253.3 310.7 251.9 311.3 250.4 312 249.2 312.6 248.9 313.3 249.2 313.9 250.5 314.6 252 315.2 252.3 315.9 249.9 316.5 246.5 317.2 242.8 317.8 240.2 318.5 238.6 319.1 238.7 319.8 238.9 320.4 238.2 321.1 237.2 321.7 236.2 322.4 235.5 323 235.1 323.7 234.8 324.3 234.9 325 234.8 325.6 234.5 326.3 234 326.9 233.5 327.6 233.1 328.2 232.7 328.9 232.2 329.5 231.6 330.2 230.9 330.8 230.5 331.5 230.2 332.1 229.9 332.8 229.4 333.4 229 334.1 228.5 334.7 228.2 335.4 227.9 336 227.6 336.7 227.3 337.3 227.1 338 226.8 338.6 226.7 339.3 226.5 339.9 226.5 340.6 226.4 341.2 226.3 341.9 226.2 342.5 226.3 343.2 226.2 343.8 226.2 344.5 226 345.1 225.9 345.8 226.2 346.4 226.2 347.1 226.2 347.7 226 348.4 225.8 349 226 349.7 226 350.3 226 351 225.9 351.6 225.7 352.3 225.8 352.9 225.6 353.6 225.5 354.2 225.5 354.9 225.9 355.5 226.1 356.2 226.3 356.8 226.3 357.5 226.2 358.1 225.9 358.8 225.6 359.4 225.6 360.1 225.5 360.7 225.8 361.4 226 362 226.1 362.7 226 363.3 225.7 364 225.8 364.6 225.9 365.3 226.2 365.9 226.1 366.6 226.3 367.2 226.4 367.9 226.5 368.5 226.2 369.2 226 369.8 226 370.5 226.1 371.1 226.2 371.8 226.3 372.4 226.4 373.1 226.5 373.7 226.4 374.4 226.3 375 226.1 375.7 226 376.3 226.2 377 226.2 377.6 226.4 378.3 226.2 378.9 226.2 379.6 226.1 380.2 226.2 380.9 226.2 381.5 226 382.2 225.9 382.8 225.9 383.5 225.8 384.1 226 384.8 226 385.4 226.3 386.1 225.8 386.7 225.8 387.4 225.7 388 225.9 388.7 226 389.3 226.1 390 226.1 390.6 226 391.3 226.2 391.9 226.3 392.6 226.3 393.2 225.9 393.9 225.9 394.5 225.7 395.2 225.8 395.8 226 396.5 226.3 397.1 226.4 397.8 226.3 398.4 226.3 399.1 226.3 399.7 226.4 400.4 226.3 401 226.2 401.7 226.1 402.3 225.7 403 225.7 403.6 225.7 404.3 226.3 404.9 227 405.6 227.6 406.2 228.5 406.9 229.6 407.5 230.5 408.2 231" fill="none" stroke="#cc0a5e" stroke-width="1.6" stroke-linejoin="round"/>
<path d="M239.8 242.4 240.5 242.6 241.1 243.1 241.8 243.6 242.4 244.7 243.1 245.3 243.7 246.2 244.4 246.8 245 247.5 245.7 248 246.3 248 247 248.1 247.6 247.4 248.3 246.7 248.9 245.3 249.6 244.1 250.2 243.3 250.9 243.9 251.5 245.2 252.2 247.3 252.8 249.3 253.5 251.1 254.1 251.9 254.8 252.1 255.4 251.3 256.1 249.9 256.7 248 257.4 246.5 258 245.8 258.7 245.6 259.3 245.2 260 245.1 260.6 245 261.3 245.4 261.9 245.8 262.6 246.5 263.2 247 263.9 247.8 264.5 248.1 265.2 248.1 265.8 247.5 266.5 246.7 267.1 246 267.8 244.6 268.4 242.8 269.1 240.5 269.7 238.2 270.4 235.5 271 232.8 271.7 229.7 272.3 227.1 273 224.9 273.6 224.2 274.3 224.8 274.9 226.2 275.6 228 276.2 229.3 276.9 230.4 277.5 230.7 278.2 231.9 278.8 233.3 279.5 235.8 280.1 238.7 280.8 242 281.4 245.2 282.1 248.5 282.7 251.9 283.4 254.7 284 256.9 284.7 258.7 285.3 260.3 286 261.9 286.6 263.5 287.3 264.8 287.9 265.1 288.6 265.3 289.2 265.6 289.9 266.5 290.5 267.3 291.2 268.3 291.8 268.7 292.5 269.1 293.1 268.9 293.8 268.7 294.4 268 295.1 267.9 295.7 267.9 296.4 268.7 297 268.9 297.7 269 298.3 268.7 299 268.5 299.6 268.6 300.3 268.7 300.9 268.9 301.6 268.8 302.2 268.8 302.9 268.8 303.5 269.2 304.2 269.6 304.8 270.1 305.5 270.3 306.1 270.6 306.8 270.7 307.4 270.8 308.1 270.8 308.7 270.3 309.4 269.8 310 268.7 310.7 267.6 311.3 266.1 312 265.2 312.6 264.5 313.3 264.9 313.9 265.8 314.6 267.4 315.2 267.6 315.9 265.5 316.5 262.1 317.2 258.5 317.8 256.1 318.5 254.8 319.1 255.1 319.8 255.1 320.4 254.4 321.1 253.2 321.7 252.5 322.4 252.1 323 251.7 323.7 251.5 324.3 251.3 325 250.8 325.6 250.5 326.3 250.2 326.9 250.3 327.6 250.2 328.2 249.9 328.9 249.4 329.5 248.6 330.2 248 330.8 247.6 331.5 247.4 332.1 246.9 332.8 246.4 333.4 245.9 334.1 245.8 334.7 245.5 335.4 245.1 336 244.5 336.7 244.2 337.3 244 338 244 338.6 244 339.3 244.1 339.9 244 340.6 243.8 341.2 243.7 341.9 243.4 342.5 243.4 343.2 243.5 343.8 243.5 344.5 243.3 345.1 243.1 345.8 243 346.4 243 347.1 242.9 347.7 243.1 348.4 243.4 349 243.4 349.7 243.4 350.3 243.4 351 243.3 351.6 243.1 352.3 243 352.9 243.1 353.6 243 354.2 242.9 354.9 243 355.5 243.4 356.2 243.6 356.8 243.5 357.5 243.6 358.1 243.4 358.8 243.3 359.4 243.2 360.1 243.1 360.7 243.3 361.4 243.2 362 243.4 362.7 243.4 363.3 243.4 364 243.4 364.6 243.4 365.3 243.4 365.9 243.4 366.6 243.4 367.2 243.4 367.9 243.2 368.5 243 369.2 243 369.8 243.3 370.5 243.4 371.1 243.4 371.8 243.1 372.4 243.1 373.1 243.3 373.7 243.5 374.4 243.5 375 243.3 375.7 243.1 376.3 243.1 377 243 377.6 243 378.3 243.1 378.9 243.2 379.6 243.4 380.2 243.3 380.9 243.1 381.5 243 382.2 242.9 382.8 243.2 383.5 243.2 384.1 243.4 384.8 243.3 385.4 243 386.1 243 386.7 243.2 387.4 243.2 388 243.1 388.7 243.1 389.3 243.2 390 243.3 390.6 243.2 391.3 243.2 391.9 243.1 392.6 243.2 393.2 243.2 393.9 243.2 394.5 242.9 395.2 243.2 395.8 243 396.5 243.3 397.1 243.1 397.8 243.2 398.4 243.3 399.1 243.2 399.7 243.2 400.4 243.1 401 243 401.7 242.9 402.3 242.8 403 242.8 403.6 243.1 404.3 243.6 404.9 244.4 405.6 245.1 406.2 245.8 406.9 246.2 407.5 246.7 408.2 247.2" fill="none" stroke="#e463a4" stroke-width="1.3" stroke-linejoin="round"/>
<path d="M239.8 257 240.5 257.1 241.1 257.6 241.8 258 242.4 258.7 243.1 259.4 243.7 260.7 244.4 261.6 245 262.1 245.7 262.3 246.3 262.5 247 262.7 247.6 262.2 248.3 261.4 248.9 260.4 249.6 259.7 250.2 259.6 250.9 260.4 251.5 261.5 252.2 262.9 252.8 264.3 253.5 265.7 254.1 266.7 254.8 266.9 255.4 266.2 256.1 265.2 256.7 264 257.4 262.9 258 262 258.7 261.6 259.3 261.5 260 261.6 260.6 262.1 261.3 262.7 261.9 263.3 262.6 263.6 263.2 263.9 263.9 264.2 264.5 264.7 265.2 264.6 265.8 264.4 266.5 263.6 267.1 262.8 267.8 261.2 268.4 259.3 269.1 256.9 269.7 254.3 270.4 251.4 271 248.2 271.7 244.8 272.3 241.8 273 239.9 273.6 239.3 274.3 239.8 274.9 241 275.6 242.5 276.2 244.2 276.9 245.8 277.5 247.1 278.2 248.5 278.8 250.5 279.5 253.3 280.1 256.3 280.8 259.6 281.4 262.6 282.1 265.8 282.7 268.5 283.4 271.1 284 273.3 284.7 274.8 285.3 276.1 286 277.2 286.6 278.3 287.3 279.2 287.9 279.5 288.6 280.1 289.2 280.5 289.9 281.1 290.5 281.6 291.2 282.3 291.8 282.9 292.5 283.1 293.1 282.7 293.8 282 294.4 281.7 295.1 281.8 295.7 282.4 296.4 282.8 297 282.8 297.7 282.8 298.3 282.6 299 282.4 299.6 282.2 300.3 282.4 300.9 282.7 301.6 283 302.2 283.1 302.9 283.2 303.5 283.5 304.2 283.5 304.8 283.6 305.5 283.6 306.1 283.8 306.8 284.1 307.4 284.4 308.1 284.2 308.7 283.8 309.4 283.1 310 282.5 310.7 281.3 311.3 280.4 312 279.4 312.6 279.1 313.3 279.2 313.9 280.4 314.6 281.6 315.2 281.7 315.9 279.8 316.5 277.1 317.2 274.6 317.8 272.8 318.5 271.7 319.1 271.7 319.8 271.6 320.4 271.1 321.1 270.1 321.7 269.5 322.4 269.2 323 268.9 323.7 268.8 324.3 268.7 325 268.8 325.6 268.5 326.3 268.4 326.9 268.1 327.6 267.7 328.2 267.2 328.9 266.7 329.5 266.6 330.2 265.9 330.8 265.8 331.5 265.2 332.1 265.1 332.8 264.8 333.4 264.6 334.1 264.2 334.7 263.9 335.4 263.4 336 263.3 336.7 263 337.3 263.1 338 263.1 338.6 263.3 339.3 263.2 339.9 263.1 340.6 262.6 341.2 262.7 341.9 262.4 342.5 262.5 343.2 262.2 343.8 262.2 344.5 261.8 345.1 261.9 345.8 262.1 346.4 262.2 347.1 262.3 347.7 262.3 348.4 262.3 349 261.9 349.7 262 350.3 262.1 351 262.3 351.6 262 352.3 261.7 352.9 261.9 353.6 262.1 354.2 262.2 354.9 261.9 355.5 262 356.2 262.1 356.8 262.1 357.5 261.8 358.1 261.9 358.8 262.1 359.4 262.3 360.1 262.4 360.7 262.3 361.4 262.4 362 262.3 362.7 262.3 363.3 262.4 364 262.4 364.6 262.4 365.3 262.3 365.9 262.2 366.6 262.3 367.2 262.4 367.9 262.4 368.5 262.2 369.2 262.2 369.8 262.3 370.5 262.3 371.1 262.5 371.8 262.4 372.4 262.5 373.1 262.1 373.7 262.2 374.4 262.1 375 262.2 375.7 262.1 376.3 262.1 377 262.1 377.6 261.9 378.3 262 378.9 262.1 379.6 262.3 380.2 262.4 380.9 262.2 381.5 262.2 382.2 262.1 382.8 262.3 383.5 262.3 384.1 262.2 384.8 261.8 385.4 262 386.1 262 386.7 262.1 387.4 262 388 262 388.7 262.2 389.3 262.3 390 262.3 390.6 262.3 391.3 262 391.9 262 392.6 261.9 393.2 262.1 393.9 262.1 394.5 262.2 395.2 262 395.8 262 396.5 261.8 397.1 262 397.8 262.2 398.4 262.4 399.1 262.2 399.7 262.1 400.4 262 401 261.9 401.7 261.8 402.3 261.8 403 262.1 403.6 262.4 404.3 262.7 404.9 263.1 405.6 263.7 406.2 264.2 406.9 264.7 407.5 265.1 408.2 265.5" fill="none" stroke="#f3a24a" stroke-width="1.3" stroke-linejoin="round"/>
<path d="M239.8 278 240.5 278.1 241.1 278.6 241.8 278.9 242.4 279.7 243.1 280.5 243.7 281.4 244.4 282.2 245 283 245.7 283.2 246.3 283.4 247 283.2 247.6 282.6 248.3 281.7 248.9 280.4 249.6 279.3 250.2 278.8 250.9 279.1 251.5 280.6 252.2 282.4 252.8 284.4 253.5 285.9 254.1 286.8 254.8 287 255.4 286 256.1 284.9 256.7 283.2 257.4 281.7 258 280.6 258.7 280.3 259.3 280.2 260 280.5 260.6 280.7 261.3 281.1 261.9 281.6 262.6 281.9 263.2 282.4 263.9 282.7 264.5 282.9 265.2 283 265.8 282.8 266.5 281.8 267.1 280.3 267.8 278.7 268.4 277.1 269.1 274.9 269.7 272.2 270.4 269 271 265.9 271.7 262.5 272.3 259.8 273 257.6 273.6 256.9 274.3 257.4 274.9 258.9 275.6 260.8 276.2 262.5 276.9 263.6 277.5 264.6 278.2 265.8 278.8 267.8 279.5 270.2 280.1 273.3 280.8 276.7 281.4 280.2 282.1 283.6 282.7 286.9 283.4 289.5 284 291.8 284.7 293.3 285.3 295 286 296.4 286.6 298.2 287.3 299.3 287.9 300 288.6 300.1 289.2 300.4 289.9 300.8 290.5 301.9 291.2 303 291.8 303.9 292.5 303.9 293.1 303.8 293.8 302.9 294.4 302.4 295.1 302.1 295.7 302.7 296.4 303.6 297 303.8 297.7 303.7 298.3 303.6 299 303.3 299.6 303.1 300.3 302.8 300.9 303.1 301.6 303.5 302.2 303.9 302.9 304.1 303.5 304.3 304.2 304.4 304.8 304.7 305.5 304.7 306.1 305 306.8 305.1 307.4 305.2 308.1 305.2 308.7 305 309.4 304.5 310 303.3 310.7 301.8 311.3 300.6 312 299.6 312.6 299.3 313.3 299.5 313.9 300.6 314.6 302.1 315.2 302.2 315.9 300 316.5 297 317.2 293.8 317.8 291.6 318.5 290.2 319.1 290.5 319.8 290.7 320.4 290.1 321.1 288.9 321.7 287.9 322.4 287.2 323 287 323.7 286.9 324.3 286.6 325 286 325.6 285.8 326.3 285.6 326.9 285.6 327.6 285.4 328.2 285 328.9 284.5 329.5 284 330.2 283.4 330.8 283.2 331.5 282.6 332.1 282.2 332.8 281.7 333.4 281.3 334.1 280.7 334.7 280.4 335.4 279.8 336 279.8 336.7 279.7 337.3 280 338 279.8 338.6 279.5 339.3 278.9 339.9 279 340.6 278.9 341.2 279.1 341.9 278.5 342.5 278.7 343.2 278.6 343.8 278.9 344.5 278.9 345.1 278.7 345.8 278.5 346.4 278.6 347.1 278.7 347.7 278.8 348.4 278.7 349 278.5 349.7 278.6 350.3 278.7 351 278.7 351.6 278.6 352.3 278.6 352.9 278.6 353.6 278.8 354.2 278.9 354.9 278.9 355.5 278.8 356.2 278.8 356.8 278.7 357.5 278.7 358.1 278.5 358.8 278.6 359.4 278.7 360.1 278.6 360.7 278.5 361.4 278.3 362 278.3 362.7 278.6 363.3 278.8 364 278.8 364.6 278.7 365.3 278.8 365.9 278.9 366.6 278.9 367.2 278.7 367.9 278.8 368.5 278.8 369.2 278.8 369.8 278.6 370.5 278.6 371.1 278.7 371.8 278.5 372.4 278.8 373.1 278.6 373.7 278.7 374.4 278.6 375 278.4 375.7 278.6 376.3 278.6 377 278.8 377.6 278.7 378.3 278.7 378.9 278.6 379.6 278.7 380.2 278.6 380.9 278.9 381.5 278.8 382.2 278.7 382.8 278.7 383.5 278.4 384.1 278.4 384.8 278 385.4 278.1 386.1 278.4 386.7 278.6 387.4 279 388 278.7 388.7 278.7 389.3 278.5 390 278.5 390.6 278.4 391.3 278.5 391.9 278.7 392.6 278.7 393.2 278.7 393.9 278.5 394.5 278.6 395.2 278.4 395.8 278.6 396.5 278.5 397.1 278.6 397.8 278.5 398.4 278.7 399.1 278.7 399.7 278.7 400.4 278.6 401 278.5 401.7 278.6 402.3 278.6 403 278.8 403.6 279.1 404.3 279.4 404.9 279.7 405.6 280.4 406.2 281.3 406.9 282.2 407.5 282.5 408.2 282.7" fill="none" stroke="#b471e6" stroke-width="1.3" stroke-linejoin="round"/>
<path d="M239.8 298.7 240.5 297.6 241.1 297.4 241.8 297 242.4 297.2 243.1 297.5 243.7 298.2 244.4 298.7 245 299.3 245.7 299.9 246.3 300.5 247 300.9 247.6 301 248.3 300.9 248.9 300.5 249.6 299.8 250.2 299.2 250.9 298.8 251.5 299 252.2 299.1 252.8 299.6 253.5 299.6 254.1 299.9 254.8 299.9 255.4 300.2 256.1 300.2 256.7 300.1 257.4 299.7 258 299.6 258.7 299.5 259.3 299.5 260 299.2 260.6 299 261.3 299 261.9 299.4 262.6 299.6 263.2 299.7 263.9 299.4 264.5 299.6 265.2 299.5 265.8 299.4 266.5 298.9 267.1 298.6 267.8 298.1 268.4 297.7 269.1 296.7 269.7 295.6 270.4 294.1 271 292.7 271.7 291.2 272.3 289.9 273 289 273.6 288.7 274.3 288.8 274.9 289.3 275.6 290.1 276.2 291 276.9 292.2 277.5 293.3 278.2 294.6 278.8 295.8 279.5 296.9 280.1 297.8 280.8 298.8 281.4 299.7 282.1 300.6 282.7 301.3 283.4 301.9 284 302.8 284.7 303.4 285.3 304.1 286 304.7 286.6 305.4 287.3 305.8 287.9 306 288.6 306.2 289.2 306.6 289.9 307 290.5 307.3 291.2 307.6 291.8 307.6 292.5 307.7 293.1 307.6 293.8 307.7 294.4 307.8 295.1 307.9 295.7 308 296.4 308 297 308 297.7 307.7 298.3 307.7 299 307.7 299.6 307.8 300.3 307.8 300.9 307.8 301.6 307.9 302.2 308 302.9 308.2 303.5 308.4 304.2 308.5 304.8 308.7 305.5 308.8 306.1 309 306.8 309.1 307.4 309.3 308.1 309.1 308.7 308.9 309.4 308.7 310 308.5 310.7 308 311.3 307.5 312 306.8 312.6 306.8 313.3 306.9 313.9 307.3 314.6 307.5 315.2 307.6 315.9 307.7 316.5 307.2 317.2 306.6 317.8 305.5 318.5 304.5 319.1 303.7 319.8 303.3 320.4 303.1 321.1 303 321.7 302.6 322.4 302.4 323 302.4 323.7 302.7 324.3 302.8 325 302.9 325.6 302.7 326.3 302.7 326.9 302.7 327.6 302.6 328.2 302.3 328.9 301.9 329.5 302 330.2 302 330.8 302 331.5 301.6 332.1 301.5 332.8 301.5 333.4 301.4 334.1 301.1 334.7 301 335.4 300.9 336 300.9 336.7 300.9 337.3 300.7 338 300.4 338.6 300.2 339.3 300.3 339.9 300.2 340.6 300.1 341.2 300 341.9 300.1 342.5 300 343.2 300 343.8 300.1 344.5 300.2 345.1 300.2 345.8 300.1 346.4 300 347.1 299.9 347.7 299.9 348.4 300 349 300.1 349.7 300 350.3 300 351 300 351.6 299.8 352.3 299.8 352.9 299.7 353.6 299.9 354.2 299.8 354.9 299.9 355.5 299.8 356.2 299.9 356.8 299.9 357.5 299.9 358.1 299.9 358.8 299.8 359.4 299.9 360.1 299.9 360.7 299.9 361.4 299.8 362 299.7 362.7 299.7 363.3 299.8 364 299.8 364.6 299.9 365.3 299.8 365.9 299.9 366.6 299.8 367.2 299.8 367.9 299.7 368.5 299.5 369.2 299.7 369.8 299.8 370.5 300 371.1 300.1 371.8 300 372.4 299.8 373.1 299.9 373.7 300 374.4 300.2 375 300 375.7 300 376.3 299.7 377 299.8 377.6 300 378.3 300 378.9 300.1 379.6 300.1 380.2 300.3 380.9 300.2 381.5 300.2 382.2 300.3 382.8 300.3 383.5 300.4 384.1 300.3 384.8 300.5 385.4 300.6 386.1 300.3 386.7 300.2 387.4 300 388 300.2 388.7 300.3 389.3 300.4 390 300.4 390.6 300.5 391.3 300.3 391.9 300.5 392.6 300.4 393.2 300.4 393.9 300.1 394.5 300 395.2 300 395.8 300.2 396.5 300.4 397.1 300.5 397.8 300.4 398.4 300 399.1 299.9 399.7 299.8 400.4 299.9 401 299.8 401.7 300 402.3 299.9 403 299.9 403.6 299.9 404.3 300.2 404.9 300.5 405.6 300.9 406.2 301.3 406.9 301.8 407.5 302 408.2 302.4" fill="none" stroke="#5b9ff0" stroke-width="1.3" stroke-linejoin="round"/>
<path d="M239.8 316.6 240.5 316.1 241.1 316 241.8 315.7 242.4 315.7 243.1 315.6 243.7 315.9 244.4 316.1 245 316.4 245.7 316.7 246.3 317.2 247 317.7 247.6 317.8 248.3 317.9 248.9 318.1 249.6 318.5 250.2 318.7 250.9 318.9 251.5 318.9 252.2 318.8 252.8 318.6 253.5 318.2 254.1 317.9 254.8 317.4 255.4 317.2 256.1 317 256.7 316.7 257.4 316.5 258 316.4 258.7 316.5 259.3 316.4 260 316.5 260.6 316.5 261.3 316.5 261.9 316.3 262.6 316.2 263.2 316.3 263.9 316.3 264.5 316.4 265.2 316.2 265.8 316.1 266.5 316 267.1 315.5 267.8 315 268.4 314.1 269.1 313.3 269.7 312.2 270.4 311.1 271 310.1 271.7 309.5 272.3 308.8 273 308.3 273.6 308.1 274.3 308.4 274.9 308.6 275.6 309.1 276.2 309.8 276.9 310.9 277.5 311.8 278.2 312.6 278.8 313.3 279.5 314 280.1 314.5 280.8 315 281.4 315.3 282.1 315.6 282.7 316 283.4 316.3 284 316.5 284.7 316.5 285.3 316.7 286 316.5 286.6 316.5 287.3 316.5 287.9 316.7 288.6 316.9 289.2 317 289.9 317.1 290.5 317.2 291.2 317.1 291.8 317.1 292.5 317.1 293.1 317.2 293.8 317.4 294.4 317.4 295.1 317.7 295.7 317.7 296.4 317.8 297 317.7 297.7 317.7 298.3 317.7 299 317.8 299.6 318 300.3 318 300.9 318 301.6 318 302.2 318.1 302.9 318.2 303.5 318.2 304.2 318.1 304.8 318.1 305.5 318.2 306.1 318.2 306.8 318.2 307.4 318.3 308.1 318.3 308.7 318.3 309.4 318.3 310 318.4 310.7 318.5 311.3 318.5 312 318.4 312.6 318.3 313.3 318.3 313.9 318.3 314.6 318.1 315.2 318.1 315.9 318.1 316.5 318.2 317.2 318.1 317.8 318.1 318.5 317.8 319.1 317.7 319.8 317.4 320.4 317.5 321.1 317.7 321.7 318.1 322.4 318 323 317.9 323.7 317.8 324.3 317.8 325 317.6 325.6 317.6 326.3 317.5 326.9 317.7 327.6 317.7 328.2 317.7 328.9 317.8 329.5 317.8 330.2 317.7 330.8 317.6 331.5 317.5 332.1 317.5 332.8 317.7 333.4 317.6 334.1 317.6 334.7 317.5 335.4 317.4 336 317.5 336.7 317.5 337.3 317.5 338 317.6 338.6 317.5 339.3 317.5 339.9 317.3 340.6 317.6 341.2 317.5 341.9 317.6 342.5 317.5 343.2 317.5 343.8 317.4 344.5 317.1 345.1 317.1 345.8 317.3 346.4 317.4 347.1 317.4 347.7 317.3 348.4 317.3 349 317.3 349.7 317.3 350.3 317.5 351 317.4 351.6 317.5 352.3 317.4 352.9 317.5 353.6 317.4 354.2 317.3 354.9 317.3 355.5 317 356.2 317 356.8 316.8 357.5 317 358.1 317 358.8 317 359.4 317.1 360.1 317.1 360.7 317.2 361.4 317 362 317 362.7 316.8 363.3 317 364 317 364.6 317.2 365.3 317.2 365.9 317.4 366.6 317.4 367.2 317.5 367.9 317.3 368.5 317.2 369.2 317.2 369.8 317.5 370.5 317.7 371.1 317.8 371.8 317.9 372.4 317.9 373.1 317.9 373.7 317.9 374.4 318.1 375 318.3 375.7 318.2 376.3 318.3 377 318.3 377.6 318.4 378.3 318.4 378.9 318.5 379.6 318.5 380.2 318.4 380.9 318.5 381.5 318.4 382.2 318.5 382.8 318.5 383.5 318.7 384.1 318.7 384.8 318.7 385.4 318.7 386.1 318.6 386.7 318.5 387.4 318.4 388 318.4 388.7 318.2 389.3 318.2 390 318.3 390.6 318.2 391.3 318.1 391.9 317.9 392.6 317.9 393.2 317.8 393.9 317.4 394.5 317.1 395.2 316.9 395.8 317 396.5 316.8 397.1 316.4 397.8 316.1 398.4 316 399.1 316 399.7 315.8 400.4 316 401 316.1 401.7 316.3 402.3 316.4 403 316.5 403.6 316.7 404.3 317.3 404.9 317.9 405.6 318.6 406.2 319.3 406.9 320 407.5 320.3 408.2 320.4" fill="none" stroke="#14a09c" stroke-width="1.5" stroke-linejoin="round"/>
<path d="M239.8 332.7 240.5 332.4 241.1 332 241.8 331.8 242.4 331.8 243.1 331.8 243.7 331.9 244.4 332.1 245 332.1 245.7 332.3 246.3 332.5 247 332.8 247.6 333 248.3 333.2 248.9 333.5 249.6 333.6 250.2 333.7 250.9 333.7 251.5 333.7 252.2 333.6 252.8 333.6 253.5 333.5 254.1 333.5 254.8 333.3 255.4 333.2 256.1 332.9 256.7 332.6 257.4 332.3 258 332.1 258.7 332 259.3 332.1 260 332 260.6 332 261.3 331.9 261.9 332.1 262.6 332 263.2 332.1 263.9 332 264.5 332.1 265.2 332 265.8 332.1 266.5 332.2 267.1 332.2 267.8 332.3 268.4 332.2 269.1 332.4 269.7 332.4 270.4 332.5 271 332.5 271.7 332.4 272.3 332.4 273 332.5 273.6 332.5 274.3 332.4 274.9 332.3 275.6 332.3 276.2 332.2 276.9 332.2 277.5 332.2 278.2 332.3 278.8 332.3 279.5 332.3 280.1 332.2 280.8 332.1 281.4 331.9 282.1 331.9 282.7 332 283.4 332.1 284 332.1 284.7 331.9 285.3 331.9 286 331.9 286.6 331.8 287.3 331.7 287.9 331.7 288.6 332 289.2 332 289.9 331.9 290.5 331.9 291.2 331.9 291.8 331.9 292.5 331.8 293.1 332 293.8 332 294.4 332.1 295.1 331.9 295.7 331.9 296.4 331.8 297 331.7 297.7 331.8 298.3 331.9 299 331.8 299.6 331.7 300.3 331.8 300.9 331.8 301.6 331.8 302.2 331.8 302.9 331.9 303.5 331.9 304.2 331.8 304.8 331.7 305.5 331.9 306.1 332 306.8 331.9 307.4 331.6 308.1 331.6 308.7 331.7 309.4 331.8 310 331.7 310.7 331.8 311.3 331.8 312 331.8 312.6 331.7 313.3 331.6 313.9 331.7 314.6 331.7 315.2 331.6 315.9 331.5 316.5 331.5 317.2 331.5 317.8 331.6 318.5 331.8 319.1 331.9 319.8 331.8 320.4 331.6 321.1 331.7 321.7 331.8 322.4 331.9 323 331.8 323.7 331.7 324.3 331.8 325 331.9 325.6 332 326.3 331.8 326.9 332 327.6 332 328.2 332 328.9 331.9 329.5 332 330.2 332.1 330.8 332 331.5 332 332.1 331.9 332.8 332 333.4 331.9 334.1 332 334.7 331.9 335.4 331.9 336 331.9 336.7 332 337.3 332 338 332 338.6 332 339.3 332 339.9 332 340.6 331.9 341.2 332 341.9 331.9 342.5 331.9 343.2 331.9 343.8 331.8 344.5 331.9 345.1 331.8 345.8 332 346.4 332 347.1 332 347.7 331.9 348.4 332 349 332 349.7 332 350.3 332.1 351 332.1 351.6 332 352.3 331.9 352.9 331.8 353.6 331.8 354.2 331.8 354.9 331.8 355.5 331.9 356.2 332 356.8 332 357.5 332 358.1 331.9 358.8 332.1 359.4 332.2 360.1 332.3 360.7 332.2 361.4 332 362 332.1 362.7 332 363.3 331.9 364 331.9 364.6 331.9 365.3 332 365.9 331.9 366.6 331.9 367.2 332 367.9 332.1 368.5 332.2 369.2 332.1 369.8 332 370.5 332 371.1 331.9 371.8 331.9 372.4 331.8 373.1 331.9 373.7 331.9 374.4 332.1 375 331.9 375.7 331.9 376.3 332 377 332.1 377.6 332.3 378.3 332.2 378.9 332.1 379.6 332.1 380.2 332.1 380.9 332.1 381.5 332.2 382.2 332.1 382.8 332.3 383.5 332.1 384.1 332.1 384.8 332 385.4 332 386.1 332 386.7 332 387.4 332 388 332 388.7 331.9 389.3 332 390 332.1 390.6 332.2 391.3 332.2 391.9 332.1 392.6 332.1 393.2 332.1 393.9 332.1 394.5 332.1 395.2 332 395.8 332 396.5 332.1 397.1 332.3 397.8 332.3 398.4 332.3 399.1 332.2 399.7 332.1 400.4 332 401 332.2 401.7 332.2 402.3 332.3 403 332.3 403.6 332.3 404.3 332.3 404.9 332.2 405.6 332.3 406.2 332.3 406.9 332.3 407.5 332.4 408.2 332.3" fill="none" stroke="#0f4a48" stroke-width="1.6" stroke-linejoin="round"/>
<path d="M273.1 211V336" stroke="#111" stroke-width="1.1" stroke-dasharray="2.2 1.8" fill="none"/>
<path d="M299 246V337" stroke="#111" stroke-width="0.9" stroke-dasharray="1 1.6" fill="none"/>
<path d="M318.7 232V337" stroke="#111" stroke-width="1.1" stroke-dasharray="2 1.7" fill="none"/>
<path d="M339.2 224V337" stroke="#111" stroke-width="1.1" stroke-dasharray="2 1.7" fill="none"/>
<path d="M399.8 225V337" stroke="#111" stroke-width="0.9" stroke-dasharray="1 1.6" fill="none"/>
<text x="250" y="216.5" font-size="8.7">*CH<tspan font-size="6" dy="1.8">3</tspan><tspan dy="-1.8"></tspan></text>
<text x="293.5" y="247" font-size="8.7">H<tspan font-size="6" dy="1.8">2</tspan><tspan dy="-1.8">O</tspan></text>
<text x="308.5" y="227.5" font-size="8.7">C=O</text>
<text x="329.6" y="220.3" font-size="8.7">Cu-*CO</text>
<text x="390" y="221" font-size="8.7">CO<tspan font-size="6" dy="1.8">2</tspan><tspan dy="-1.8"></tspan></text>
<text x="410" y="231.4" font-size="8.9">-1.2 V</text>
<text x="410" y="250.9" font-size="8.9">-1.1 V</text>
<text x="410" y="267.6" font-size="8.9">-0.9 V</text>
<text x="410" y="284.6" font-size="8.9">-0.8 V</text>
<text x="410" y="303.2" font-size="8.9">-0.6 V</text>
<text x="410" y="320.8" font-size="8.9">-0.4 V</text>
<text x="410" y="336" font-size="8.9">OCP</text>
<rect x="239.8" y="204.6" width="168.4" height="134.9" fill="none" stroke="#000" stroke-width="1.5"/>
<path d="M239.8 339.5v2.6" stroke="#000" stroke-width="1"/>
<path d="M253.8 339.5v1.6" stroke="#000" stroke-width="1"/>
<path d="M267.9 339.5v2.6" stroke="#000" stroke-width="1"/>
<path d="M281.9 339.5v1.6" stroke="#000" stroke-width="1"/>
<path d="M295.9 339.5v2.6" stroke="#000" stroke-width="1"/>
<path d="M310 339.5v1.6" stroke="#000" stroke-width="1"/>
<path d="M324 339.5v2.6" stroke="#000" stroke-width="1"/>
<path d="M338 339.5v1.6" stroke="#000" stroke-width="1"/>
<path d="M352.1 339.5v2.6" stroke="#000" stroke-width="1"/>
<path d="M366.1 339.5v1.6" stroke="#000" stroke-width="1"/>
<path d="M380.1 339.5v2.6" stroke="#000" stroke-width="1"/>
<path d="M394.2 339.5v1.6" stroke="#000" stroke-width="1"/>
<path d="M408.2 339.5v2.6" stroke="#000" stroke-width="1"/>
<text x="239.8" y="353.4" font-size="11" text-anchor="middle">1200</text>
<text x="267.9" y="353.4" font-size="11" text-anchor="middle">1400</text>
<text x="295.9" y="353.4" font-size="11" text-anchor="middle">1600</text>
<text x="324" y="353.4" font-size="11" text-anchor="middle">1800</text>
<text x="352.1" y="353.4" font-size="11" text-anchor="middle">2000</text>
<text x="380.1" y="353.4" font-size="11" text-anchor="middle">2200</text>
<text x="408.2" y="353.4" font-size="11" text-anchor="middle">2400</text>
<text x="324.1" y="372.1" font-size="11.5" text-anchor="middle" font-weight="bold">Wavenumber (cm<tspan font-size="7.7" dy="-4">-1</tspan><tspan dy="4">)</tspan></text>
<text transform="translate(228 268.5) rotate(-90)" font-size="11.3" text-anchor="middle" font-weight="bold">Intensity (a.u.)</text>
<text x="4.4" y="405.6" font-size="27">f</text>
<defs>
<radialGradient id="gB" cx=".42" cy=".38" r=".62"><stop offset="0" stop-color="#4fd2ff"/><stop offset=".5" stop-color="#17a2e0"/><stop offset=".85" stop-color="#0d74ad"/><stop offset="1" stop-color="#0a5f94"/></radialGradient>
<radialGradient id="gP" cx=".38" cy=".32" r=".72"><stop offset="0" stop-color="#ff6fa8"/><stop offset=".4" stop-color="#ec1464"/><stop offset=".85" stop-color="#bf0446"/><stop offset="1" stop-color="#9a0036"/></radialGradient>
<radialGradient id="gY" cx=".36" cy=".3" r=".75"><stop offset="0" stop-color="#fff08a"/><stop offset=".4" stop-color="#fcc412"/><stop offset="1" stop-color="#d99300"/></radialGradient>
<radialGradient id="gZ" cx=".5" cy=".45" r=".6"><stop offset="0" stop-color="#fdf1e6"/><stop offset=".7" stop-color="#fbdcc4"/><stop offset="1" stop-color="#f6c7a3"/></radialGradient>
<linearGradient id="gA1" x1="0" x2="1"><stop offset="0" stop-color="#fbefd2" stop-opacity="0"/><stop offset=".3" stop-color="#f7e6bf" stop-opacity=".8"/><stop offset=".7" stop-color="#eccd88"/><stop offset="1" stop-color="#dcae55"/></linearGradient>
<linearGradient id="gA2" x1="0" x2="1"><stop offset="0" stop-color="#fbe6da" stop-opacity="0"/><stop offset=".3" stop-color="#f9ddcc" stop-opacity=".8"/><stop offset=".7" stop-color="#f2bb9c"/><stop offset="1" stop-color="#e69a72"/></linearGradient>
<linearGradient id="gG" x1="0" y1="0" x2="1" y2="1"><stop offset="0" stop-color="#b7e23a"/><stop offset=".5" stop-color="#6cc516"/><stop offset="1" stop-color="#2f9a12"/></linearGradient>
<clipPath id="cf"><rect x="36" y="394.7" width="137" height="136.4"/></clipPath>
<clipPath id="cz1"><circle cx="134.3" cy="435.5" r="33.4"/></clipPath>
<clipPath id="cz3"><circle cx="131.5" cy="436.8" r="32.8"/></clipPath>
<g id="lat"><path d="M44.3 421.9L36.6 418.7M63.5 422.9L55.5 419.7M40.3 413.4L36.6 418.7M40.3 413.4L32.9 410.4M58.8 414.4L55.5 419.7M58.8 414.4L51.2 411.3M77.4 415.3L74.6 420.6M77.4 415.3L69.6 412.2M96.2 416.2L93.8 421.6M96.2 416.2L88.1 413.2M115.2 417.2L113.2 422.6M115.2 417.2L106.8 414.1M134.3 418.1L132.8 423.6M134.3 418.1L125.6 415M153.6 419.1L144.6 415.9M173 420L163.7 416.9M36.5 405.5L32.9 410.4M36.5 405.5L29.5 402.7M54.4 406.4L51.2 411.3M54.4 406.4L47.1 403.6M72.4 407.3L69.6 412.2M72.4 407.3L64.8 404.4M90.5 408.1L88.1 413.2M90.5 408.1L82.7 405.3M108.8 409L106.8 414.1M108.8 409L100.8 406.1M127.2 409.9L125.6 415M127.2 409.9L118.9 407M145.8 410.8L144.6 415.9M145.8 410.8L137.2 407.9M164.5 411.7L163.7 416.9M164.5 411.7L155.6 408.7M183.4 412.6L174.2 409.6M33 398.2L29.5 402.7M33 398.2L26.3 395.5M50.3 399L47.1 403.6M50.3 399L43.3 396.3M67.7 399.8L64.8 404.4M67.7 399.8L60.4 397.1M85.2 400.6L82.7 405.3M85.2 400.6L77.7 397.9M102.9 401.4L100.8 406.1M102.9 401.4L95.1 398.7M120.6 402.2L118.9 407M120.6 402.2L112.7 399.5M138.6 403L137.2 407.9M138.6 403L130.3 400.3M156.6 403.9L155.6 408.7M156.6 403.9L148.1 401.1M174.8 404.7L174.2 409.6M174.8 404.7L166.1 402M46.5 392L43.3 396.3M46.5 392L39.7 389.5M63.3 392.7L60.4 397.1M63.3 392.7L56.3 390.3M80.2 393.5L77.7 397.9M80.2 393.5L73 391M97.3 394.3L95.1 398.7M97.3 394.3L89.9 391.7M114.5 395L112.7 399.5M114.5 395L106.8 392.5M131.8 395.8L130.3 400.3M131.8 395.8L123.9 393.3M149.2 396.6L148.1 401.1M149.2 396.6L141.1 394M166.8 397.4L166.1 402M166.8 397.4L158.4 394.8M184.5 398.2L175.9 395.6M42.9 385.5L39.7 389.5M59.2 386.2L56.3 390.3M75.5 386.9L73 391M75.5 386.9L68.6 384.5M92.1 387.6L89.9 391.7M92.1 387.6L84.9 385.2M108.7 388.3L106.8 392.5M108.7 388.3L101.3 385.9M125.4 389.1L123.9 393.3M125.4 389.1L117.9 386.7M142.3 389.8L141.1 394M142.3 389.8L134.5 387.4M159.3 390.5L158.4 394.8M159.3 390.5L151.3 388.1M176.4 391.3L175.9 395.6M176.4 391.3L168.1 388.8M119.5 382.7L117.9 386.7M135.8 383.4L134.5 387.4M152.2 384.1L151.3 388.1M168.8 384.8L168.1 388.8" stroke="#1680b8" stroke-width="1.25" fill="none"/><path d="M46.3 474.3L41.8 482.7M46.3 474.3L37 469.5M69.7 475.7L60 470.9M93.4 477.2L83.2 472.4M117.3 478.7L106.6 473.8M141.4 480.2L130.3 475.3M41.4 461.8L37 469.5M41.4 461.8L32.5 457.4M63.8 463.1L60 470.9M63.8 463.1L54.5 458.7M86.4 464.5L83.2 472.4M86.4 464.5L76.7 460M109.2 465.9L106.6 473.8M109.2 465.9L99.1 461.4M132.2 467.2L130.3 475.3M132.2 467.2L121.8 462.7M155.5 468.6L154.2 476.7M155.5 468.6L144.6 464.1M179 470L178.4 478.2M179 470L167.7 465.4M36.8 450.3L32.5 457.4M36.8 450.3L28.4 446.3M58.3 451.6L54.5 458.7M58.3 451.6L49.5 447.5M79.9 452.8L76.7 460M79.9 452.8L70.8 448.7M101.8 454.1L99.1 461.4M101.8 454.1L92.2 449.9M123.8 455.3L121.8 462.7M123.8 455.3L113.9 451.2M146.1 456.6L144.6 464.1M146.1 456.6L135.8 452.4M168.6 457.9L167.7 465.4M168.6 457.9L157.9 453.7M32.7 439.8L28.4 446.3M32.7 439.8L24.6 436.1M53.2 440.9L49.5 447.5M53.2 440.9L44.9 437.2M74 442.1L70.8 448.7M74 442.1L65.3 438.3M95 443.2L92.2 449.9M95 443.2L85.9 439.4M116.1 444.4L113.9 451.2M116.1 444.4L106.7 440.5M137.4 445.6L135.8 452.4M137.4 445.6L127.7 441.7M159 446.8L157.9 453.7M159 446.8L148.8 442.8M180.7 448L170.2 444M48.6 431.1L44.9 437.2M48.6 431.1L40.6 427.6M68.6 432.1L65.3 438.3M68.6 432.1L60.2 428.6M88.7 433.2L85.9 439.4M88.7 433.2L80 429.7M109 434.3L106.7 440.5M109 434.3L100 430.7M129.5 435.4L127.7 441.7M129.5 435.4L120.2 431.8M150.1 436.5L148.8 442.8M150.1 436.5L140.5 432.9M170.9 437.6L170.2 444M170.9 437.6L161 433.9M44.3 421.9L40.6 427.6M63.5 422.9L60.2 428.6M82.9 423.9L80 429.7M82.9 423.9L74.6 420.6M102.4 424.9L100 430.7M102.4 424.9L93.8 421.6M122.1 425.9L120.2 431.8M122.1 425.9L113.2 422.6M141.9 426.9L140.5 432.9M141.9 426.9L132.8 423.6M161.9 428L161 433.9M161.9 428L152.5 424.6M182.1 429L172.4 425.6M153.6 419.1L152.5 424.6M173 420L172.4 425.6" stroke="#1680b8" stroke-width="1.5" fill="none"/><path d="M43 535.6L31.9 528.6M71.4 537.7L59.6 530.7M100 539.9L87.6 532.8M37.3 517.5L31.9 528.6M37.3 517.5L26.8 511.2M64.1 519.4L59.6 530.7M64.1 519.4L53.1 513.1M91.3 521.3L87.6 532.8M91.3 521.3L79.6 515M118.7 523.3L116 534.9M118.7 523.3L106.5 516.9M146.5 525.3L144.7 537M146.5 525.3L133.7 518.8M174.6 527.3L173.7 539.2M174.6 527.3L161.2 520.7M32.1 501.1L26.8 511.2M32.1 501.1L22.2 495.5M57.6 502.9L53.1 513.1M57.6 502.9L47.2 497.2M83.4 504.6L79.6 515M83.4 504.6L72.4 498.9M109.4 506.4L106.5 516.9M109.4 506.4L98 500.6M135.8 508.2L133.7 518.8M135.8 508.2L123.8 502.3M162.4 510.1L161.2 520.7M162.4 510.1L149.9 504.1M189.4 511.9L176.3 505.9M51.7 487.9L47.2 497.2M51.7 487.9L41.8 482.7M76.2 489.5L72.4 498.9M76.2 489.5L65.9 484.3M101 491.1L98 500.6M101 491.1L90.2 485.8M126.1 492.8L123.8 502.3M126.1 492.8L114.8 487.4M151.4 494.4L149.9 504.1M151.4 494.4L139.6 489M177 496.1L176.3 505.9M177 496.1L164.7 490.6M69.7 475.7L65.9 484.3M93.4 477.2L90.2 485.8M117.3 478.7L114.8 487.4M141.4 480.2L139.6 489M165.8 481.7L164.7 490.6M165.8 481.7L154.2 476.7M190.4 483.3L178.4 478.2" stroke="#1680b8" stroke-width="1.75" fill="none"/><path d="M43 535.6L37.5 548M129.1 542.1L116 534.9" stroke="#1680b8" stroke-width="2" fill="none"/><path d="M25.2 420.9L36.6 418.7M44.3 421.9L55.5 419.7M21.9 412.5L32.9 410.4M40.3 413.4L51.2 411.3M58.8 414.4L69.6 412.2M77.4 415.3L88.1 413.2M96.2 416.2L106.8 414.1M115.2 417.2L125.6 415M134.3 418.1L144.6 415.9M153.6 419.1L163.7 416.9M173 420L183 417.8M36.5 405.5L47.1 403.6M54.4 406.4L64.8 404.4M72.4 407.3L82.7 405.3M90.5 408.1L100.8 406.1M108.8 409L118.9 407M127.2 409.9L137.2 407.9M145.8 410.8L155.6 408.7M164.5 411.7L174.2 409.6M33 398.2L43.3 396.3M50.3 399L60.4 397.1M67.7 399.8L77.7 397.9M85.2 400.6L95.1 398.7M102.9 401.4L112.7 399.5M120.6 402.2L130.3 400.3M138.6 403L148.1 401.1M156.6 403.9L166.1 402M174.8 404.7L184.1 402.8M29.8 391.2L39.7 389.5M46.5 392L56.3 390.3M63.3 392.7L73 391M80.2 393.5L89.9 391.7M97.3 394.3L106.8 392.5M114.5 395L123.9 393.3M131.8 395.8L141.1 394M149.2 396.6L158.4 394.8M166.8 397.4L175.9 395.6M75.5 386.9L84.9 385.2M92.1 387.6L101.3 385.9M108.7 388.3L117.9 386.7M125.4 389.1L134.5 387.4M142.3 389.8L151.3 388.1M159.3 390.5L168.1 388.8M176.4 391.3L185.1 389.6" stroke="#35b3da" stroke-width="1" fill="none"/><path d="M23.1 472.8L37 469.5M46.3 474.3L60 470.9M69.7 475.7L83.2 472.4M93.4 477.2L106.6 473.8M117.3 478.7L130.3 475.3M141.4 480.2L154.2 476.7M19.2 460.5L32.5 457.4M41.4 461.8L54.5 458.7M63.8 463.1L76.7 460M86.4 464.5L99.1 461.4M109.2 465.9L121.8 462.7M132.2 467.2L144.6 464.1M155.5 468.6L167.7 465.4M36.8 450.3L49.5 447.5M58.3 451.6L70.8 448.7M79.9 452.8L92.2 449.9M101.8 454.1L113.9 451.2M123.8 455.3L135.8 452.4M146.1 456.6L157.9 453.7M168.6 457.9L180.2 454.9M32.7 439.8L44.9 437.2M53.2 440.9L65.3 438.3M74 442.1L85.9 439.4M95 443.2L106.7 440.5M116.1 444.4L127.7 441.7M137.4 445.6L148.8 442.8M159 446.8L170.2 444M28.8 430L40.6 427.6M48.6 431.1L60.2 428.6M68.6 432.1L80 429.7M88.7 433.2L100 430.7M109 434.3L120.2 431.8M129.5 435.4L140.5 432.9M150.1 436.5L161 433.9M170.9 437.6L181.7 435M63.5 422.9L74.6 420.6M82.9 423.9L93.8 421.6M102.4 424.9L113.2 422.6M122.1 425.9L132.8 423.6M141.9 426.9L152.5 424.6M161.9 428L172.4 425.6" stroke="#35b3da" stroke-width="1.25" fill="none"/><path d="M15.1 533.4L31.9 528.6M43 535.6L59.6 530.7M71.4 537.7L87.6 532.8M37.3 517.5L53.1 513.1M64.1 519.4L79.6 515M91.3 521.3L106.5 516.9M118.7 523.3L133.7 518.8M146.5 525.3L161.2 520.7M174.6 527.3L189 522.7M32.1 501.1L47.2 497.2M57.6 502.9L72.4 498.9M83.4 504.6L98 500.6M109.4 506.4L123.8 502.3M135.8 508.2L149.9 504.1M162.4 510.1L176.3 505.9M27.4 486.3L41.8 482.7M51.7 487.9L65.9 484.3M76.2 489.5L90.2 485.8M101 491.1L114.8 487.4M126.1 492.8L139.6 489M151.4 494.4L164.7 490.6M177 496.1L190.1 492.3M165.8 481.7L178.4 478.2" stroke="#35b3da" stroke-width="1.5" fill="none"/><path d="M100 539.9L116 534.9" stroke="#35b3da" stroke-width="1.75" fill="none"/><g fill="url(#gB)"><circle cx="117.9" cy="386.7" r="2.27"/><circle cx="75.5" cy="386.9" r="2.28"/><circle cx="134.5" cy="387.4" r="2.28"/><circle cx="92.1" cy="387.6" r="2.28"/><circle cx="151.3" cy="388.1" r="2.28"/><circle cx="108.7" cy="388.3" r="2.28"/><circle cx="168.1" cy="388.8" r="2.28"/><circle cx="125.4" cy="389.1" r="2.29"/><circle cx="39.7" cy="389.5" r="2.29"/><circle cx="142.3" cy="389.8" r="2.29"/><circle cx="56.3" cy="390.3" r="2.29"/><circle cx="159.3" cy="390.5" r="2.29"/><circle cx="73" cy="391" r="2.29"/><circle cx="176.4" cy="391.3" r="2.29"/><circle cx="89.9" cy="391.7" r="2.3"/><circle cx="46.5" cy="392" r="2.3"/><circle cx="106.8" cy="392.5" r="2.3"/><circle cx="63.3" cy="392.7" r="2.3"/><circle cx="123.9" cy="393.3" r="2.3"/><circle cx="80.2" cy="393.5" r="2.3"/><circle cx="141.1" cy="394" r="2.31"/><circle cx="97.3" cy="394.3" r="2.31"/><circle cx="158.4" cy="394.8" r="2.31"/><circle cx="114.5" cy="395" r="2.31"/><circle cx="175.9" cy="395.6" r="2.31"/><circle cx="131.8" cy="395.8" r="2.31"/><circle cx="43.3" cy="396.3" r="2.32"/><circle cx="149.2" cy="396.6" r="2.32"/><circle cx="60.4" cy="397.1" r="2.32"/><circle cx="166.8" cy="397.4" r="2.32"/><circle cx="77.7" cy="397.9" r="2.32"/><circle cx="33" cy="398.2" r="2.32"/><circle cx="95.1" cy="398.7" r="2.33"/><circle cx="50.3" cy="399" r="2.33"/><circle cx="112.7" cy="399.5" r="2.33"/><circle cx="67.7" cy="399.8" r="2.33"/><circle cx="130.3" cy="400.3" r="2.33"/><circle cx="85.2" cy="400.6" r="2.33"/><circle cx="148.1" cy="401.1" r="2.34"/><circle cx="102.9" cy="401.4" r="2.34"/><circle cx="166.1" cy="402" r="2.34"/><circle cx="120.6" cy="402.2" r="2.34"/><circle cx="138.6" cy="403" r="2.35"/><circle cx="47.1" cy="403.6" r="2.35"/><circle cx="156.6" cy="403.9" r="2.35"/><circle cx="64.8" cy="404.4" r="2.35"/><circle cx="174.8" cy="404.7" r="2.35"/><circle cx="82.7" cy="405.3" r="2.36"/><circle cx="36.5" cy="405.5" r="2.36"/><circle cx="100.8" cy="406.1" r="2.36"/><circle cx="54.4" cy="406.4" r="2.36"/><circle cx="118.9" cy="407" r="2.36"/><circle cx="72.4" cy="407.3" r="2.36"/><circle cx="137.2" cy="407.9" r="2.37"/><circle cx="90.5" cy="408.1" r="2.37"/><circle cx="155.6" cy="408.7" r="2.37"/><circle cx="108.8" cy="409" r="2.37"/><circle cx="174.2" cy="409.6" r="2.37"/><circle cx="127.2" cy="409.9" r="2.38"/><circle cx="32.9" cy="410.4" r="2.38"/><circle cx="145.8" cy="410.8" r="2.38"/><circle cx="51.2" cy="411.3" r="2.38"/><circle cx="164.5" cy="411.7" r="2.38"/><circle cx="69.6" cy="412.2" r="2.39"/><circle cx="88.1" cy="413.2" r="2.39"/><circle cx="40.3" cy="413.4" r="2.39"/><circle cx="106.8" cy="414.1" r="2.39"/><circle cx="58.8" cy="414.4" r="2.39"/><circle cx="125.6" cy="415" r="2.4"/><circle cx="77.4" cy="415.3" r="2.4"/><circle cx="144.6" cy="415.9" r="2.4"/><circle cx="96.2" cy="416.2" r="2.4"/><circle cx="163.7" cy="416.9" r="2.41"/><circle cx="115.2" cy="417.2" r="2.41"/><circle cx="134.3" cy="418.1" r="2.41"/><circle cx="36.6" cy="418.7" r="2.41"/><circle cx="153.6" cy="419.1" r="2.42"/><circle cx="55.5" cy="419.7" r="2.42"/><circle cx="173" cy="420" r="2.42"/><circle cx="74.6" cy="420.6" r="2.42"/><circle cx="93.8" cy="421.6" r="2.43"/><circle cx="44.3" cy="421.9" r="2.43"/><circle cx="113.2" cy="422.6" r="2.43"/><circle cx="63.5" cy="422.9" r="2.43"/><circle cx="132.8" cy="423.6" r="2.43"/><circle cx="82.9" cy="423.9" r="2.44"/><circle cx="152.5" cy="424.6" r="2.44"/><circle cx="102.4" cy="424.9" r="2.44"/><circle cx="172.4" cy="425.6" r="2.44"/><circle cx="122.1" cy="425.9" r="2.44"/><circle cx="141.9" cy="426.9" r="2.45"/><circle cx="40.6" cy="427.6" r="2.45"/><circle cx="161.9" cy="428" r="2.45"/><circle cx="60.2" cy="428.6" r="2.46"/><circle cx="80" cy="429.7" r="2.46"/><circle cx="100" cy="430.7" r="2.47"/><circle cx="48.6" cy="431.1" r="2.47"/><circle cx="120.2" cy="431.8" r="2.47"/><circle cx="68.6" cy="432.1" r="2.47"/><circle cx="140.5" cy="432.9" r="2.47"/><circle cx="88.7" cy="433.2" r="2.48"/><circle cx="161" cy="433.9" r="2.48"/><circle cx="109" cy="434.3" r="2.48"/><circle cx="129.5" cy="435.4" r="2.49"/><circle cx="150.1" cy="436.5" r="2.49"/><circle cx="44.9" cy="437.2" r="2.49"/><circle cx="170.9" cy="437.6" r="2.5"/><circle cx="65.3" cy="438.3" r="2.5"/><circle cx="85.9" cy="439.4" r="2.5"/><circle cx="32.7" cy="439.8" r="2.5"/><circle cx="106.7" cy="440.5" r="2.51"/><circle cx="53.2" cy="440.9" r="2.51"/><circle cx="127.7" cy="441.7" r="2.51"/><circle cx="74" cy="442.1" r="2.51"/><circle cx="148.8" cy="442.8" r="2.52"/><circle cx="95" cy="443.2" r="2.52"/><circle cx="170.2" cy="444" r="2.52"/><circle cx="116.1" cy="444.4" r="2.52"/><circle cx="137.4" cy="445.6" r="2.53"/><circle cx="159" cy="446.8" r="2.54"/><circle cx="49.5" cy="447.5" r="2.54"/><circle cx="70.8" cy="448.7" r="2.54"/><circle cx="92.2" cy="449.9" r="2.55"/><circle cx="36.8" cy="450.3" r="2.55"/><circle cx="113.9" cy="451.2" r="2.55"/><circle cx="58.3" cy="451.6" r="2.56"/><circle cx="135.8" cy="452.4" r="2.56"/><circle cx="79.9" cy="452.8" r="2.56"/><circle cx="157.9" cy="453.7" r="2.56"/><circle cx="101.8" cy="454.1" r="2.57"/><circle cx="123.8" cy="455.3" r="2.57"/><circle cx="146.1" cy="456.6" r="2.58"/><circle cx="32.5" cy="457.4" r="2.58"/><circle cx="168.6" cy="457.9" r="2.58"/><circle cx="54.5" cy="458.7" r="2.59"/><circle cx="76.7" cy="460" r="2.59"/><circle cx="99.1" cy="461.4" r="2.6"/><circle cx="41.4" cy="461.8" r="2.6"/><circle cx="121.8" cy="462.7" r="2.6"/><circle cx="63.8" cy="463.1" r="2.61"/><circle cx="144.6" cy="464.1" r="2.61"/><circle cx="86.4" cy="464.5" r="2.61"/><circle cx="167.7" cy="465.4" r="2.62"/><circle cx="109.2" cy="465.9" r="2.62"/><circle cx="132.2" cy="467.2" r="2.62"/><circle cx="155.5" cy="468.6" r="2.63"/><circle cx="37" cy="469.5" r="2.63"/><circle cx="60" cy="470.9" r="2.64"/><circle cx="83.2" cy="472.4" r="2.65"/><circle cx="106.6" cy="473.8" r="2.65"/><circle cx="46.3" cy="474.3" r="2.65"/><circle cx="130.3" cy="475.3" r="2.66"/><circle cx="69.7" cy="475.7" r="2.66"/><circle cx="154.2" cy="476.7" r="2.66"/><circle cx="93.4" cy="477.2" r="2.67"/><circle cx="178.4" cy="478.2" r="2.67"/><circle cx="117.3" cy="478.7" r="2.67"/><circle cx="141.4" cy="480.2" r="2.68"/><circle cx="165.8" cy="481.7" r="2.69"/><circle cx="41.8" cy="482.7" r="2.69"/><circle cx="65.9" cy="484.3" r="2.7"/><circle cx="90.2" cy="485.8" r="2.7"/><circle cx="114.8" cy="487.4" r="2.71"/><circle cx="51.7" cy="487.9" r="2.71"/><circle cx="139.6" cy="489" r="2.72"/><circle cx="76.2" cy="489.5" r="2.72"/><circle cx="164.7" cy="490.6" r="2.73"/><circle cx="101" cy="491.1" r="2.73"/><circle cx="126.1" cy="492.8" r="2.73"/><circle cx="151.4" cy="494.4" r="2.74"/><circle cx="177" cy="496.1" r="2.75"/><circle cx="47.2" cy="497.2" r="2.75"/><circle cx="72.4" cy="498.9" r="2.76"/><circle cx="98" cy="500.6" r="2.77"/><circle cx="32.1" cy="501.1" r="2.77"/><circle cx="123.8" cy="502.3" r="2.78"/><circle cx="57.6" cy="502.9" r="2.78"/><circle cx="149.9" cy="504.1" r="2.78"/><circle cx="83.4" cy="504.6" r="2.79"/><circle cx="176.3" cy="505.9" r="2.79"/><circle cx="109.4" cy="506.4" r="2.79"/><circle cx="135.8" cy="508.2" r="2.8"/><circle cx="162.4" cy="510.1" r="2.81"/><circle cx="53.1" cy="513.1" r="2.82"/><circle cx="79.6" cy="515" r="2.83"/><circle cx="106.5" cy="516.9" r="2.84"/><circle cx="37.3" cy="517.5" r="2.84"/><circle cx="133.7" cy="518.8" r="2.85"/><circle cx="64.1" cy="519.4" r="2.85"/><circle cx="161.2" cy="520.7" r="2.86"/><circle cx="91.3" cy="521.3" r="2.86"/><circle cx="118.7" cy="523.3" r="2.87"/><circle cx="146.5" cy="525.3" r="2.88"/><circle cx="174.6" cy="527.3" r="2.88"/><circle cx="31.9" cy="528.6" r="2.89"/><circle cx="59.6" cy="530.7" r="2.9"/><circle cx="87.6" cy="532.8" r="2.91"/><circle cx="116" cy="534.9" r="2.92"/><circle cx="43" cy="535.6" r="2.92"/></g></g>
</defs>
<g clip-path="url(#cf)"><use href="#lat"/><circle cx="71.3" cy="457.3" r="12.3" fill="#a00238"/><circle cx="76.6" cy="468.4" r="3.9" fill="url(#gP)"/><circle cx="62.1" cy="447.6" r="3.9" fill="url(#gP)"/><circle cx="82" cy="461.6" r="3.2" fill="url(#gY)"/><circle cx="58.2" cy="454.7" r="3.9" fill="url(#gP)"/><circle cx="67.8" cy="442.5" r="3.9" fill="url(#gP)"/><circle cx="60.6" cy="466.9" r="3.9" fill="url(#gP)"/><circle cx="71.3" cy="469.2" r="3.9" fill="url(#gP)"/><circle cx="78.7" cy="443.9" r="3.9" fill="url(#gP)"/><circle cx="82" cy="455.7" r="3.9" fill="url(#gP)"/><circle cx="59" cy="449.8" r="3.9" fill="url(#gP)"/><circle cx="58.7" cy="462.7" r="3.9" fill="url(#gP)"/><circle cx="63.5" cy="444.1" r="3.9" fill="url(#gP)"/><circle cx="74.7" cy="442.3" r="3.9" fill="url(#gP)"/><circle cx="82" cy="467.9" r="3.9" fill="url(#gP)"/><circle cx="66" cy="470.1" r="3.9" fill="url(#gP)"/><circle cx="60.6" cy="446.4" r="3.9" fill="url(#gP)"/><circle cx="82" cy="449.7" r="3.9" fill="url(#gP)"/><circle cx="58.7" cy="456.7" r="3.2" fill="url(#gY)"/><circle cx="78.6" cy="470.7" r="3.9" fill="url(#gP)"/><circle cx="83.9" cy="463.9" r="3.9" fill="url(#gP)"/><circle cx="69.4" cy="443.1" r="3.9" fill="url(#gP)"/><circle cx="61.7" cy="469.5" r="3.9" fill="url(#gP)"/><circle cx="80.9" cy="445.1" r="3.9" fill="url(#gP)"/><circle cx="73.2" cy="471.5" r="3.9" fill="url(#gP)"/><circle cx="58.7" cy="450.7" r="3.9" fill="url(#gP)"/><circle cx="64" cy="443.9" r="3.2" fill="url(#gY)"/><circle cx="83.9" cy="457.9" r="3.9" fill="url(#gP)"/><circle cx="60.6" cy="464.9" r="3.2" fill="url(#gY)"/><circle cx="82" cy="468.2" r="3.2" fill="url(#gY)"/><circle cx="76.6" cy="444.5" r="3.2" fill="url(#gY)"/><circle cx="60.6" cy="446.7" r="3.9" fill="url(#gP)"/><circle cx="67.9" cy="472.3" r="3.9" fill="url(#gP)"/><circle cx="79.1" cy="470.5" r="3.9" fill="url(#gP)"/><circle cx="83.9" cy="451.9" r="3.9" fill="url(#gP)"/><circle cx="83.6" cy="464.8" r="3.9" fill="url(#gP)"/><circle cx="60.6" cy="458.9" r="3.9" fill="url(#gP)"/><circle cx="63.9" cy="470.7" r="3.9" fill="url(#gP)"/><circle cx="71.3" cy="445.4" r="3.9" fill="url(#gP)"/><circle cx="82" cy="447.7" r="3.9" fill="url(#gP)"/><circle cx="74.8" cy="472.1" r="3.2" fill="url(#gY)"/><circle cx="84.4" cy="459.9" r="3.2" fill="url(#gY)"/><circle cx="60.6" cy="453" r="3.9" fill="url(#gP)"/><circle cx="80.5" cy="467" r="3.9" fill="url(#gP)"/><circle cx="66" cy="446.2" r="3.9" fill="url(#gP)"/><circle cx="70.1" cy="471.9" r="3.9" fill="url(#gP)"/><circle cx="62.6" cy="467.2" r="3.9" fill="url(#gP)"/><circle cx="66.3" cy="470.6" r="3.2" fill="url(#gY)"/><circle cx="61.7" cy="448.1" r="3.9" fill="url(#gP)"/><circle cx="83.6" cy="454.7" r="3.9" fill="url(#gP)"/><circle cx="78.6" cy="446.8" r="3.9" fill="url(#gP)"/><circle cx="82" cy="450.7" r="3.2" fill="url(#gY)"/><circle cx="75.2" cy="467.8" r="3.9" fill="url(#gP)"/><circle cx="80.5" cy="461" r="3.9" fill="url(#gP)"/><circle cx="62.6" cy="461.2" r="3.9" fill="url(#gP)"/><circle cx="73.2" cy="447.6" r="3.9" fill="url(#gP)"/><circle cx="69.8" cy="468.6" r="3.9" fill="url(#gP)"/><circle cx="65.6" cy="467.6" r="3.9" fill="url(#gP)"/><circle cx="75.2" cy="461.8" r="3.9" fill="url(#gP)"/><circle cx="80.5" cy="455" r="3.9" fill="url(#gP)"/><circle cx="79.1" cy="450.3" r="3.9" fill="url(#gP)"/><circle cx="62.6" cy="455.2" r="3.9" fill="url(#gP)"/><circle cx="63.9" cy="450.5" r="3.9" fill="url(#gP)"/><circle cx="67.9" cy="448.5" r="3.9" fill="url(#gP)"/><circle cx="69.8" cy="462.7" r="3.9" fill="url(#gP)"/><circle cx="75.2" cy="455.9" r="3.9" fill="url(#gP)"/><circle cx="65.2" cy="462.8" r="3.2" fill="url(#gY)"/><circle cx="74.8" cy="450.7" r="3.9" fill="url(#gP)"/><circle cx="66.3" cy="453.1" r="3.2" fill="url(#gY)"/><circle cx="65.6" cy="457.5" r="3.9" fill="url(#gP)"/><circle cx="70.1" cy="451.7" r="3.9" fill="url(#gP)"/><circle cx="69.8" cy="456.7" r="3.9" fill="url(#gP)"/><circle cx="118.2" cy="491.5" r="12.3" fill="#a00238"/><circle cx="129.2" cy="499.8" r="3.9" fill="url(#gP)"/><circle cx="108.1" cy="482.9" r="3.9" fill="url(#gP)"/><circle cx="112.4" cy="501.8" r="3.9" fill="url(#gP)"/><circle cx="120.8" cy="477.9" r="3.9" fill="url(#gP)"/><circle cx="130.4" cy="484.2" r="3.9" fill="url(#gP)"/><circle cx="131.2" cy="495.9" r="3.9" fill="url(#gP)"/><circle cx="106.6" cy="495.9" r="3.2" fill="url(#gY)"/><circle cx="118.2" cy="502.3" r="3.9" fill="url(#gP)"/><circle cx="125.5" cy="479.2" r="3.9" fill="url(#gP)"/><circle cx="124" cy="502.9" r="3.9" fill="url(#gP)"/><circle cx="109.6" cy="479.6" r="3.9" fill="url(#gP)"/><circle cx="131.2" cy="490.4" r="3.9" fill="url(#gP)"/><circle cx="106.6" cy="490.4" r="3.9" fill="url(#gP)"/><circle cx="128.8" cy="481.2" r="3.9" fill="url(#gP)"/><circle cx="113.9" cy="478" r="3.2" fill="url(#gY)"/><circle cx="128.6" cy="502.2" r="3.9" fill="url(#gP)"/><circle cx="107.2" cy="501.6" r="3.9" fill="url(#gP)"/><circle cx="119.6" cy="478.5" r="3.9" fill="url(#gP)"/><circle cx="131.2" cy="485" r="3.2" fill="url(#gY)"/><circle cx="106.6" cy="485" r="3.9" fill="url(#gP)"/><circle cx="111" cy="503.9" r="3.9" fill="url(#gP)"/><circle cx="125.4" cy="479.1" r="3.9" fill="url(#gP)"/><circle cx="129.8" cy="498" r="3.2" fill="url(#gY)"/><circle cx="105.2" cy="498" r="3.9" fill="url(#gP)"/><circle cx="116.8" cy="504.5" r="3.9" fill="url(#gP)"/><circle cx="129.2" cy="481.4" r="3.9" fill="url(#gP)"/><circle cx="107.8" cy="480.8" r="3.9" fill="url(#gP)"/><circle cx="122.5" cy="505" r="3.9" fill="url(#gP)"/><circle cx="107.6" cy="501.8" r="3.2" fill="url(#gY)"/><circle cx="129.8" cy="492.6" r="3.9" fill="url(#gP)"/><circle cx="105.2" cy="492.6" r="3.9" fill="url(#gP)"/><circle cx="126.8" cy="503.4" r="3.9" fill="url(#gP)"/><circle cx="112.4" cy="480.1" r="3.9" fill="url(#gP)"/><circle cx="110.9" cy="503.8" r="3.9" fill="url(#gP)"/><circle cx="118.2" cy="480.7" r="3.9" fill="url(#gP)"/><circle cx="129.8" cy="487.1" r="3.9" fill="url(#gP)"/><circle cx="105.2" cy="487.1" r="3.9" fill="url(#gP)"/><circle cx="106" cy="498.8" r="3.9" fill="url(#gP)"/><circle cx="115.6" cy="505.1" r="3.2" fill="url(#gY)"/><circle cx="124" cy="481.2" r="3.2" fill="url(#gY)"/><circle cx="128.3" cy="500.1" r="3.9" fill="url(#gP)"/><circle cx="107.2" cy="483.2" r="3.9" fill="url(#gP)"/><circle cx="128.6" cy="482.7" r="3.9" fill="url(#gP)"/><circle cx="120.7" cy="504.7" r="3.9" fill="url(#gP)"/><circle cx="124.6" cy="503.3" r="3.2" fill="url(#gY)"/><circle cx="109.5" cy="500.6" r="3.9" fill="url(#gP)"/><circle cx="105.2" cy="494.4" r="3.2" fill="url(#gY)"/><circle cx="128.3" cy="494.7" r="3.9" fill="url(#gP)"/><circle cx="111" cy="482.2" r="3.9" fill="url(#gP)"/><circle cx="115.3" cy="501.2" r="3.9" fill="url(#gP)"/><circle cx="106" cy="489.6" r="3.9" fill="url(#gP)"/><circle cx="107.6" cy="485.9" r="3.2" fill="url(#gY)"/><circle cx="109.5" cy="495.2" r="3.9" fill="url(#gP)"/><circle cx="125.6" cy="500.6" r="3.9" fill="url(#gP)"/><circle cx="116.8" cy="482.8" r="3.9" fill="url(#gP)"/><circle cx="121.1" cy="501.7" r="3.9" fill="url(#gP)"/><circle cx="128.3" cy="489.3" r="3.9" fill="url(#gP)"/><circle cx="126.8" cy="485" r="3.9" fill="url(#gP)"/><circle cx="115.3" cy="495.8" r="3.9" fill="url(#gP)"/><circle cx="122.5" cy="483.3" r="3.9" fill="url(#gP)"/><circle cx="109.5" cy="489.8" r="3.9" fill="url(#gP)"/><circle cx="110.9" cy="485.5" r="3.9" fill="url(#gP)"/><circle cx="126" cy="496.3" r="3.2" fill="url(#gY)"/><circle cx="121.1" cy="496.3" r="3.9" fill="url(#gP)"/><circle cx="115.3" cy="490.3" r="3.9" fill="url(#gP)"/><circle cx="124.6" cy="487.4" r="3.2" fill="url(#gY)"/><circle cx="125.6" cy="491.4" r="3.9" fill="url(#gP)"/><circle cx="115.6" cy="485.6" r="3.9" fill="url(#gP)"/><circle cx="120.7" cy="486.4" r="3.9" fill="url(#gP)"/><circle cx="121.1" cy="490.9" r="3.9" fill="url(#gP)"/><circle cx="97.3" cy="457" r="6.3" fill="#fff" fill-opacity=".9" stroke="#f3bd55" stroke-width=".9"/><circle cx="88.7" cy="460" r="1.9" fill="none" stroke="#f3bd55" stroke-width=".8"/><circle cx="134.3" cy="435.5" r="33.8" fill="url(#gZ)" stroke="#f2c27a" stroke-width=".9"/><g clip-path="url(#cz1)"><path d="M98.8 462.8l-15.5 1.5M117 471.6l-15.5 1.5M135.2 480.4l-15.5 1.5M90.7 431.9l-15.5 1.5M108.9 440.7l-15.5 1.5M127.1 449.5l-15.5 1.5M145.3 458.3l-15.5 1.5M163.5 467.1l-15.5 1.5M100.8 409.8l-15.5 1.5M119 418.6l-15.5 1.5M137.2 427.4l-15.5 1.5M155.4 436.2l-15.5 1.5M173.6 445l-15.5 1.5M129.1 396.5l-15.5 1.5M147.3 405.3l-15.5 1.5M165.5 414.1l-15.5 1.5M183.7 422.9l-15.5 1.5" stroke="#2aa6d4" stroke-width="1.9" fill="none"/><path d="M98.8 462.8l12.8 -11.8M117 471.6l12.8 -11.8M135.2 480.4l12.8 -11.8M90.7 431.9l12.8 -11.8M108.9 440.7l12.8 -11.8M127.1 449.5l12.8 -11.8M145.3 458.3l12.8 -11.8M163.5 467.1l12.8 -11.8M100.8 409.8l12.8 -11.8M119 418.6l12.8 -11.8M137.2 427.4l12.8 -11.8M155.4 436.2l12.8 -11.8M173.6 445l12.8 -11.8M129.1 396.5l12.8 -11.8M147.3 405.3l12.8 -11.8M165.5 414.1l12.8 -11.8M183.7 422.9l12.8 -11.8M98.8 462.8l2.7 10.3M117 471.6l2.7 10.3M135.2 480.4l2.7 10.3M90.7 431.9l2.7 10.3M108.9 440.7l2.7 10.3M127.1 449.5l2.7 10.3M145.3 458.3l2.7 10.3M163.5 467.1l2.7 10.3M100.8 409.8l2.7 10.3M119 418.6l2.7 10.3M137.2 427.4l2.7 10.3M155.4 436.2l2.7 10.3M173.6 445l2.7 10.3M129.1 396.5l2.7 10.3M147.3 405.3l2.7 10.3M165.5 414.1l2.7 10.3M183.7 422.9l2.7 10.3" stroke="#1783bb" stroke-width="2.3" fill="none"/><g fill="url(#gB)"><circle cx="147.3" cy="405.3" r="3.4"/><circle cx="131.8" cy="406.8" r="3.4"/><circle cx="150" cy="415.6" r="3.4"/><circle cx="119" cy="418.6" r="3.4"/><circle cx="103.5" cy="420.1" r="3.4"/><circle cx="168.2" cy="424.4" r="3.4"/><circle cx="137.2" cy="427.4" r="3.4"/><circle cx="121.7" cy="428.9" r="3.4"/><circle cx="155.4" cy="436.2" r="3.4"/><circle cx="139.9" cy="437.7" r="3.4"/><circle cx="108.9" cy="440.7" r="3.4"/><circle cx="158.1" cy="446.5" r="3.4"/><circle cx="127.1" cy="449.5" r="3.4"/><circle cx="111.6" cy="451" r="3.4"/><circle cx="145.3" cy="458.3" r="3.4"/><circle cx="129.8" cy="459.8" r="3.4"/><circle cx="148" cy="468.6" r="3.4"/></g></g><circle cx="126.6" cy="438" r="4.6" fill="url(#gY)"/><circle cx="116.9" cy="453" r="8.8" fill="url(#gP)"/><circle cx="144" cy="448.1" r="8.6" fill="url(#gP)"/><circle cx="127.6" cy="450" r="8.2" fill="url(#gP)"/><circle cx="129.4" cy="463.6" r="4.5" fill="url(#gY)"/></g>
<g transform="translate(220 0)"><g clip-path="url(#cf)"><use href="#lat"/><circle cx="72.6" cy="459.5" r="12.3" fill="#a00238"/><circle cx="78.1" cy="470.2" r="3.9" fill="url(#gP)"/><circle cx="63.1" cy="450.2" r="3.9" fill="url(#gP)"/><circle cx="83.6" cy="463.7" r="3.9" fill="url(#gP)"/><circle cx="59.1" cy="457" r="3.9" fill="url(#gP)"/><circle cx="69" cy="445.3" r="3.9" fill="url(#gP)"/><circle cx="61.6" cy="468.7" r="3.9" fill="url(#gP)"/><circle cx="72.6" cy="471" r="3.9" fill="url(#gP)"/><circle cx="80.2" cy="446.6" r="3.9" fill="url(#gP)"/><circle cx="83.6" cy="457.9" r="3.9" fill="url(#gP)"/><circle cx="59.9" cy="452.3" r="3.9" fill="url(#gP)"/><circle cx="59.6" cy="464.7" r="3.9" fill="url(#gP)"/><circle cx="64.6" cy="446.7" r="3.9" fill="url(#gP)"/><circle cx="76.1" cy="445" r="3.9" fill="url(#gP)"/><circle cx="83.6" cy="469.7" r="3.9" fill="url(#gP)"/><circle cx="67.1" cy="471.8" r="3.9" fill="url(#gP)"/><circle cx="61.6" cy="449" r="3.9" fill="url(#gP)"/><circle cx="83.6" cy="452.2" r="3.9" fill="url(#gP)"/><circle cx="59.6" cy="458.9" r="3.9" fill="url(#gP)"/><circle cx="80.1" cy="472.4" r="3.9" fill="url(#gP)"/><circle cx="85.6" cy="465.8" r="3.9" fill="url(#gP)"/><circle cx="70.6" cy="445.8" r="3.9" fill="url(#gP)"/><circle cx="62.7" cy="471.3" r="3.9" fill="url(#gP)"/><circle cx="82.5" cy="447.7" r="3.9" fill="url(#gP)"/><circle cx="74.6" cy="473.2" r="3.9" fill="url(#gP)"/><circle cx="59.6" cy="453.2" r="3.2" fill="url(#gY)"/><circle cx="65.1" cy="446.6" r="3.9" fill="url(#gP)"/><circle cx="85.6" cy="460.1" r="3.9" fill="url(#gP)"/><circle cx="61.6" cy="466.8" r="3.9" fill="url(#gP)"/><circle cx="83.6" cy="470" r="3.2" fill="url(#gY)"/><circle cx="78.1" cy="447.2" r="3.2" fill="url(#gY)"/><circle cx="61.6" cy="449.3" r="3.9" fill="url(#gP)"/><circle cx="69.1" cy="474" r="3.9" fill="url(#gP)"/><circle cx="80.6" cy="472.3" r="3.9" fill="url(#gP)"/><circle cx="85.6" cy="454.3" r="3.9" fill="url(#gP)"/><circle cx="85.3" cy="466.7" r="3.9" fill="url(#gP)"/><circle cx="61.6" cy="461.1" r="3.9" fill="url(#gP)"/><circle cx="65" cy="472.4" r="3.9" fill="url(#gP)"/><circle cx="72.6" cy="448" r="3.9" fill="url(#gP)"/><circle cx="83.6" cy="450.3" r="3.9" fill="url(#gP)"/><circle cx="76.2" cy="473.7" r="3.9" fill="url(#gP)"/><circle cx="86.1" cy="462" r="3.2" fill="url(#gY)"/><circle cx="61.6" cy="455.3" r="3.9" fill="url(#gP)"/><circle cx="82.1" cy="468.8" r="3.9" fill="url(#gP)"/><circle cx="67.1" cy="448.8" r="3.9" fill="url(#gP)"/><circle cx="71.3" cy="473.6" r="3.2" fill="url(#gY)"/><circle cx="63.6" cy="469" r="3.9" fill="url(#gP)"/><circle cx="67.5" cy="472.3" r="3.9" fill="url(#gP)"/><circle cx="62.7" cy="450.6" r="3.9" fill="url(#gP)"/><circle cx="85.3" cy="457" r="3.9" fill="url(#gP)"/><circle cx="80.1" cy="449.4" r="3.9" fill="url(#gP)"/><circle cx="83.6" cy="453.1" r="3.2" fill="url(#gY)"/><circle cx="76.6" cy="469.6" r="3.9" fill="url(#gP)"/><circle cx="82.1" cy="463.1" r="3.9" fill="url(#gP)"/><circle cx="63.6" cy="463.3" r="3.9" fill="url(#gP)"/><circle cx="74.6" cy="450.2" r="3.9" fill="url(#gP)"/><circle cx="71.1" cy="470.4" r="3.9" fill="url(#gP)"/><circle cx="66.7" cy="469.4" r="3.2" fill="url(#gY)"/><circle cx="76.6" cy="463.9" r="3.9" fill="url(#gP)"/><circle cx="82.1" cy="457.3" r="3.9" fill="url(#gP)"/><circle cx="80.6" cy="452.8" r="3.9" fill="url(#gP)"/><circle cx="63.6" cy="457.5" r="3.9" fill="url(#gP)"/><circle cx="65" cy="453" r="3.9" fill="url(#gP)"/><circle cx="69.1" cy="451" r="3.9" fill="url(#gP)"/><circle cx="71.1" cy="464.7" r="3.9" fill="url(#gP)"/><circle cx="76.6" cy="458.1" r="3.9" fill="url(#gP)"/><circle cx="66.3" cy="464.8" r="3.9" fill="url(#gP)"/><circle cx="76.2" cy="453.1" r="3.9" fill="url(#gP)"/><circle cx="67.5" cy="455.4" r="3.2" fill="url(#gY)"/><circle cx="66.7" cy="459.7" r="3.9" fill="url(#gP)"/><circle cx="71.3" cy="454.1" r="3.9" fill="url(#gP)"/><circle cx="71.1" cy="458.9" r="3.9" fill="url(#gP)"/><circle cx="116.5" cy="493.5" r="12.3" fill="#a00238"/><circle cx="127.5" cy="501.8" r="3.9" fill="url(#gP)"/><circle cx="106.4" cy="484.9" r="3.9" fill="url(#gP)"/><circle cx="110.7" cy="503.8" r="3.9" fill="url(#gP)"/><circle cx="119.1" cy="479.9" r="3.9" fill="url(#gP)"/><circle cx="128.7" cy="486.2" r="3.9" fill="url(#gP)"/><circle cx="129.5" cy="497.9" r="3.9" fill="url(#gP)"/><circle cx="104.9" cy="497.9" r="3.9" fill="url(#gP)"/><circle cx="116.5" cy="504.3" r="3.9" fill="url(#gP)"/><circle cx="123.8" cy="481.2" r="3.9" fill="url(#gP)"/><circle cx="122.3" cy="504.9" r="3.9" fill="url(#gP)"/><circle cx="107.9" cy="481.6" r="3.9" fill="url(#gP)"/><circle cx="129.5" cy="492.4" r="3.9" fill="url(#gP)"/><circle cx="104.9" cy="492.4" r="3.2" fill="url(#gY)"/><circle cx="127.1" cy="483.2" r="3.9" fill="url(#gP)"/><circle cx="112.2" cy="480" r="3.9" fill="url(#gP)"/><circle cx="126.9" cy="504.2" r="3.9" fill="url(#gP)"/><circle cx="105.5" cy="503.6" r="3.9" fill="url(#gP)"/><circle cx="117.9" cy="480.5" r="3.9" fill="url(#gP)"/><circle cx="129.5" cy="487" r="3.9" fill="url(#gP)"/><circle cx="104.9" cy="487" r="3.9" fill="url(#gP)"/><circle cx="109.3" cy="505.9" r="3.9" fill="url(#gP)"/><circle cx="123.7" cy="481.1" r="3.9" fill="url(#gP)"/><circle cx="128.1" cy="500" r="3.2" fill="url(#gY)"/><circle cx="103.5" cy="500" r="3.9" fill="url(#gP)"/><circle cx="115.1" cy="506.5" r="3.9" fill="url(#gP)"/><circle cx="127.5" cy="483.4" r="3.9" fill="url(#gP)"/><circle cx="106.1" cy="482.8" r="3.9" fill="url(#gP)"/><circle cx="120.8" cy="507" r="3.9" fill="url(#gP)"/><circle cx="105.9" cy="503.8" r="3.2" fill="url(#gY)"/><circle cx="128.1" cy="494.6" r="3.9" fill="url(#gP)"/><circle cx="103.5" cy="494.6" r="3.9" fill="url(#gP)"/><circle cx="125.1" cy="505.4" r="3.9" fill="url(#gP)"/><circle cx="110.7" cy="482.1" r="3.9" fill="url(#gP)"/><circle cx="109.2" cy="505.8" r="3.9" fill="url(#gP)"/><circle cx="116.5" cy="482.7" r="3.2" fill="url(#gY)"/><circle cx="128.1" cy="489.1" r="3.9" fill="url(#gP)"/><circle cx="103.5" cy="489.1" r="3.9" fill="url(#gP)"/><circle cx="104.3" cy="500.8" r="3.9" fill="url(#gP)"/><circle cx="113.9" cy="507.1" r="3.9" fill="url(#gP)"/><circle cx="122.3" cy="483.2" r="3.9" fill="url(#gP)"/><circle cx="126.6" cy="502.1" r="3.9" fill="url(#gP)"/><circle cx="105.5" cy="485.2" r="3.9" fill="url(#gP)"/><circle cx="126.9" cy="484.7" r="3.9" fill="url(#gP)"/><circle cx="119" cy="506.7" r="3.9" fill="url(#gP)"/><circle cx="122.9" cy="505.3" r="3.9" fill="url(#gP)"/><circle cx="107.8" cy="502.6" r="3.9" fill="url(#gP)"/><circle cx="103.5" cy="496.4" r="3.9" fill="url(#gP)"/><circle cx="126.6" cy="496.7" r="3.9" fill="url(#gP)"/><circle cx="109.3" cy="484.2" r="3.9" fill="url(#gP)"/><circle cx="113.6" cy="503.2" r="3.9" fill="url(#gP)"/><circle cx="104.3" cy="491.6" r="3.9" fill="url(#gP)"/><circle cx="105.9" cy="487.9" r="3.2" fill="url(#gY)"/><circle cx="107.8" cy="497.2" r="3.9" fill="url(#gP)"/><circle cx="123.9" cy="502.6" r="3.9" fill="url(#gP)"/><circle cx="115.1" cy="484.8" r="3.9" fill="url(#gP)"/><circle cx="119.4" cy="503.7" r="3.2" fill="url(#gY)"/><circle cx="126.6" cy="491.3" r="3.9" fill="url(#gP)"/><circle cx="125.1" cy="487" r="3.9" fill="url(#gP)"/><circle cx="113.6" cy="497.8" r="3.9" fill="url(#gP)"/><circle cx="120.8" cy="485.3" r="3.9" fill="url(#gP)"/><circle cx="107.8" cy="491.8" r="3.9" fill="url(#gP)"/><circle cx="109.2" cy="487.5" r="3.9" fill="url(#gP)"/><circle cx="124.3" cy="498.3" r="3.2" fill="url(#gY)"/><circle cx="119.4" cy="498.3" r="3.9" fill="url(#gP)"/><circle cx="113.6" cy="492.3" r="3.9" fill="url(#gP)"/><circle cx="122.9" cy="489.4" r="3.2" fill="url(#gY)"/><circle cx="123.9" cy="493.4" r="3.9" fill="url(#gP)"/><circle cx="113.9" cy="487.6" r="3.9" fill="url(#gP)"/><circle cx="119" cy="488.4" r="3.9" fill="url(#gP)"/><circle cx="119.4" cy="492.9" r="3.9" fill="url(#gP)"/><circle cx="99.3" cy="458" r="6.3" fill="#fff" fill-opacity=".9" stroke="#f3bd55" stroke-width=".9"/><circle cx="90.7" cy="461" r="1.9" fill="none" stroke="#f3bd55" stroke-width=".8"/><circle cx="134.3" cy="435.5" r="33.8" fill="url(#gZ)" stroke="#f2c27a" stroke-width=".9"/><g clip-path="url(#cz1)"><path d="M98.8 462.8l-15.5 1.5M117 471.6l-15.5 1.5M135.2 480.4l-15.5 1.5M90.7 431.9l-15.5 1.5M108.9 440.7l-15.5 1.5M127.1 449.5l-15.5 1.5M145.3 458.3l-15.5 1.5M163.5 467.1l-15.5 1.5M100.8 409.8l-15.5 1.5M119 418.6l-15.5 1.5M137.2 427.4l-15.5 1.5M155.4 436.2l-15.5 1.5M173.6 445l-15.5 1.5M129.1 396.5l-15.5 1.5M147.3 405.3l-15.5 1.5M165.5 414.1l-15.5 1.5M183.7 422.9l-15.5 1.5" stroke="#2aa6d4" stroke-width="1.9" fill="none"/><path d="M98.8 462.8l12.8 -11.8M117 471.6l12.8 -11.8M135.2 480.4l12.8 -11.8M90.7 431.9l12.8 -11.8M108.9 440.7l12.8 -11.8M127.1 449.5l12.8 -11.8M145.3 458.3l12.8 -11.8M163.5 467.1l12.8 -11.8M100.8 409.8l12.8 -11.8M119 418.6l12.8 -11.8M137.2 427.4l12.8 -11.8M155.4 436.2l12.8 -11.8M173.6 445l12.8 -11.8M129.1 396.5l12.8 -11.8M147.3 405.3l12.8 -11.8M165.5 414.1l12.8 -11.8M183.7 422.9l12.8 -11.8M98.8 462.8l2.7 10.3M117 471.6l2.7 10.3M135.2 480.4l2.7 10.3M90.7 431.9l2.7 10.3M108.9 440.7l2.7 10.3M127.1 449.5l2.7 10.3M145.3 458.3l2.7 10.3M163.5 467.1l2.7 10.3M100.8 409.8l2.7 10.3M119 418.6l2.7 10.3M137.2 427.4l2.7 10.3M155.4 436.2l2.7 10.3M173.6 445l2.7 10.3M129.1 396.5l2.7 10.3M147.3 405.3l2.7 10.3M165.5 414.1l2.7 10.3M183.7 422.9l2.7 10.3" stroke="#1783bb" stroke-width="2.3" fill="none"/><g fill="url(#gB)"><circle cx="147.3" cy="405.3" r="3.4"/><circle cx="131.8" cy="406.8" r="3.4"/><circle cx="150" cy="415.6" r="3.4"/><circle cx="119" cy="418.6" r="3.4"/><circle cx="103.5" cy="420.1" r="3.4"/><circle cx="168.2" cy="424.4" r="3.4"/><circle cx="137.2" cy="427.4" r="3.4"/><circle cx="121.7" cy="428.9" r="3.4"/><circle cx="155.4" cy="436.2" r="3.4"/><circle cx="139.9" cy="437.7" r="3.4"/><circle cx="108.9" cy="440.7" r="3.4"/><circle cx="158.1" cy="446.5" r="3.4"/><circle cx="127.1" cy="449.5" r="3.4"/><circle cx="111.6" cy="451" r="3.4"/><circle cx="145.3" cy="458.3" r="3.4"/><circle cx="129.8" cy="459.8" r="3.4"/><circle cx="148" cy="468.6" r="3.4"/></g></g><circle cx="128.6" cy="464.3" r="4.2" fill="url(#gY)"/><circle cx="121.4" cy="438" r="8.3" fill="url(#gP)"/><circle cx="142.9" cy="447.8" r="8.1" fill="url(#gP)"/><circle cx="125.9" cy="450.8" r="8.4" fill="url(#gP)"/></g></g>
<g transform="translate(436 0)"><g clip-path="url(#cf)"><use href="#lat"/><circle cx="70.7" cy="460.5" r="12.3" fill="#a00238"/><circle cx="76.2" cy="471" r="3.9" fill="url(#gP)"/><circle cx="61.2" cy="451.4" r="3.9" fill="url(#gP)"/><circle cx="81.7" cy="464.6" r="3.9" fill="url(#gP)"/><circle cx="57.2" cy="458.1" r="3.9" fill="url(#gP)"/><circle cx="67.1" cy="446.5" r="3.9" fill="url(#gP)"/><circle cx="59.7" cy="469.6" r="3.9" fill="url(#gP)"/><circle cx="70.7" cy="471.8" r="3.9" fill="url(#gP)"/><circle cx="78.3" cy="447.8" r="3.9" fill="url(#gP)"/><circle cx="81.7" cy="458.9" r="3.9" fill="url(#gP)"/><circle cx="58" cy="453.4" r="3.9" fill="url(#gP)"/><circle cx="57.7" cy="465.6" r="3.9" fill="url(#gP)"/><circle cx="62.7" cy="448" r="3.9" fill="url(#gP)"/><circle cx="74.2" cy="446.3" r="3.9" fill="url(#gP)"/><circle cx="81.7" cy="470.5" r="3.9" fill="url(#gP)"/><circle cx="65.2" cy="472.6" r="3.9" fill="url(#gP)"/><circle cx="59.7" cy="450.2" r="3.9" fill="url(#gP)"/><circle cx="81.7" cy="453.3" r="3.9" fill="url(#gP)"/><circle cx="57.7" cy="459.9" r="3.9" fill="url(#gP)"/><circle cx="78.2" cy="473.1" r="3.9" fill="url(#gP)"/><circle cx="83.7" cy="466.7" r="3.9" fill="url(#gP)"/><circle cx="68.7" cy="447.1" r="3.9" fill="url(#gP)"/><circle cx="60.8" cy="472" r="3.9" fill="url(#gP)"/><circle cx="80.6" cy="449" r="3.9" fill="url(#gP)"/><circle cx="72.7" cy="473.9" r="3.9" fill="url(#gP)"/><circle cx="57.7" cy="454.3" r="3.9" fill="url(#gP)"/><circle cx="63.2" cy="447.9" r="3.9" fill="url(#gP)"/><circle cx="83.7" cy="461.1" r="3.9" fill="url(#gP)"/><circle cx="59.7" cy="467.7" r="3.9" fill="url(#gP)"/><circle cx="81.7" cy="470.8" r="3.9" fill="url(#gP)"/><circle cx="76.2" cy="448.4" r="3.9" fill="url(#gP)"/><circle cx="59.7" cy="450.5" r="3.9" fill="url(#gP)"/><circle cx="67.2" cy="474.7" r="3.9" fill="url(#gP)"/><circle cx="78.7" cy="473" r="3.9" fill="url(#gP)"/><circle cx="83.7" cy="455.4" r="3.9" fill="url(#gP)"/><circle cx="83.4" cy="467.6" r="3.9" fill="url(#gP)"/><circle cx="59.7" cy="462.1" r="3.9" fill="url(#gP)"/><circle cx="63.1" cy="473.2" r="3.9" fill="url(#gP)"/><circle cx="70.7" cy="449.2" r="3.9" fill="url(#gP)"/><circle cx="81.7" cy="451.4" r="3.9" fill="url(#gP)"/><circle cx="74.3" cy="474.5" r="3.9" fill="url(#gP)"/><circle cx="84.2" cy="462.9" r="3.9" fill="url(#gP)"/><circle cx="59.7" cy="456.4" r="3.9" fill="url(#gP)"/><circle cx="80.2" cy="469.6" r="3.2" fill="url(#gY)"/><circle cx="65.2" cy="450" r="3.9" fill="url(#gP)"/><circle cx="69.4" cy="474.3" r="3.9" fill="url(#gP)"/><circle cx="61.7" cy="469.8" r="3.9" fill="url(#gP)"/><circle cx="65.6" cy="473.1" r="3.9" fill="url(#gP)"/><circle cx="60.8" cy="451.8" r="3.9" fill="url(#gP)"/><circle cx="83.4" cy="458" r="3.9" fill="url(#gP)"/><circle cx="78.2" cy="450.6" r="3.9" fill="url(#gP)"/><circle cx="81.7" cy="454.2" r="3.9" fill="url(#gP)"/><circle cx="74.7" cy="470.4" r="3.9" fill="url(#gP)"/><circle cx="80.2" cy="464" r="3.9" fill="url(#gP)"/><circle cx="61.7" cy="464.2" r="3.9" fill="url(#gP)"/><circle cx="72.7" cy="451.4" r="3.9" fill="url(#gP)"/><circle cx="69.2" cy="471.2" r="3.9" fill="url(#gP)"/><circle cx="64.8" cy="470.2" r="3.9" fill="url(#gP)"/><circle cx="74.7" cy="464.8" r="3.9" fill="url(#gP)"/><circle cx="80.2" cy="458.4" r="3.9" fill="url(#gP)"/><circle cx="78.7" cy="453.9" r="3.9" fill="url(#gP)"/><circle cx="61.7" cy="458.6" r="3.9" fill="url(#gP)"/><circle cx="63.1" cy="454.1" r="3.9" fill="url(#gP)"/><circle cx="67.2" cy="452.1" r="3.9" fill="url(#gP)"/><circle cx="69.2" cy="465.6" r="3.9" fill="url(#gP)"/><circle cx="74.7" cy="459.1" r="3.9" fill="url(#gP)"/><circle cx="64.4" cy="465.7" r="3.9" fill="url(#gP)"/><circle cx="74.3" cy="454.2" r="3.9" fill="url(#gP)"/><circle cx="65.6" cy="456.5" r="3.2" fill="url(#gY)"/><circle cx="64.8" cy="460.7" r="3.9" fill="url(#gP)"/><circle cx="69.4" cy="455.2" r="3.9" fill="url(#gP)"/><circle cx="69.2" cy="459.9" r="3.9" fill="url(#gP)"/><circle cx="113.8" cy="490.8" r="12.3" fill="#a00238"/><circle cx="124.8" cy="499.1" r="3.9" fill="url(#gP)"/><circle cx="103.7" cy="482.2" r="3.9" fill="url(#gP)"/><circle cx="108" cy="501.1" r="3.9" fill="url(#gP)"/><circle cx="116.4" cy="477.2" r="3.9" fill="url(#gP)"/><circle cx="126" cy="483.5" r="3.9" fill="url(#gP)"/><circle cx="126.8" cy="495.2" r="3.9" fill="url(#gP)"/><circle cx="102.2" cy="495.2" r="3.9" fill="url(#gP)"/><circle cx="113.8" cy="501.6" r="3.9" fill="url(#gP)"/><circle cx="121.1" cy="478.5" r="3.9" fill="url(#gP)"/><circle cx="119.6" cy="502.2" r="3.9" fill="url(#gP)"/><circle cx="105.2" cy="478.9" r="3.9" fill="url(#gP)"/><circle cx="126.8" cy="489.7" r="3.9" fill="url(#gP)"/><circle cx="102.2" cy="489.7" r="3.9" fill="url(#gP)"/><circle cx="124.4" cy="480.5" r="3.9" fill="url(#gP)"/><circle cx="109.5" cy="477.3" r="3.9" fill="url(#gP)"/><circle cx="124.2" cy="501.5" r="3.9" fill="url(#gP)"/><circle cx="102.8" cy="500.9" r="3.9" fill="url(#gP)"/><circle cx="115.2" cy="477.8" r="3.9" fill="url(#gP)"/><circle cx="126.8" cy="484.3" r="3.9" fill="url(#gP)"/><circle cx="102.2" cy="484.3" r="3.9" fill="url(#gP)"/><circle cx="106.6" cy="503.2" r="3.9" fill="url(#gP)"/><circle cx="121" cy="478.4" r="3.9" fill="url(#gP)"/><circle cx="125.4" cy="497.3" r="3.9" fill="url(#gP)"/><circle cx="100.8" cy="497.3" r="3.9" fill="url(#gP)"/><circle cx="112.4" cy="503.8" r="3.9" fill="url(#gP)"/><circle cx="124.8" cy="480.7" r="3.9" fill="url(#gP)"/><circle cx="103.4" cy="480.1" r="3.9" fill="url(#gP)"/><circle cx="118.1" cy="504.3" r="3.9" fill="url(#gP)"/><circle cx="103.2" cy="501.1" r="3.9" fill="url(#gP)"/><circle cx="125.4" cy="491.9" r="3.9" fill="url(#gP)"/><circle cx="100.8" cy="491.9" r="3.9" fill="url(#gP)"/><circle cx="122.4" cy="502.7" r="3.9" fill="url(#gP)"/><circle cx="108" cy="479.4" r="3.9" fill="url(#gP)"/><circle cx="106.5" cy="503.1" r="3.9" fill="url(#gP)"/><circle cx="113.8" cy="480" r="3.9" fill="url(#gP)"/><circle cx="125.4" cy="486.4" r="3.9" fill="url(#gP)"/><circle cx="100.8" cy="486.4" r="3.9" fill="url(#gP)"/><circle cx="101.6" cy="498.1" r="3.9" fill="url(#gP)"/><circle cx="111.2" cy="504.4" r="3.9" fill="url(#gP)"/><circle cx="119.6" cy="480.5" r="3.9" fill="url(#gP)"/><circle cx="123.9" cy="499.4" r="3.9" fill="url(#gP)"/><circle cx="102.8" cy="482.5" r="3.9" fill="url(#gP)"/><circle cx="124.2" cy="482" r="3.9" fill="url(#gP)"/><circle cx="116.3" cy="504" r="3.9" fill="url(#gP)"/><circle cx="120.2" cy="502.6" r="3.9" fill="url(#gP)"/><circle cx="105.1" cy="499.9" r="3.9" fill="url(#gP)"/><circle cx="100.8" cy="493.7" r="3.2" fill="url(#gY)"/><circle cx="123.9" cy="494" r="3.9" fill="url(#gP)"/><circle cx="106.6" cy="481.5" r="3.9" fill="url(#gP)"/><circle cx="110.9" cy="500.5" r="3.9" fill="url(#gP)"/><circle cx="101.6" cy="488.9" r="3.9" fill="url(#gP)"/><circle cx="103.2" cy="485.2" r="3.9" fill="url(#gP)"/><circle cx="105.1" cy="494.5" r="3.9" fill="url(#gP)"/><circle cx="121.2" cy="499.9" r="3.9" fill="url(#gP)"/><circle cx="112.4" cy="482.1" r="3.2" fill="url(#gY)"/><circle cx="116.7" cy="501" r="3.9" fill="url(#gP)"/><circle cx="123.9" cy="488.6" r="3.9" fill="url(#gP)"/><circle cx="122.4" cy="484.3" r="3.9" fill="url(#gP)"/><circle cx="110.9" cy="495.1" r="3.9" fill="url(#gP)"/><circle cx="118.1" cy="482.6" r="3.9" fill="url(#gP)"/><circle cx="105.1" cy="489.1" r="3.9" fill="url(#gP)"/><circle cx="106.5" cy="484.8" r="3.9" fill="url(#gP)"/><circle cx="121.6" cy="495.6" r="3.9" fill="url(#gP)"/><circle cx="116.7" cy="495.6" r="3.9" fill="url(#gP)"/><circle cx="110.9" cy="489.6" r="3.9" fill="url(#gP)"/><circle cx="120.2" cy="486.7" r="3.9" fill="url(#gP)"/><circle cx="121.2" cy="490.7" r="3.9" fill="url(#gP)"/><circle cx="111.2" cy="484.9" r="3.9" fill="url(#gP)"/><circle cx="116.3" cy="485.7" r="3.9" fill="url(#gP)"/><circle cx="116.7" cy="490.2" r="3.9" fill="url(#gP)"/><circle cx="98.3" cy="459" r="6.3" fill="#fff" fill-opacity=".9" stroke="#f3bd55" stroke-width=".9"/><circle cx="89.7" cy="462" r="1.9" fill="none" stroke="#f3bd55" stroke-width=".8"/><circle cx="105.4" cy="410.2" r="14.8" fill="#fdf0cb"/><circle cx="131.5" cy="436.8" r="33.2" fill="url(#gZ)" stroke="#f2c27a" stroke-width=".9"/><g clip-path="url(#cz3)"><path d="M95.8 464l-15.5 1.5M114 472.8l-15.5 1.5M132.2 481.6l-15.5 1.5M87.7 433.1l-15.5 1.5M105.9 441.9l-15.5 1.5M124.1 450.7l-15.5 1.5M142.3 459.5l-15.5 1.5M160.5 468.3l-15.5 1.5M97.8 411l-15.5 1.5M116 419.8l-15.5 1.5M134.2 428.6l-15.5 1.5M152.4 437.4l-15.5 1.5M170.6 446.2l-15.5 1.5M126.1 397.7l-15.5 1.5M144.3 406.5l-15.5 1.5M162.5 415.3l-15.5 1.5M180.7 424.1l-15.5 1.5" stroke="#2aa6d4" stroke-width="1.9" fill="none"/><path d="M95.8 464l12.8 -11.8M114 472.8l12.8 -11.8M132.2 481.6l12.8 -11.8M87.7 433.1l12.8 -11.8M105.9 441.9l12.8 -11.8M124.1 450.7l12.8 -11.8M142.3 459.5l12.8 -11.8M160.5 468.3l12.8 -11.8M97.8 411l12.8 -11.8M116 419.8l12.8 -11.8M134.2 428.6l12.8 -11.8M152.4 437.4l12.8 -11.8M170.6 446.2l12.8 -11.8M126.1 397.7l12.8 -11.8M144.3 406.5l12.8 -11.8M162.5 415.3l12.8 -11.8M180.7 424.1l12.8 -11.8M95.8 464l2.7 10.3M114 472.8l2.7 10.3M132.2 481.6l2.7 10.3M87.7 433.1l2.7 10.3M105.9 441.9l2.7 10.3M124.1 450.7l2.7 10.3M142.3 459.5l2.7 10.3M160.5 468.3l2.7 10.3M97.8 411l2.7 10.3M116 419.8l2.7 10.3M134.2 428.6l2.7 10.3M152.4 437.4l2.7 10.3M170.6 446.2l2.7 10.3M126.1 397.7l2.7 10.3M144.3 406.5l2.7 10.3M162.5 415.3l2.7 10.3M180.7 424.1l2.7 10.3" stroke="#1783bb" stroke-width="2.3" fill="none"/><g fill="url(#gB)"><circle cx="144.3" cy="406.5" r="3.4"/><circle cx="128.8" cy="408" r="3.4"/><circle cx="147" cy="416.8" r="3.4"/><circle cx="116" cy="419.8" r="3.4"/><circle cx="100.5" cy="421.3" r="3.4"/><circle cx="165.2" cy="425.6" r="3.4"/><circle cx="134.2" cy="428.6" r="3.4"/><circle cx="118.7" cy="430.1" r="3.4"/><circle cx="152.4" cy="437.4" r="3.4"/><circle cx="136.9" cy="438.9" r="3.4"/><circle cx="105.9" cy="441.9" r="3.4"/><circle cx="155.1" cy="447.7" r="3.4"/><circle cx="124.1" cy="450.7" r="3.4"/><circle cx="108.6" cy="452.2" r="3.4"/><circle cx="142.3" cy="459.5" r="3.4"/><circle cx="126.8" cy="461" r="3.4"/><circle cx="145" cy="469.8" r="3.4"/></g></g><circle cx="124.4" cy="462.4" r="6" fill="url(#gP)"/><circle cx="115.2" cy="452.3" r="7.5" fill="url(#gP)"/><circle cx="121.9" cy="438" r="7.6" fill="url(#gP)"/><circle cx="127" cy="454.8" r="8" fill="url(#gP)"/><circle cx="137.1" cy="443.1" r="8.4" fill="url(#gP)"/><circle cx="138.2" cy="454" r="4.2" fill="url(#gY)"/><circle cx="101.7" cy="406.3" r="3.2" fill="url(#gB)"/><circle cx="97.8" cy="402.1" r="4.2" fill="url(#gY)"/><circle cx="107.6" cy="400.4" r="4.2" fill="url(#gY)"/><circle cx="109.3" cy="421.5" r="3.4" fill="url(#gB)"/><circle cx="105.1" cy="416.1" r="4.2" fill="url(#gY)"/><circle cx="114.3" cy="415.6" r="4.2" fill="url(#gY)"/><path d="M105.9 425.7C105.6 440.5 113.5 457.4 129.1 466.1L127.5 470.2L142.6 466.8L131.7 456L132.2 460.4C122.7 454.8 114.7 440.5 113.8 425.7Z" fill="url(#gG)" stroke="#4aa516" stroke-width=".3"/><path d="M156.4 462.4C157.5 472 170.5 482 170.5 494.5a13.8 13.8 0 0 1-27.6 0c0-10 11-19 13.5-32.1z" fill="#cfe0bd" fill-opacity=".93" stroke="#8fae7c" stroke-width=".9"/><path d="M148 489a9 9 0 0 1 4-8" stroke="#fff" stroke-opacity=".7" stroke-width="1.2" fill="none"/><circle cx="149" cy="487.5" r="3.6" fill="url(#gY)"/><circle cx="157.5" cy="490.5" r="3" fill="url(#gB)"/><circle cx="161.2" cy="498" r="3" fill="url(#gB)"/><circle cx="150" cy="497" r="1" fill="#9fd06a"/><circle cx="166" cy="486" r="1" fill="#9fd06a"/><circle cx="153" cy="502" r="1" fill="#9fd06a"/><circle cx="166" cy="503" r="1" fill="#9fd06a"/><circle cx="158" cy="482" r="1" fill="#9fd06a"/></g></g>
<path d="M190.3 468Q216.3 472.8 225.1 473.6L223.5 468L246.6 477L223.5 485.4L225.1 480.3Q216.3 481.2 190.3 482.4Z" fill="url(#gA1)"/>
<path d="M404.8 468.5Q430.8 473.3 440.7 474.1L439.1 468.5L462.2 477.5L439.1 485.9L440.7 480.8Q430.8 481.7 404.8 482.9Z" fill="url(#gA2)"/>
<text x="220.4" y="465" font-size="14.8" text-anchor="middle">Potential</text>
<text x="219.9" y="499.4" font-size="14.8" text-anchor="middle">decrease</text>
<text x="434.1" y="465" font-size="14.8" text-anchor="middle">Potential</text>
<text x="433.6" y="499.4" font-size="14.8" text-anchor="middle">decrease</text>
<text x="107.2" y="555" font-size="14.3" text-anchor="middle">0 V</text>
<text x="326.3" y="555" font-size="14.3" text-anchor="middle">-0.9 V</text>
<text x="537" y="555" font-size="14.3" text-anchor="middle">-1.1 V</text>
</svg>
</body></html>
